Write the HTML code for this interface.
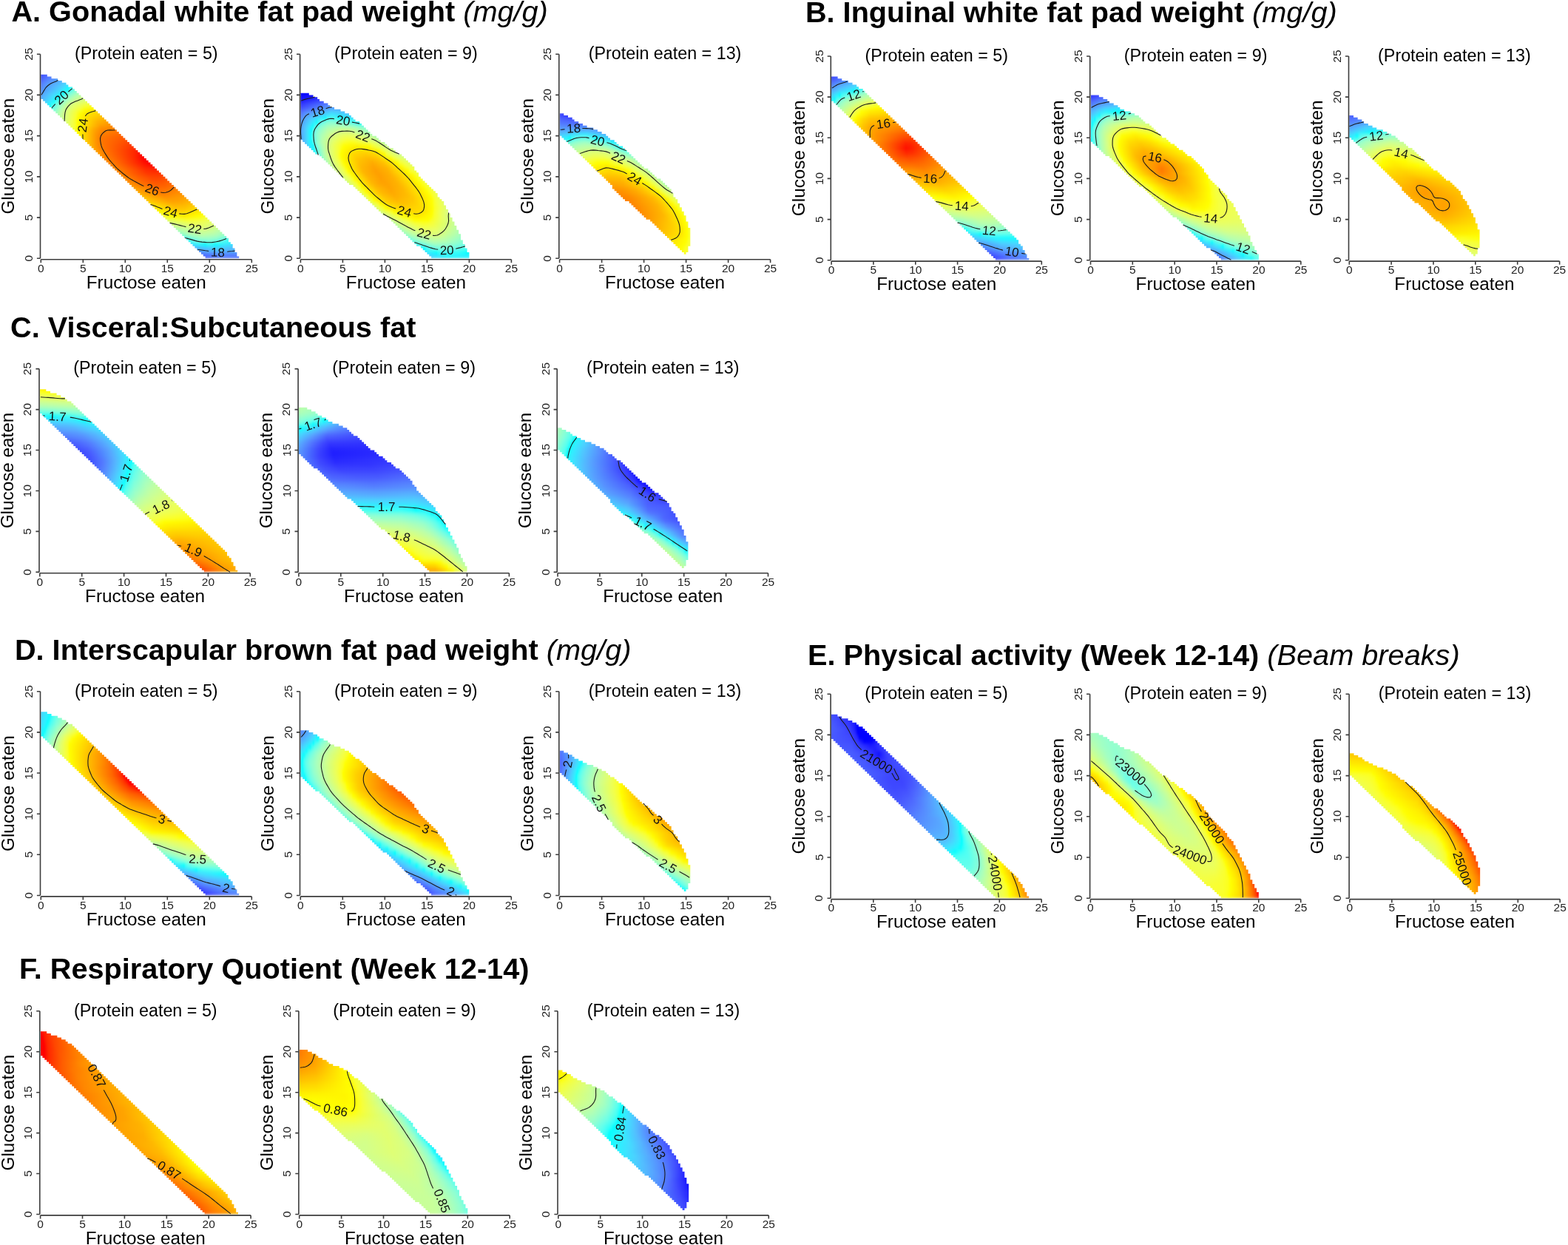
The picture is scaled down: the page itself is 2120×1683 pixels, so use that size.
<!DOCTYPE html><html><head><meta charset="utf-8"><title>Figure</title><style>body{margin:0;background:#fff;width:2120px;height:1683px;overflow:hidden;position:relative}
.hm{position:absolute;filter:url(#bl)}
.hm i{position:absolute;display:block;height:6.2px}
svg{position:absolute;left:0;top:0}
text{font-family:"Liberation Sans",Arial,Helvetica,sans-serif;fill:#000}
.ti{font-size:39.7px;font-weight:bold;white-space:pre}
.it{font-weight:normal;font-style:italic}
.sub{font-size:23.3px;text-anchor:middle}
.lab{font-size:24.3px;text-anchor:middle}
.tk{font-size:15.5px;text-anchor:middle;fill:#222}
.cl{font-size:17px;text-anchor:middle;fill:#111}
.ct{fill:none;stroke:#1a1a1a;stroke-width:1.1}
.ax{fill:none;stroke:#3c3c3c;stroke-width:1.6}</style></head><body><div class="hm" style="left:49px;top:92px;width:282px;height:264px;clip-path:url(#cA0)"><i style="left:216.1px;top:251.8px;width:62.7px;background:linear-gradient(90deg,#4453ff,#5378ff 49%,#5173ff)"></i><i style="left:211.5px;top:246.3px;width:66.3px;background:linear-gradient(90deg,#5580ff,#57a4ff 52%,#5793ff)"></i><i style="left:206.9px;top:240.7px;width:68.2px;background:linear-gradient(90deg,#57acff,#4bd1ff 53%,#55b5ff)"></i><i style="left:202.4px;top:235.2px;width:69.5px;background:linear-gradient(90deg,#4ad3ff,#2df2ff 23%,#17fbff 33%,#03ffff 38%,#21fffd 43%,#27fffc 49%,#1afffd 54%,#0ff 57%,#19faff 64%,#3ef 75%,#48d7ff)"></i><i style="left:193.3px;top:229.7px;width:75.4px;background:linear-gradient(90deg,#30f0ff,#1bfaff 8%,#06feff 11%,#29fffc 14%,#40fff7 17%,#6effe6 27%,#86ffd9 38%,#8effd4 53%,#7fffdd 67%,#67ffea 77%,#36fff9 89%,#23fffd 92%,#03ffff 95%,#1afaff)"></i><i style="left:188.7px;top:224.2px;width:76px;background:linear-gradient(90deg,#5bffef,#9effc7 29%,#b3ffb3 48%,#a7ffbf 71%,#74ffe3)"></i><i style="left:184.1px;top:218.6px;width:76.4px;background:linear-gradient(90deg,#91ffd1,#c0ffa5 33%,#cbff96 52%,#c2ffa2 72%,#a0ffc5)"></i><i style="left:179.6px;top:213.1px;width:73.5px;background:linear-gradient(90deg,#b3ffb3,#dcff7a 52%,#daff7e 69%,#c2ffa2)"></i><i style="left:170.5px;top:207.6px;width:75.3px;background:linear-gradient(90deg,#c8ff9a,#ebff5b 55%,#e9ff61 73%,#d8ff81)"></i><i style="left:165.9px;top:202.1px;width:76.1px;background:linear-gradient(90deg,#dcff7b,#faff2c 50%,#f7ff3a 70%,#e8ff63)"></i><i style="left:161.3px;top:196.6px;width:73.3px;background:linear-gradient(90deg,#ebff5d,#f8ff33 17%,#fdff1a 23%,#ffff01 27%,#fffd00 28%,#ffeb00 53%,#fffe00 81%,#fcff1f 89%,#f7ff38)"></i><i style="left:156.8px;top:191px;width:74.1px;background:linear-gradient(90deg,#f7ff39,#fbff25 6%,#fffd00 12%,#ffde00 34%,#ffd300 54%,#fff900)"></i><i style="left:147.7px;top:185.5px;width:75.9px;background:linear-gradient(90deg,#ffff07,#fffe00 2%,#ffbf00 53%,#ffc200 70%,#ffe000)"></i><i style="left:143.1px;top:180px;width:76.7px;background:linear-gradient(90deg,#ffea00,#ffac00 54%,#ffb100 72%,#ffcd00)"></i><i style="left:138.5px;top:174.5px;width:73.9px;background:linear-gradient(90deg,#ffd500,#ff9b00 53%,#ff9e00 73%,#ffb400)"></i><i style="left:134px;top:168.9px;width:74.8px;background:linear-gradient(90deg,#ffc300,#ff8600 52%,#ffa400)"></i><i style="left:124.9px;top:163.4px;width:76.5px;background:linear-gradient(90deg,#ffbc00,#ff7500 57%,#ff9200)"></i><i style="left:120.3px;top:157.9px;width:77.3px;background:linear-gradient(90deg,#ffaf00,#f60 57%,#ff6800 70%,#ff8400)"></i><i style="left:115.7px;top:152.4px;width:74.5px;background:linear-gradient(90deg,#ffa500,#ff6d00 38%,#ff5800 60%,#ff5a00 75%,#ff7400)"></i><i style="left:111.2px;top:146.9px;width:71.7px;background:linear-gradient(90deg,#ff9e00,#ff6400 39%,#ff4b00 63%,#ff4900 79%,#ff5d00)"></i><i style="left:102.1px;top:141.3px;width:77.1px;background:linear-gradient(90deg,#ffa300,#ff5f00 39%,#ff3e00 64%,#ff3a00 81%,#ff4c00)"></i><i style="left:97.5px;top:135.8px;width:74.2px;background:linear-gradient(90deg,#ff9f00,#ff3100 68%,#ff2900 83%,#ff3500)"></i><i style="left:92.9px;top:130.3px;width:75.1px;background:linear-gradient(90deg,#ff9e00,#ff2100 72%,#ff1700 86%,#ff2100)"></i><i style="left:88.4px;top:124.8px;width:72.3px;background:linear-gradient(90deg,#ff9f00,#ff0500 86%,#ff0200)"></i><i style="left:79.3px;top:119.2px;width:77.7px;background:linear-gradient(90deg,#ffb100,#ff8000 21%,#ff2c00 68%,#ff0100 85%,#f00)"></i><i style="left:74.7px;top:113.7px;width:74.8px;background:linear-gradient(90deg,#ffba00,#ff7400 29%,#ff2900 77%,#f00 95%,#f00)"></i><i style="left:70.1px;top:108.2px;width:75.7px;background:linear-gradient(90deg,#ffc600,#ff7500 30%,#ff0d00)"></i><i style="left:65.6px;top:102.7px;width:72.9px;background:linear-gradient(90deg,#ffd700,#ff9200 22%,#ff7100 37%,#ff2a00)"></i><i style="left:56.5px;top:97.2px;width:78.3px;background:linear-gradient(90deg,#fffc00,#ff9300 31%,#ff7300 43%,#ff3b00)"></i><i style="left:51.9px;top:91.6px;width:75.4px;background:linear-gradient(90deg,#f8ff36,#fffc00 6%,#ff7600 48%,#ff4f00)"></i><i style="left:47.3px;top:86.1px;width:76.3px;background:linear-gradient(90deg,#efff52,#f8ff34 6%,#fdff1c 9%,#ffff03 11%,#fffb00 12%,#ff9600 44%,#ff7d00 55%,#ff6100)"></i><i style="left:42.8px;top:80.6px;width:73.5px;background:linear-gradient(90deg,#e5ff6a,#f9ff31 12%,#fffe00 17%,#ffa600 48%,#f80 62%,#ff7400)"></i><i style="left:33.7px;top:75.1px;width:75.2px;background:linear-gradient(90deg,#cbff95,#f5ff41 22%,#fcff23 26%,#fffd00 29%,#ff9b00 71%,#ff8700)"></i><i style="left:29.1px;top:69.6px;width:76.1px;background:linear-gradient(90deg,#baffab,#f2ff49 26%,#fbff24 32%,#fffe00 35%,#ffb300 70%,#ff9600)"></i><i style="left:24.5px;top:64px;width:73.2px;background:linear-gradient(90deg,#a2ffc4,#ccff95 14%,#f2ff4b 33%,#faff2a 39%,#fffd00 44%,#ffd200 66%,#ffac00)"></i><i style="left:20px;top:58.5px;width:74.1px;background:linear-gradient(90deg,#7bffe0,#abffbb 11%,#d5ff86 25%,#f8ff36 45%,#fffd00 53%,#ffe300 67%,#ffc400)"></i><i style="left:10.9px;top:53px;width:75.8px;background:linear-gradient(90deg,#38e9ff,#28f4ff 3%,#07ffff 6%,#34fffa 8%,#48fff5 9%,#78ffe1 15%,#b6ffb0 29%,#deff77 42%,#f9ff2f 64%,#fffe00 71%,#ffe000)"></i><i style="left:6.3px;top:47.5px;width:76.7px;background:linear-gradient(90deg,#50c6ff,#31efff 12%,#1df9ff 15%,#07feff 16%,#2bfffb 18%,#41fff7 19%,#68ffe9 24%,#a1ffc4 34%,#c9ff98 45%,#e2ff6f 57%,#faff2b 85%,#ff0 94%,#fff800)"></i><i style="left:6.3px;top:41.9px;width:71.8px;background:linear-gradient(90deg,#55b7ff,#3de5ff 16%,#12fffe 26%,#32fffa 27%,#45fff6 29%,#6bffe8 34%,#98ffcc 42%,#bcffa9 52%,#d4ff88 65%,#f3ff47)"></i><i style="left:6.3px;top:36.4px;width:66px;background:linear-gradient(90deg,#57a9ff,#3fe2ff 25%,#2bf2ff 32%,#0bffff 37%,#31fffa 39%,#53fff2 42%,#7effde 49%,#9bffc9 56%,#bcffa8 70%,#deff76)"></i><i style="left:6.3px;top:30.9px;width:60.4px;background:linear-gradient(90deg,#589bff,#51c3ff 19%,#40e1ff 37%,#27f5ff 46%,#09feff 50%,#26fffc 52%,#4dfff3 56%,#7fffdd 65%,#a4ffc2 79%,#c3ffa0)"></i><i style="left:6.3px;top:25.4px;width:54.6px;background:linear-gradient(90deg,#578fff,#48d6ff 47%,#38e9ff 57%,#14fcff 66%,#15fffe 68%,#34fffa 70%,#46fff6 72%,#68ffe9 79%,#9effc7)"></i><i style="left:6.3px;top:19.9px;width:48.5px;background:linear-gradient(90deg,#5580ff,#589fff 19%,#56b4ff 40%,#4bd2ff 64%,#2ff0ff 81%,#1cf9ff 86%,#08feff 88%,#3afff9 93%,#5effee)"></i><i style="left:6.3px;top:14.3px;width:41.1px;background:linear-gradient(90deg,#506dff,#578dff 25%,#57aeff 64%,#3fe2ff)"></i><i style="left:6.3px;top:8.8px;width:31.3px;background:linear-gradient(90deg,#4759ff,#547dff 41%,#57aaff)"></i><i style="left:6.3px;top:3.3px;width:17.4px;background:linear-gradient(90deg,#3c44ff,#5274ff)"></i></div><div class="hm" style="left:400px;top:118px;width:243px;height:238px;clip-path:url(#cA1)"><i style="left:172.4px;top:225.8px;width:68.1px;background:linear-gradient(90deg,#52c0ff,#41e0ff 24%,#2bf2ff 46%,#27f4ff 61%,#37ebff)"></i><i style="left:165.2px;top:220.3px;width:74.4px;background:linear-gradient(90deg,#4eccff,#33edff 20%,#05ffff 34%,#18fffe 35%,#30fffa 40%,#47fff5 52%,#2cfffb 75%,#19fffe 83%,#02ffff 88%,#1ef8ff)"></i><i style="left:157.9px;top:214.7px;width:79.4px;background:linear-gradient(90deg,#44dcff,#2bf3ff 13%,#0cfdff 19%,#0ffffe 20%,#26fffc 22%,#3ffff7 25%,#65ffeb 33%,#75ffe3 42%,#7bffe0 55%,#5bffef 86%,#40fff7)"></i><i style="left:154.3px;top:209.2px;width:80.8px;background:linear-gradient(90deg,#24f6ff,#02ffff 4%,#1ffffd 6%,#2ffffb 7%,#60ffed 16%,#8cffd5 30%,#9fffc6 43%,#9affca 63%,#67ffea)"></i><i style="left:147px;top:203.7px;width:85.5px;background:linear-gradient(90deg,#39fff9,#60ffed 5%,#85ffda 15%,#a9ffbd 30%,#bdffa7 45%,#b7ffaf 64%,#81ffdc)"></i><i style="left:139.8px;top:198.2px;width:90px;background:linear-gradient(90deg,#5bffef,#84ffda 8%,#a9ffbd 19%,#c7ff9b 35%,#d3ff89 47%,#d4ff87 58%,#95ffce)"></i><i style="left:136.1px;top:192.6px;width:90.9px;background:linear-gradient(90deg,#82ffdc,#a7ffbf 10%,#c7ff9b 23%,#dfff76 39%,#e4ff6c 51%,#e1ff72 61%,#a5ffc1)"></i><i style="left:128.9px;top:187.1px;width:95.5px;background:linear-gradient(90deg,#8cffd5,#b3ffb3 11%,#d6ff84 25%,#eaff5e 40%,#efff51 51%,#eaff5e 64%,#b2ffb4)"></i><i style="left:121.6px;top:181.6px;width:100.1px;background:linear-gradient(90deg,#96ffcd,#beffa6 11%,#dfff76 25%,#f5ff40 41%,#f9ff2f 51%,#f6ff3d 62%,#bfa)"></i><i style="left:118px;top:176.1px;width:101.3px;background:linear-gradient(90deg,#adffb9,#d5ff87 14%,#f4ff43 31%,#fcff21 37%,#fffe00 42%,#ff0 60%,#fbff25 65%,#ecff59 76%,#c2ffa2)"></i><i style="left:110.7px;top:170.6px;width:106.1px;background:linear-gradient(90deg,#b3ffb3,#d7ff83 11%,#f5ff41 25%,#fdff1d 30%,#ff0 32%,#ffe800 51%,#fffe00 68%,#faff2d 72%,#edff58 80%,#d9ff80 89%,#c5ff9d)"></i><i style="left:103.5px;top:165px;width:110.6px;background:linear-gradient(90deg,#b7ffaf,#f5ff41 20%,#fcff1e 24%,#fffe00 26%,#ffe300 38%,#ffda00 52%,#ffe500 63%,#fffe00 73%,#faff2a 76%,#f1ff4d 81%,#ddff79 91%,#caff97)"></i><i style="left:99.8px;top:159.5px;width:111.1px;background:linear-gradient(90deg,#c7ff9b,#efff52 12%,#faff2c 16%,#ffff03 19%,#fffb00 20%,#ffd900 32%,#ffcd00 46%,#ffd900 62%,#fffc00 76%,#ffff06 77%,#fbff26 79%,#f2ff4b 85%,#d1ff8d)"></i><i style="left:92.6px;top:154px;width:115.3px;background:linear-gradient(90deg,#c6ff9c,#f3ff47 13%,#fbff27 16%,#fffd00 18%,#ffcf00 30%,#ffc000 45%,#ffd000 61%,#fffd00 79%,#fbff26 82%,#f4ff45 86%,#d6ff85)"></i><i style="left:85.3px;top:148.5px;width:119.4px;background:linear-gradient(90deg,#c1ffa3,#f2ff4a 12%,#faff2a 15%,#fffe00 17%,#ffc600 31%,#ffb500 43%,#ffc700 61%,#fffd00 82%,#ffff05 83%,#fbff24 85%,#f6ff3c 87%,#dcff7a)"></i><i style="left:81.7px;top:142.9px;width:119px;background:linear-gradient(90deg,#c7ff9a,#f5ff41 12%,#fbff29 13%,#fffd00 15%,#ffc000 30%,#ffac00 43%,#ffbe00 59%,#fffc00 83%,#ffff03 84%,#fcff22 86%,#f7ff39 88%,#e0ff73)"></i><i style="left:74.4px;top:137.4px;width:121.9px;background:linear-gradient(90deg,#bfffa5,#efff51 11%,#f9ff31 14%,#feff08 16%,#fffb00 17%,#ffba00 32%,#ffa700 45%,#ffb800 59%,#fffe00 85%,#fdff1b 87%,#f8ff34 90%,#e5ff6a)"></i><i style="left:67.2px;top:131.9px;width:125.1px;background:linear-gradient(90deg,#b6ffaf,#daff7f 7%,#f0ff50 13%,#faff2e 16%,#fcff1d 17%,#fffe00 17%,#ffb800 33%,#ffa300 47%,#ffb600 61%,#fffe00 85%,#fdff1c 87%,#f8ff34 90%,#e6ff68)"></i><i style="left:63.5px;top:126.4px;width:123.7px;background:linear-gradient(90deg,#bdffa7,#f0ff4e 12%,#faff2c 15%,#fffd00 17%,#ffb900 31%,#ffa700 39%,#ffa100 46%,#ffb300 60%,#fffe00 85%,#fdff1b 87%,#f8ff33 90%,#e7ff66)"></i><i style="left:56.3px;top:120.9px;width:125.5px;background:linear-gradient(90deg,#b3ffb3,#f0ff4f 14%,#f9ff2f 16%,#fcff20 17%,#ffff02 18%,#fffa00 19%,#ffb500 34%,#ff9f00 47%,#ffb100 61%,#fffe00 85%,#fcff1e 87%,#f8ff35 90%,#e7ff66)"></i><i style="left:49px;top:115.3px;width:126.9px;background:linear-gradient(90deg,#a4ffc2,#c9ff98 6%,#efff52 15%,#f8ff34 18%,#fffc00 21%,#ffb400 36%,#ff9e00 50%,#ffaf00 62%,#fffd00 86%,#f8ff33 90%,#e7ff66)"></i><i style="left:45.4px;top:109.8px;width:125.7px;background:linear-gradient(90deg,#a5ffc0,#c7ff9b 5%,#edff57 15%,#f9ff2f 18%,#fcff20 19%,#ffff05 20%,#fffa00 21%,#ffb600 36%,#ff9f00 50%,#ffb100 63%,#fffe00 85%,#fcff1e 86%,#f8ff37 89%,#e4ff6c)"></i><i style="left:38.1px;top:104.3px;width:129.1px;background:linear-gradient(90deg,#85ffda,#c2ffa2 7%,#f0ff4f 18%,#fbff25 21%,#fffd00 23%,#ffb800 39%,#ffa300 52%,#ffb700 65%,#fffd00 82%,#fbff27 85%,#f6ff3d 88%,#deff78)"></i><i style="left:30.9px;top:98.8px;width:132.2px;background:linear-gradient(90deg,#34fffa,#63ffec 2%,#7fffdd 3%,#b5ffb1 9%,#daff7e 15%,#f4ff42 22%,#faff2e 23%,#fffc00 26%,#ffbe00 42%,#ffab00 55%,#ffbf00 66%,#fffd00 81%,#faff2b 83%,#f3ff47 87%,#d7ff83)"></i><i style="left:27.2px;top:93.2px;width:130.2px;background:linear-gradient(90deg,#21f7ff,#0ff 1%,#3cfff8 2%,#67ffea 4%,#8effd3 6%,#b1ffb4 10%,#d9ff80 16%,#f4ff43 23%,#fbff24 25%,#fffd00 27%,#ffc900 42%,#ffb800 55%,#ffc500 65%,#fffd00 78%,#faff2d 81%,#f1ff4c 84%,#e3ff6d 90%,#ceff91)"></i><i style="left:20px;top:87.7px;width:131.4px;background:linear-gradient(90deg,#4ad4ff,#38e9ff 3%,#0ffffe 5%,#3efff8 6%,#68ffe9 8%,#abffbb 13%,#d6ff85 19%,#f6ff3b 28%,#fdff1a 30%,#ffff03 31%,#fffc00 32%,#ffd500 45%,#ffc900 57%,#ffd300 67%,#fffe00 77%,#fdff1a 77%,#f8ff35 79%,#ebff5b 83%,#daff7e 90%,#c4ff9f)"></i><i style="left:12.7px;top:82.2px;width:132.9px;background:linear-gradient(90deg,#56b3ff,#43ddff 5%,#35ecff 7%,#18fbff 9%,#25fffc 9%,#46fff6 10%,#5bffef 11%,#79ffe1 13%,#baffab 19%,#deff78 25%,#f8ff33 34%,#fffe00 37%,#ffe700 46%,#ffdc00 57%,#ffe700 68%,#ff0 75%,#fdff19 76%,#f8ff35 78%,#e4ff6c 84%,#cfff8f 90%,#b5ffb0)"></i><i style="left:9.1px;top:76.7px;width:128.7px;background:linear-gradient(90deg,#57a6ff,#41e0ff 7%,#22f7ff 10%,#03ffff 11%,#39fff9 12%,#63ffeb 13%,#89ffd7 16%,#b2ffb4 21%,#e4ff6c 30%,#f9ff2f 39%,#ffff03 43%,#fffd00 44%,#fff000 57%,#fffe00 70%,#fbff26 73%,#d6ff85 87%,#bfffa5 93%,#a8ffbe)"></i><i style="left:6.4px;top:71.2px;width:123.6px;background:linear-gradient(90deg,#589bff,#53c0ff 5%,#42dfff 8%,#24f6ff 11%,#06feff 12%,#38fff9 13%,#52fff2 14%,#71ffe5 16%,#99ffcb 19%,#baffac 24%,#e9ff61 37%,#fbff25 49%,#fdff15 55%,#fcff1d 59%,#e3ff6d 81%,#9bffc9)"></i><i style="left:6.4px;top:65.6px;width:115.8px;background:linear-gradient(90deg,#589fff,#44dcff 8%,#35ecff 10%,#14fcff 12%,#4afff5 14%,#78ffe1 17%,#b3ffb2 25%,#dbff7c 37%,#efff52 49%,#f3ff46 55%,#f1ff4e 62%,#cfff90 84%,#96ffcd)"></i><i style="left:6.4px;top:60.1px;width:108.1px;background:linear-gradient(90deg,#58a2ff,#43deff 9%,#25f6ff 12%,#0bfdff 13%,#34fffa 14%,#4dfff3 15%,#6dffe7 17%,#8affd7 20%,#a9ffbd 26%,#cdff93 37%,#e0ff74 49%,#e5ff6a 57%,#e4ff6c 64%,#d7ff84 72%,#b0ffb6 90%,#90ffd2)"></i><i style="left:6.4px;top:54.6px;width:101.3px;background:linear-gradient(90deg,#58a2ff,#51c5ff 6%,#3fe3ff 10%,#2df1ff 12%,#08ffff 15%,#39fff9 16%,#4efff3 17%,#73ffe4 20%,#91ffd1 25%,#b9ffac 36%,#ceff91 53%,#ceff91 65%,#c7ff9b 72%,#7affe0)"></i><i style="left:6.4px;top:49.1px;width:94.7px;background:linear-gradient(90deg,#589eff,#53bfff 6%,#42dfff 12%,#2cf2ff 16%,#0cfdff 18%,#40fff7 20%,#51fff2 22%,#86ffd9 29%,#a7ffbf 40%,#b0ffb6 54%,#a7ffbf 69%,#97ffcd 78%,#71ffe5 92%,#49fff5)"></i><i style="left:6.4px;top:43.6px;width:88.1px;background:linear-gradient(90deg,#5897ff,#46daff 16%,#33edff 21%,#11fffe 26%,#31fffa 27%,#42fff7 29%,#61ffed 32%,#81ffdc 40%,#8cffd5 47%,#81ffdc 60%,#59ffef 78%,#36fff9 87%,#23fffc 90%,#04feff 92%,#18fbff 95%,#2bf3ff)"></i><i style="left:6.4px;top:38px;width:82.2px;background:linear-gradient(90deg,#568aff,#56b3ff 11%,#48d7ff 25%,#30efff 35%,#0dfdff 40%,#14fffe 42%,#38fff9 44%,#4afff4 49%,#49fff5 53%,#37fff9 58%,#26fffc 61%,#01ffff 64%,#1cf9ff 68%,#2ff0ff 75%,#49d6ff)"></i><i style="left:6.4px;top:32.5px;width:75.6px;background:linear-gradient(90deg,#5378ff,#589bff 12%,#55b5ff 30%,#40e1ff 55%,#54bbff)"></i><i style="left:6.4px;top:27px;width:68.3px;background:linear-gradient(90deg,#4a5eff,#5583ff 24%,#55b8ff 61%,#55b8ff 75%,#57a4ff)"></i><i style="left:6.4px;top:21.5px;width:55.2px;background:linear-gradient(90deg,#3a40ff,#5790ff 73%,#5792ff)"></i><i style="left:6.4px;top:15.9px;width:43.3px;background:linear-gradient(90deg,#2323ff,#5170ff)"></i><i style="left:6.4px;top:10.4px;width:34px;background:linear-gradient(90deg,#1211ff,#1d1cff 48%,#3a41ff)"></i><i style="left:6.4px;top:4.9px;width:25.1px;background:linear-gradient(90deg,#0303ff,#0404ff)"></i></div><div class="hm" style="left:750px;top:145px;width:190px;height:211px;clip-path:url(#cA2)"><i style="left:167.7px;top:198.8px;width:16.8px;background:linear-gradient(90deg,#fffd00,#ffff01 7%,#fbff26 36%,#f2ff49)"></i><i style="left:163.1px;top:193.3px;width:22.7px;background:linear-gradient(90deg,#fff500,#ffff02 32%,#fbff26 53%,#f2ff4a)"></i><i style="left:158.2px;top:187.7px;width:28.7px;background:linear-gradient(90deg,#ffec00,#fffe00 48%,#fbff24 64%,#f1ff4d)"></i><i style="left:152px;top:182.2px;width:35.1px;background:linear-gradient(90deg,#ffe100,#fffe00 67%,#fbff27 80%,#f3ff47)"></i><i style="left:145.9px;top:176.7px;width:41.6px;background:linear-gradient(90deg,#ffd100,#ff0 78%,#fbff27 86%,#f3ff47)"></i><i style="left:139.7px;top:171.2px;width:47.8px;background:linear-gradient(90deg,#ffbf00,#ffe300 59%,#fffd00 83%,#fbff26 90%,#f4ff43)"></i><i style="left:133.6px;top:165.6px;width:53.9px;background:linear-gradient(90deg,#ffae00,#ffdf00 64%,#fffe00 85%,#faff2b 91%,#f2ff49)"></i><i style="left:127.5px;top:160.1px;width:59.6px;background:linear-gradient(90deg,#ff9f00,#ffda00 63%,#fffe00 87%,#faff2d 92%,#f1ff4b)"></i><i style="left:121.3px;top:154.6px;width:65.2px;background:linear-gradient(90deg,#ff9200,#ffd100 60%,#fffd00 86%,#faff2b 91%,#efff52)"></i><i style="left:115.2px;top:149.1px;width:69.7px;background:linear-gradient(90deg,#ff8700,#ffc100 52%,#fffb00 85%,#ffff01 87%,#fdff19 89%,#f9ff31 92%,#eeff56)"></i><i style="left:109px;top:143.6px;width:73.7px;background:linear-gradient(90deg,#ff7f00,#ffb800 52%,#fffc00 86%,#f8ff33 92%,#edff58)"></i><i style="left:102.4px;top:138px;width:78.2px;background:linear-gradient(90deg,#ff7800,#ffb500 53%,#fffd00 85%,#faff2e 90%,#e9ff61)"></i><i style="left:96.3px;top:132.5px;width:82px;background:linear-gradient(90deg,#ff7400,#ffb200 54%,#fffe00 85%,#fdff17 86%,#f9ff32 89%,#e5ff6a)"></i><i style="left:89.7px;top:127px;width:86.1px;background:linear-gradient(90deg,#ff7400,#ffb300 55%,#ffcb00 65%,#fffd00 81%,#fcff24 84%,#f7ff39 87%,#dcff7a)"></i><i style="left:83.6px;top:121.5px;width:88.6px;background:linear-gradient(90deg,#ff7900,#ff8a00 23%,#ffb400 55%,#ffcd00 66%,#fffc00 79%,#fcff23 82%,#f4ff43 86%,#d6ff86)"></i><i style="left:78.5px;top:115.9px;width:90.4px;background:linear-gradient(90deg,#ff8200,#ff8c00 22%,#ffad00 47%,#ffce00 63%,#fffc00 76%,#f8ff35 80%,#efff52 84%,#c8ff9a)"></i><i style="left:72.9px;top:110.4px;width:92.7px;background:linear-gradient(90deg,#ff8e00,#ff9100 20%,#fa0 41%,#ffce00 59%,#fffd00 73%,#faff2b 75%,#e9ff61 81%,#d5ff87 89%,#b7ffae)"></i><i style="left:67.8px;top:104.9px;width:94.5px;background:linear-gradient(90deg,#ff9d00,#ff9a00 17%,#ffa700 33%,#ffce00 55%,#fffc00 70%,#f8ff35 73%,#e3ff6e 80%,#c6ff9c 89%,#a3ffc2)"></i><i style="left:62.7px;top:99.4px;width:96.3px;background:linear-gradient(90deg,#ffaf00,#ffa700 17%,#ffae00 31%,#ffd400 51%,#fffc00 65%,#f6ff3b 70%,#dfff76 79%,#b6ffb0 89%,#87ffd8)"></i><i style="left:57.1px;top:93.9px;width:95.3px;background:linear-gradient(90deg,#ffc400,#ffb700 18%,#ffba00 33%,#fc0 45%,#fffd00 64%,#faff2c 67%,#eaff5e 75%,#beffa7 88%,#81ffdc)"></i><i style="left:51.4px;top:88.3px;width:93.7px;background:linear-gradient(90deg,#ffd800,#ffc700 22%,#ffc900 34%,#ffd700 46%,#fffd00 61%,#f7ff3a 67%,#d3ff8a 83%,#acffba 93%,#83ffdb)"></i><i style="left:45.8px;top:82.8px;width:92.7px;background:linear-gradient(90deg,#ffec00,#ffd700 31%,#ffe700 48%,#ff0 59%,#fcff23 62%,#f1ff4c 68%,#c6ff9c 86%,#88ffd8)"></i><i style="left:40.2px;top:77.3px;width:91.6px;background:linear-gradient(90deg,#feff09,#ff0 1%,#ffe800 32%,#ff0 52%,#fdff1a 55%,#f9ff2f 59%,#d2ff8a 80%,#b1ffb5 91%,#89ffd7)"></i><i style="left:34.9px;top:71.8px;width:90.3px;background:linear-gradient(90deg,#f2ff49,#fbff27 15%,#ff0 25%,#ff0 42%,#fcff1e 46%,#f4ff42 53%,#d5ff87 76%,#adffb9 90%,#80ffdd)"></i><i style="left:29.4px;top:66.2px;width:89.7px;background:linear-gradient(90deg,#e3ff6e,#f5ff40 28%,#f6ff3d 42%,#ebff5b 54%,#d9ff7f 64%,#bcffa9 81%,#9dffc8 91%,#70ffe5)"></i><i style="left:23.2px;top:60.7px;width:90.3px;background:linear-gradient(90deg,#cfff8f,#e8ff62 33%,#e8ff63 46%,#e1ff71 54%,#b7ffae 72%,#8dffd4 87%,#69ffe9 95%,#3efff8)"></i><i style="left:17.8px;top:55.2px;width:89.7px;background:linear-gradient(90deg,#b6ffb0,#d7ff83 36%,#ccff95 59%,#adffb9 71%,#63ffeb 87%,#41fff7 92%,#07feff 96%,#2af3ff)"></i><i style="left:12.3px;top:49.7px;width:89.1px;background:linear-gradient(90deg,#8effd4,#b6ffb0 22%,#bdffa8 44%,#a6ffbf 63%,#8effd3 72%,#56fff0 81%,#3afff8 83%,#07feff 86%,#1afaff 87%,#2bf2ff 90%,#47d8ff)"></i><i style="left:6.6px;top:44.2px;width:87.6px;background:linear-gradient(90deg,#3efff8,#8fffd3 22%,#a2ffc4 38%,#96ffcd 50%,#5cffee 71%,#3afff9 78%,#2bfffb 79%,#0ffffe 80%,#3ae7ff 88%,#51c5ff)"></i><i style="left:6.6px;top:38.6px;width:79.7px;background:linear-gradient(90deg,#3ce6ff,#29f4ff 12%,#12fcff 16%,#01ffff 17%,#23fffc 19%,#34fffa 20%,#59ffef 26%,#6affe9 33%,#6dffe7 45%,#61ffec 51%,#42fff7 57%,#25fffc 59%,#01ffff 61%,#1df9ff 64%,#35ecff 71%,#55b4ff)"></i><i style="left:6.6px;top:33.1px;width:72.5px;background:linear-gradient(90deg,#51c4ff,#3de5ff 32%,#39e9ff 49%,#51c5ff 75%,#589dff)"></i><i style="left:6.6px;top:27.6px;width:64.6px;background:linear-gradient(90deg,#57a4ff,#56b3ff 59%,#5685ff)"></i><i style="left:6.6px;top:22.1px;width:53.1px;background:linear-gradient(90deg,#568aff,#5584ff 74%,#5172ff)"></i><i style="left:6.6px;top:16.6px;width:40.3px;background:linear-gradient(90deg,#5273ff,#4757ff)"></i><i style="left:6.6px;top:11px;width:29.3px;background:linear-gradient(90deg,#4a5eff,#3438ff)"></i><i style="left:6.6px;top:5.5px;width:19.2px;background:linear-gradient(90deg,#3d46ff,#1e1eff)"></i></div><div class="hm" style="left:1118px;top:95px;width:281px;height:263px;clip-path:url(#cB0)"><i style="left:215.3px;top:251.2px;width:62.5px;background:linear-gradient(90deg,#201fff,#3b43ff 22%,#4d67ff 49%,#5689ff)"></i><i style="left:210.8px;top:245.7px;width:66.2px;background:linear-gradient(90deg,#3b42ff,#5685ff 50%,#58a0ff)"></i><i style="left:206.2px;top:240.2px;width:68.1px;background:linear-gradient(90deg,#4a5fff,#589eff 47%,#55b7ff)"></i><i style="left:201.7px;top:234.6px;width:69.4px;background:linear-gradient(90deg,#547dff,#53bdff 51%,#4dceff)"></i><i style="left:192.6px;top:229.1px;width:75.2px;background:linear-gradient(90deg,#5899ff,#57a8ff 18%,#47d8ff 55%,#3de5ff)"></i><i style="left:188px;top:223.6px;width:75.8px;background:linear-gradient(90deg,#54b9ff,#48d6ff 27%,#29f3ff 53%,#1df9ff 67%,#15fbff)"></i><i style="left:183.5px;top:218.1px;width:76.2px;background:linear-gradient(90deg,#48d7ff,#2cf2ff 21%,#1bfaff 27%,#0ff 31%,#1afffd 33%,#38fff9 37%,#59ffef 49%,#63ffec 64%,#5affef)"></i><i style="left:178.9px;top:212.6px;width:73.3px;background:linear-gradient(90deg,#2af3ff,#1afaff 6%,#07feff 9%,#3bfff8 16%,#5dffee 23%,#78ffe1 34%,#8bffd5 50%,#8fffd2 69%,#82ffdb)"></i><i style="left:169.8px;top:207.1px;width:75.1px;background:linear-gradient(90deg,#4dfff4,#91ffd2 33%,#a4ffc1 48%,#acffba 70%,#9fffc6)"></i><i style="left:165.3px;top:201.6px;width:75.9px;background:linear-gradient(90deg,#88ffd7,#96ffce 18%,#bcffa9 55%,#bfffa5 74%,#b5ffb0)"></i><i style="left:160.7px;top:196px;width:73.1px;background:linear-gradient(90deg,#abffbb,#cdff93 59%,#c8ff9a)"></i><i style="left:156.2px;top:190.5px;width:74px;background:linear-gradient(90deg,#c3ffa0,#daff7e 55%,#d4ff87)"></i><i style="left:147.1px;top:185px;width:75.7px;background:linear-gradient(90deg,#d1ff8c,#e0ff73 29%,#e7ff65 59%,#e0ff74)"></i><i style="left:142.5px;top:179.5px;width:76.5px;background:linear-gradient(90deg,#e1ff72,#efff52 31%,#f2ff48 52%,#f1ff4b 69%,#e8ff64)"></i><i style="left:138px;top:174px;width:73.7px;background:linear-gradient(90deg,#eeff53,#f2ff4a 16%,#fbff24 41%,#fcff1d 53%,#fbff25 69%,#f0ff4f)"></i><i style="left:133.4px;top:168.5px;width:74.6px;background:linear-gradient(90deg,#fbff27,#fdff15 14%,#ff0 22%,#fff300 52%,#ff0 83%,#fdff1d 89%,#f8ff34)"></i><i style="left:124.3px;top:163px;width:76.3px;background:linear-gradient(90deg,#fff500,#ffe200 57%,#fff900)"></i><i style="left:119.8px;top:157.4px;width:77.1px;background:linear-gradient(90deg,#ffe200,#ffd000 51%,#ffe900)"></i><i style="left:115.3px;top:151.9px;width:74.3px;background:linear-gradient(90deg,#ffd100,#ffbd00 51%,#ffd800)"></i><i style="left:110.7px;top:146.4px;width:71.5px;background:linear-gradient(90deg,#ffc100,#ffac00 55%,#ffc800)"></i><i style="left:101.6px;top:140.9px;width:76.9px;background:linear-gradient(90deg,#ffb500,#ffa100 30%,#ff9d00 52%,#ffbe00)"></i><i style="left:97.1px;top:135.4px;width:74px;background:linear-gradient(90deg,#ffa400,#ff8e00 51%,#ffb100)"></i><i style="left:92.5px;top:129.9px;width:74.9px;background:linear-gradient(90deg,#ff9400,#ff7f00 51%,#ffa800)"></i><i style="left:88px;top:124.4px;width:72.1px;background:linear-gradient(90deg,#ff8700,#ff7100 24%,#ff6c00 49%,#ff7800 70%,#ff9a00)"></i><i style="left:78.9px;top:118.8px;width:77.5px;background:linear-gradient(90deg,#ff8900,#ff6200 25%,#ff5600 44%,#ff6200 66%,#ff8d00)"></i><i style="left:74.3px;top:113.3px;width:74.6px;background:linear-gradient(90deg,#ff8900,#ff4f00 31%,#ff3f00 46%,#ff4900 65%,#ff7800)"></i><i style="left:69.8px;top:107.8px;width:75.5px;background:linear-gradient(90deg,#ff8d00,#ff2500 50%,#ff2d00 61%,#ff6b00)"></i><i style="left:65.2px;top:102.3px;width:72.7px;background:linear-gradient(90deg,#ff9400,#ff4f00 33%,#ff1000 57%,#ff1400 63%,#ff5700)"></i><i style="left:56.1px;top:96.8px;width:78.1px;background:linear-gradient(90deg,#ffab00,#ff1f00 65%,#ff2300 74%,#ff5100)"></i><i style="left:51.6px;top:91.3px;width:75.3px;background:linear-gradient(90deg,#ffb600,#ff3a00 70%,#ff3700 82%,#ff4a00)"></i><i style="left:47px;top:85.8px;width:76.1px;background:linear-gradient(90deg,#ffc200,#ff9000 27%,#ff5700 70%,#ff4d00 85%,#ff5200)"></i><i style="left:42.5px;top:80.3px;width:73.3px;background:linear-gradient(90deg,#ffd300,#ff9800 31%,#ff6a00 81%,#ff6200)"></i><i style="left:33.4px;top:74.7px;width:75px;background:linear-gradient(90deg,#fff800,#ffc000 22%,#ffa300 37%,#ff7b00)"></i><i style="left:28.8px;top:69.2px;width:75.9px;background:linear-gradient(90deg,#f5ff40,#fcff21 5%,#fffc00 8%,#ffc900 27%,#ffb000 41%,#ff9200)"></i><i style="left:24.3px;top:63.7px;width:73px;background:linear-gradient(90deg,#e4ff6b,#f8ff33 13%,#fdff1a 16%,#ff0 17%,#ffd500 34%,#ffc000 48%,#ffad00)"></i><i style="left:19.7px;top:58.2px;width:73.9px;background:linear-gradient(90deg,#cfff90,#f4ff45 20%,#fbff28 25%,#ffff02 28%,#ffd400 53%,#ffc400)"></i><i style="left:10.6px;top:52.7px;width:75.6px;background:linear-gradient(90deg,#9fffc6,#c7ff9b 14%,#ef5 33%,#faff2b 42%,#fdff15 45%,#ff0 47%,#ffea00 64%,#ffdc00)"></i><i style="left:6.1px;top:47.2px;width:76.5px;background:linear-gradient(90deg,#66ffea,#8effd3 7%,#afffb7 16%,#e5ff69 42%,#f8ff33 58%,#ff0 78%,#fff400)"></i><i style="left:6.1px;top:41.7px;width:71.6px;background:linear-gradient(90deg,#1ffffd,#4cfff4 3%,#6fffe6 8%,#95ffce 16%,#b1ffb5 26%,#e8ff64 63%,#f6ff3d)"></i><i style="left:6.1px;top:36.1px;width:65.8px;background:linear-gradient(90deg,#38e9ff,#1cf9ff 5%,#02ffff 7%,#30fffb 9%,#55fff1 12%,#75ffe3 18%,#8dffd4 25%,#cdff92 67%,#e3ff6e)"></i><i style="left:6.1px;top:30.6px;width:60.2px;background:linear-gradient(90deg,#4dceff,#2ef1ff 13%,#19faff 17%,#04feff 19%,#27fffc 21%,#39fff9 23%,#5affef 31%,#82ffdb 52%,#abffbb 73%,#c8ff99)"></i><i style="left:6.1px;top:25.1px;width:54.4px;background:linear-gradient(90deg,#56afff,#46d9ff 21%,#2df2ff 43%,#1bfaff 51%,#04feff 55%,#3afff8 62%,#5fffed 70%,#82ffdc 83%,#a0ffc5)"></i><i style="left:6.1px;top:19.6px;width:48.4px;background:linear-gradient(90deg,#5791ff,#55b6ff 24%,#46daff 62%,#30efff 79%,#0ffdff 88%,#13fffe 90%,#2dfffb 93%,#52fff2)"></i><i style="left:6.1px;top:14.1px;width:41px;background:linear-gradient(90deg,#5274ff,#5790ff 22%,#57acff 58%,#47d9ff)"></i><i style="left:6.1px;top:8.6px;width:31.2px;background:linear-gradient(90deg,#4757ff,#589fff)"></i><i style="left:6.1px;top:3.1px;width:17.3px;background:linear-gradient(90deg,#3439ff,#4c64ff)"></i></div><div class="hm" style="left:1468px;top:121px;width:243px;height:237px;clip-path:url(#cB1)"><i style="left:172.1px;top:225.2px;width:68px;background:linear-gradient(90deg,#4656ff,#578fff 24%,#51c5ff 47%,#36ebff 66%,#21f7ff 73%,#0cfdff 76%,#4afff4 85%,#76ffe3)"></i><i style="left:164.8px;top:219.7px;width:74.2px;background:linear-gradient(90deg,#4e69ff,#589fff 23%,#4ccfff 42%,#2ff0ff 57%,#1df9ff 62%,#01ffff 65%,#21fffd 66%,#31fffa 68%,#55fff1 74%,#77ffe2 85%,#92ffd0)"></i><i style="left:157.6px;top:214.2px;width:79.1px;background:linear-gradient(90deg,#5582ff,#57a9ff 20%,#4ccfff 33%,#2cf2ff 46%,#14fcff 51%,#03ffff 52%,#20fffd 54%,#3cfff8 57%,#5fffed 64%,#87ffd8 80%,#a4ffc2)"></i><i style="left:154px;top:208.6px;width:80.6px;background:linear-gradient(90deg,#58a2ff,#42dfff 27%,#2cf2ff 34%,#09feff 39%,#34fffa 41%,#4dfff4 44%,#77ffe2 54%,#94ffcf 70%,#b3ffb3)"></i><i style="left:146.7px;top:203.1px;width:85.2px;background:linear-gradient(90deg,#55b6ff,#36ebff 20%,#1ff8ff 26%,#01ffff 28%,#25fffc 30%,#4dfff3 34%,#71ffe5 41%,#8cffd5 49%,#a7ffbf 65%,#c0ffa4)"></i><i style="left:139.5px;top:197.6px;width:89.8px;background:linear-gradient(90deg,#50c6ff,#35ecff 13%,#21f7ff 17%,#05ffff 19%,#2afffb 21%,#3cfff8 22%,#5cffee 26%,#7bffdf 32%,#97ffcd 41%,#b9ffac 63%,#cbff96)"></i><i style="left:135.9px;top:192.1px;width:90.7px;background:linear-gradient(90deg,#40e1ff,#2ff0ff 5%,#0efffe 10%,#2dfffb 11%,#3ffff7 13%,#67ffea 18%,#8cffd5 25%,#a6ffc0 34%,#c9ff99 61%,#d4ff88)"></i><i style="left:128.6px;top:186.6px;width:95.2px;background:linear-gradient(90deg,#2bf2ff,#0affff 5%,#2afffb 6%,#3bfff8 7%,#74ffe4 14%,#9dffc8 24%,#beffa6 37%,#d6ff85 61%,#dcff7c)"></i><i style="left:121.4px;top:181.1px;width:99.9px;background:linear-gradient(90deg,#43fff6,#65ffeb 6%,#9dffc8 18%,#ccff94 37%,#e0ff73 60%,#e1ff71)"></i><i style="left:117.8px;top:175.6px;width:101.1px;background:linear-gradient(90deg,#85ffda,#ccff94 26%,#e6ff66 49%,#eaff5f 65%,#e6ff68)"></i><i style="left:110.5px;top:170px;width:105.9px;background:linear-gradient(90deg,#9dffc8,#dcff7a 27%,#efff51 46%,#f1ff4c 59%,#e9ff61)"></i><i style="left:103.3px;top:164.5px;width:110.4px;background:linear-gradient(90deg,#abffbb,#e0ff74 22%,#f5ff42 37%,#f8ff33 45%,#f8ff34 57%,#eeff54 80%,#ebff5d)"></i><i style="left:99.7px;top:159px;width:110.8px;background:linear-gradient(90deg,#beffa7,#ecff5a 21%,#fbff29 33%,#fffe00 40%,#ff0 55%,#fbff25 63%,#f3ff47 76%,#ecff5b)"></i><i style="left:92.4px;top:153.5px;width:115px;background:linear-gradient(90deg,#c3ffa1,#f2ff4a 21%,#fbff27 27%,#fffe00 31%,#ffef00 47%,#ff0 64%,#fcff21 68%,#f5ff41 77%,#efff53 87%,#ecff5a)"></i><i style="left:85.2px;top:148px;width:119.1px;background:linear-gradient(90deg,#c5ff9d,#f5ff40 20%,#fbff25 24%,#fffe00 27%,#ffe900 37%,#ffe200 47%,#fffe00 69%,#fcff23 73%,#f5ff3f 80%,#efff52 88%,#ebff5b)"></i><i style="left:81.6px;top:142.5px;width:118.7px;background:linear-gradient(90deg,#d0ff8f,#f6ff3e 16%,#fcff1d 20%,#fffe00 22%,#ffdf00 35%,#ffd600 45%,#ffdf00 57%,#fffe00 72%,#fbff26 76%,#f5ff41 82%,#ebff5d)"></i><i style="left:74.3px;top:137px;width:121.6px;background:linear-gradient(90deg,#d0ff8f,#f4ff42 15%,#fcff22 19%,#ff0 21%,#ffd500 35%,#ffc900 46%,#ffd600 59%,#fffe00 76%,#fcff23 79%,#f4ff43 85%,#eaff5e)"></i><i style="left:67.1px;top:131.4px;width:124.7px;background:linear-gradient(90deg,#ceff91,#f5ff41 15%,#fcff20 18%,#fffe00 20%,#ffcb00 36%,#ffbd00 47%,#ffcb00 61%,#fffe00 80%,#fbff25 83%,#f5ff42 87%,#eeff54 93%,#eaff5f)"></i><i style="left:63.5px;top:125.9px;width:123.3px;background:linear-gradient(90deg,#d5ff86,#f5ff40 12%,#fbff27 15%,#fffd00 18%,#ffbf00 36%,#ffb000 47%,#ffc300 62%,#fffe00 83%,#fcff1d 85%,#f7ff39 89%,#ebff5c)"></i><i style="left:56.2px;top:120.4px;width:125.1px;background:linear-gradient(90deg,#d3ff8a,#f4ff44 12%,#faff2b 15%,#fffd00 17%,#ffb600 37%,#ffa300 48%,#ffb800 63%,#ff0 87%,#fcff1d 89%,#faff2d 91%,#eeff54)"></i><i style="left:49px;top:114.9px;width:126.6px;background:linear-gradient(90deg,#ceff91,#f4ff42 13%,#fbff26 15%,#fffe00 17%,#ffa400 41%,#ff9700 49%,#ffad00 63%,#fffd00 91%,#fbff28 95%,#f3ff45)"></i><i style="left:45.4px;top:109.4px;width:125.4px;background:linear-gradient(90deg,#d1ff8c,#f4ff42 11%,#fcff24 14%,#fffd00 15%,#ff8500 44%,#ff8000 46%,#fffd00 94%,#fcff20 96%,#f7ff38)"></i><i style="left:38.2px;top:103.9px;width:128.8px;background:linear-gradient(90deg,#c8ff99,#f1ff4d 12%,#fbff24 15%,#fffd00 17%,#ffbe00 30%,#ff7900 50%,#ff0 96%,#fdff1c 97%,#f9ff30)"></i><i style="left:30.9px;top:98.4px;width:131.9px;background:linear-gradient(90deg,#baffab,#f2ff4a 14%,#faff2e 17%,#ffff07 18%,#fffb00 19%,#ffac00 36%,#f80 53%,#ff8e00 57%,#fffe00 97%,#fbff26)"></i><i style="left:27.3px;top:92.8px;width:129.9px;background:linear-gradient(90deg,#b6ffaf,#f3ff48 14%,#faff2b 17%,#fdff1d 18%,#ffff02 18%,#fffb00 19%,#fa0 37%,#ff9a00 52%,#ffa500 62%,#fffe00 96%,#fbff24)"></i><i style="left:20.1px;top:87.3px;width:131.1px;background:linear-gradient(90deg,#98ffcc,#c9ff99 7%,#f1ff4e 17%,#fbff26 20%,#fffe00 22%,#ffb700 37%,#ffa400 47%,#ffb800 66%,#fffe00 97%,#fcff23)"></i><i style="left:12.8px;top:81.8px;width:132.6px;background:linear-gradient(90deg,#62ffec,#97ffcd 4%,#bfffa5 9%,#f5ff3f 22%,#fdff1c 24%,#ff0 25%,#ffc100 40%,#ffae00 50%,#ffbf00 64%,#fffe00 95%,#faff2b)"></i><i style="left:9.2px;top:76.3px;width:128.4px;background:linear-gradient(90deg,#30fffa,#5bffef 2%,#75ffe3 4%,#b2ffb4 10%,#dcff7a 17%,#f6ff3b 24%,#fbff25 26%,#fffe00 28%,#fc0 41%,#fb0 53%,#ffc400 62%,#fffe00 92%,#fcff1e 96%,#f8ff33)"></i><i style="left:6.5px;top:70.8px;width:123.3px;background:linear-gradient(90deg,#1bf9ff,#0ffffe 1%,#39fff9 2%,#5fffed 4%,#82ffdb 6%,#adffb9 11%,#d5ff87 18%,#f5ff41 26%,#fcff22 29%,#fffd00 31%,#ffd700 43%,#ffca00 55%,#ffd300 64%,#fffe00 85%,#fbff26 91%,#f4ff43)"></i><i style="left:6.5px;top:65.3px;width:115.5px;background:linear-gradient(90deg,#07feff,#31fffa 1%,#5affef 3%,#7fffdd 6%,#a9ffbd 11%,#d6ff85 19%,#f6ff3c 29%,#fcff1e 32%,#fffd00 34%,#ffe400 44%,#ffda00 54%,#ffe200 65%,#fffd00 79%,#fdff1d 82%,#f8ff33 86%,#eeff54)"></i><i style="left:6.5px;top:59.8px;width:107.8px;background:linear-gradient(90deg,#1ffffd,#40fff7 1%,#6fffe6 4%,#b1ffb5 13%,#e0ff74 23%,#f8ff35 34%,#fdff1c 37%,#fffe00 39%,#ffec00 56%,#ff0 76%,#fcff21 79%,#f6ff3d 84%,#e7ff65)"></i><i style="left:6.5px;top:54.3px;width:101px;background:linear-gradient(90deg,#22fffd,#41fff7 1%,#55fff1 2%,#7bffdf 6%,#a2ffc3 11%,#c2ffa1 18%,#ef5 35%,#faff2c 45%,#feff12 56%,#fdff15 61%,#e0ff74)"></i><i style="left:6.5px;top:48.7px;width:94.4px;background:linear-gradient(90deg,#11fcff,#56fff1 4%,#82ffdb 8%,#b4ffb2 18%,#d3ff8a 29%,#eaff5e 45%,#f0ff4e 60%,#e8ff62 82%,#d8ff81)"></i><i style="left:6.5px;top:43.2px;width:87.9px;background:linear-gradient(90deg,#2df1ff,#0afeff 3%,#45fff6 5%,#63ffeb 8%,#81ffdc 12%,#a9ffbd 21%,#c1ffa3 31%,#d5ff86 49%,#ddff79 65%,#cfff8f)"></i><i style="left:6.5px;top:37.7px;width:82px;background:linear-gradient(90deg,#40e1ff,#2bf3ff 4%,#06feff 7%,#2dfffb 8%,#44fff6 10%,#6affe8 14%,#8cffd5 21%,#a0ffc6 28%,#c4ff9f 72%,#c0ffa4)"></i><i style="left:6.5px;top:32.2px;width:75.4px;background:linear-gradient(90deg,#4eccff,#2ff0ff 11%,#1cf9ff 14%,#09feff 15%,#39fff9 18%,#48fff5 20%,#63ffeb 24%,#77ffe2 30%,#80ffdd 52%,#a3ffc2 80%,#a8ffbe)"></i><i style="left:6.5px;top:26.7px;width:68.1px;background:linear-gradient(90deg,#56b3ff,#49d5ff 14%,#2cf2ff 29%,#01ffff 56%,#2bfffb 63%,#55fff1 75%,#6fffe6 86%,#7effde)"></i><i style="left:6.5px;top:21.2px;width:55px;background:linear-gradient(90deg,#5796ff,#50c7ff 33%,#42e0ff 77%,#2bf3ff)"></i><i style="left:6.5px;top:15.7px;width:43.2px;background:linear-gradient(90deg,#5377ff,#5897ff 30%,#53beff)"></i><i style="left:6.5px;top:10.1px;width:33.9px;background:linear-gradient(90deg,#4757ff,#5172ff 34%,#5792ff)"></i><i style="left:6.5px;top:4.6px;width:25.1px;background:linear-gradient(90deg,#3033ff,#4d67ff)"></i></div><div class="hm" style="left:1818px;top:148px;width:190px;height:210px;clip-path:url(#cB2)"><i style="left:167px;top:198.2px;width:16.7px;background:linear-gradient(90deg,#d8ff81,#ddff79)"></i><i style="left:162.4px;top:192.7px;width:22.7px;background:linear-gradient(90deg,#dfff75,#e5ff69)"></i><i style="left:157.5px;top:187.2px;width:28.6px;background:linear-gradient(90deg,#e6ff68,#edff56)"></i><i style="left:151.3px;top:181.6px;width:35.1px;background:linear-gradient(90deg,#edff56,#f4ff43)"></i><i style="left:145.2px;top:176.1px;width:41.5px;background:linear-gradient(90deg,#f7ff3a,#f4ff43 33%,#faff2e)"></i><i style="left:139.1px;top:170.6px;width:47.6px;background:linear-gradient(90deg,#fffd00,#fcff22 39%,#feff0a 85%,#feff0c)"></i><i style="left:133px;top:165.1px;width:53.8px;background:linear-gradient(90deg,#ffeb00,#fff800)"></i><i style="left:126.8px;top:159.6px;width:59.5px;background:linear-gradient(90deg,#ffdb00,#fff000)"></i><i style="left:120.7px;top:154.1px;width:65.1px;background:linear-gradient(90deg,#ffce00,#ffe900)"></i><i style="left:114.6px;top:148.6px;width:69.5px;background:linear-gradient(90deg,#ffc400,#ffc300 34%,#ffe200)"></i><i style="left:108.5px;top:143px;width:73.5px;background:linear-gradient(90deg,#ffbe00,#ffb600 39%,#ffda00)"></i><i style="left:101.9px;top:137.5px;width:78px;background:linear-gradient(90deg,#fb0,#ffab00 44%,#ffd400)"></i><i style="left:95.8px;top:132px;width:81.8px;background:linear-gradient(90deg,#ffb900,#ffa200 48%,#ffcf00)"></i><i style="left:89.2px;top:126.5px;width:85.9px;background:linear-gradient(90deg,#ffb700,#ffa000 53%,#ffcb00)"></i><i style="left:83.1px;top:121px;width:88.4px;background:linear-gradient(90deg,#ffb600,#ffa200 57%,#ffc800)"></i><i style="left:78px;top:115.5px;width:90.2px;background:linear-gradient(90deg,#ffb600,#ffa100 38%,#ffab00 70%,#ffc800)"></i><i style="left:72.4px;top:110px;width:92.5px;background:linear-gradient(90deg,#ffb900,#ff9800 40%,#ffc900)"></i><i style="left:67.3px;top:104.4px;width:94.3px;background:linear-gradient(90deg,#ffbe00,#ff9e00 43%,#ffcd00)"></i><i style="left:62.2px;top:98.9px;width:96.1px;background:linear-gradient(90deg,#ffc600,#ffa600 42%,#ffd500)"></i><i style="left:56.6px;top:93.4px;width:95.1px;background:linear-gradient(90deg,#ffd100,#ffb200 45%,#ffdb00)"></i><i style="left:51px;top:87.9px;width:93.4px;background:linear-gradient(90deg,#ffde00,#ffc900 21%,#ffc100 45%,#ffe500)"></i><i style="left:45.4px;top:82.4px;width:92.4px;background:linear-gradient(90deg,#fe0,#ffd700 20%,#ffd000 41%,#fff100)"></i><i style="left:39.8px;top:76.9px;width:91.4px;background:linear-gradient(90deg,#feff0c,#fffe00 1%,#ffe400 20%,#fd0 38%,#ffff04)"></i><i style="left:34.5px;top:71.4px;width:90px;background:linear-gradient(90deg,#f3ff46,#fcff21 9%,#fffe00 13%,#ffea00 37%,#ff0 72%,#fdff1a 76%,#faff2b 81%,#f6ff3d)"></i><i style="left:29px;top:65.8px;width:89.4px;background:linear-gradient(90deg,#e5ff68,#f8ff36 17%,#fcff1d 22%,#fffe00 26%,#fff600 40%,#ffff01 60%,#fdff1c 67%,#f3ff47 82%,#ecff5a)"></i><i style="left:22.9px;top:60.3px;width:90.1px;background:linear-gradient(90deg,#d3ff89,#f6ff3c 28%,#fdff19 42%,#e2ff70)"></i><i style="left:17.4px;top:54.8px;width:89.5px;background:linear-gradient(90deg,#bcffa9,#e9ff62 29%,#f5ff40 46%,#daff7e)"></i><i style="left:12px;top:49.3px;width:88.9px;background:linear-gradient(90deg,#9affca,#c8ff9a 21%,#e8ff63 51%,#d1ff8c)"></i><i style="left:6.3px;top:43.8px;width:87.3px;background:linear-gradient(90deg,#5fffed,#83ffdb 8%,#a4ffc2 18%,#c4ff9f 39%,#d5ff86 63%,#c7ff9b)"></i><i style="left:6.3px;top:38.3px;width:79.5px;background:linear-gradient(90deg,#1afaff,#0bfdff 1%,#3ffff7 6%,#5cffee 10%,#83ffdb 19%,#9affca 28%,#bfa 68%,#b7ffae)"></i><i style="left:6.3px;top:32.8px;width:72.3px;background:linear-gradient(90deg,#42dfff,#2bf2ff 10%,#0efdff 14%,#17fffe 16%,#3efff8 19%,#53fff2 22%,#72ffe4 32%,#99ffcb 78%,#9effc7)"></i><i style="left:6.3px;top:27.3px;width:64.4px;background:linear-gradient(90deg,#52c2ff,#39e8ff 23%,#02ffff 48%,#23fffc 55%,#48fff5 70%,#72ffe4)"></i><i style="left:6.3px;top:21.7px;width:52.9px;background:linear-gradient(90deg,#57a5ff,#4bd1ff 43%,#2cf2ff)"></i><i style="left:6.3px;top:16.2px;width:40.2px;background:linear-gradient(90deg,#578bff,#51c4ff)"></i><i style="left:6.3px;top:10.7px;width:29.2px;background:linear-gradient(90deg,#5273ff,#5898ff)"></i><i style="left:6.3px;top:5.2px;width:19.1px;background:linear-gradient(90deg,#495cff,#506fff)"></i></div><div class="hm" style="left:47px;top:518px;width:282px;height:262px;clip-path:url(#cC0)"><i style="left:216.2px;top:249.9px;width:62.6px;background:linear-gradient(90deg,#ff3600,#ff4b00 22%,#ff9300 62%,#ffae00)"></i><i style="left:211.6px;top:244.4px;width:66.2px;background:linear-gradient(90deg,#ff5000,#ff6500 24%,#ffa000 64%,#ffb700)"></i><i style="left:207.1px;top:238.9px;width:68.1px;background:linear-gradient(90deg,#ff6300,#ff7600 24%,#fa0 66%,#ffbe00)"></i><i style="left:202.5px;top:233.4px;width:69.4px;background:linear-gradient(90deg,#ff7200,#ffb100 67%,#ffc400)"></i><i style="left:193.4px;top:227.9px;width:75.3px;background:linear-gradient(90deg,#ff7e00,#ffc900)"></i><i style="left:188.9px;top:222.4px;width:75.9px;background:linear-gradient(90deg,#ff8c00,#fc0)"></i><i style="left:184.3px;top:216.9px;width:76.2px;background:linear-gradient(90deg,#ff9d00,#ff9c00 16%,#ffce00)"></i><i style="left:179.8px;top:211.4px;width:73.4px;background:linear-gradient(90deg,#ffaf00,#ffab00 23%,#ffcd00)"></i><i style="left:170.7px;top:205.9px;width:75.1px;background:linear-gradient(90deg,#ffc700,#fb0 32%,#ffcd00)"></i><i style="left:166.1px;top:200.4px;width:76px;background:linear-gradient(90deg,#ffda00,#fc0 32%,#ffd300)"></i><i style="left:161.6px;top:195px;width:73.2px;background:linear-gradient(90deg,#ffed00,#fd0 33%,#ffda00)"></i><i style="left:157px;top:189.5px;width:74px;background:linear-gradient(90deg,#ffff08,#ff0 2%,#fe0 32%,#ffe500)"></i><i style="left:147.9px;top:184px;width:75.7px;background:linear-gradient(90deg,#f1ff4c,#fdff1d 26%,#ff0 36%,#fff200)"></i><i style="left:143.4px;top:178.5px;width:76.6px;background:linear-gradient(90deg,#e5ff69,#f9ff33 43%,#fcff1f 82%,#fffd00)"></i><i style="left:138.8px;top:173px;width:73.8px;background:linear-gradient(90deg,#d7ff83,#e6ff68 17%,#efff52 41%,#f9ff31)"></i><i style="left:134.3px;top:167.5px;width:74.6px;background:linear-gradient(90deg,#c6ff9c,#e3ff6d 34%,#f4ff43)"></i><i style="left:125.2px;top:162px;width:76.3px;background:linear-gradient(90deg,#a6ffc0,#c2ffa1 16%,#d6ff84 36%,#e9ff62 73%,#efff53)"></i><i style="left:120.6px;top:156.5px;width:77.2px;background:linear-gradient(90deg,#87ffd8,#aeffb8 16%,#c9ff98 36%,#e1ff71 73%,#eaff5f)"></i><i style="left:116px;top:151px;width:74.4px;background:linear-gradient(90deg,#58fff0,#8dffd4 14%,#b7ffae 35%,#d1ff8d 62%,#e4ff6c)"></i><i style="left:111.5px;top:145.5px;width:71.5px;background:linear-gradient(90deg,#25f5ff,#0efdff 3%,#18fffe 5%,#40fff7 8%,#66ffea 15%,#87ffd8 24%,#a1ffc4 35%,#c3ffa1 61%,#dcff7b)"></i><i style="left:102.4px;top:140px;width:76.9px;background:linear-gradient(90deg,#4ecdff,#31eeff 13%,#1afaff 18%,#09feff 19%,#36fff9 22%,#59fff0 27%,#90ffd2 42%,#b9ffad 66%,#d5ff86)"></i><i style="left:97.8px;top:134.5px;width:74.1px;background:linear-gradient(90deg,#56b3ff,#3ce6ff 20%,#25f6ff 26%,#0afdff 29%,#34fffa 32%,#4efff3 35%,#6dffe7 42%,#85ffd9 49%,#aeffb8 71%,#cbff95)"></i><i style="left:93.3px;top:129px;width:75px;background:linear-gradient(90deg,#589bff,#53bdff 14%,#43deff 26%,#2bf2ff 34%,#19faff 37%,#06feff 38%,#23fffc 40%,#44fff6 43%,#5fffed 48%,#7bffdf 55%,#a3ffc2 74%,#c2ffa2)"></i><i style="left:88.7px;top:123.5px;width:72.1px;background:linear-gradient(90deg,#5584ff,#56b1ff 19%,#48d7ff 33%,#29f4ff 44%,#15fbff 48%,#0ff 49%,#27fffc 51%,#39fff9 52%,#6cffe8 62%,#94ffcf 78%,#b4ffb1)"></i><i style="left:79.6px;top:118px;width:77.5px;background:linear-gradient(90deg,#4c62ff,#5796ff 22%,#51c3ff 38%,#38e9ff 51%,#26f5ff 56%,#10fcff 59%,#13fffe 60%,#2dfffb 62%,#48fff5 65%,#6dffe7 72%,#8effd3 84%,#abffbc)"></i><i style="left:75.1px;top:112.5px;width:74.7px;background:linear-gradient(90deg,#4451ff,#578cff 28%,#52c2ff 48%,#35ecff 63%,#21f7ff 68%,#03ffff 71%,#23fffc 72%,#35fff9 74%,#55fff1 78%,#78ffe1 88%,#95ffce)"></i><i style="left:70.5px;top:107px;width:75.6px;background:linear-gradient(90deg,#3c44ff,#547dff 29%,#55b5ff 50%,#3be7ff 68%,#24f6ff 74%,#0cfdff 77%,#3dfff8 82%,#52fff2 85%,#87ffd8)"></i><i style="left:66px;top:101.5px;width:72.7px;background:linear-gradient(90deg,#373cff,#5379ff 35%,#56b4ff 59%,#3ae8ff 79%,#24f6ff 86%,#0dfdff 89%,#3dfff8 94%,#61ffec)"></i><i style="left:56.9px;top:96px;width:78.2px;background:linear-gradient(90deg,#3033ff,#4a5fff 29%,#57adff 63%,#3ee3ff 84%,#2cf2ff 90%,#0efffe 96%,#2bfffb 97%,#46fff6)"></i><i style="left:52.3px;top:90.5px;width:75.3px;background:linear-gradient(90deg,#353aff,#485aff 29%,#57a7ff 67%,#48d8ff 86%,#21f7ff)"></i><i style="left:47.8px;top:85.1px;width:76.2px;background:linear-gradient(90deg,#3d45ff,#4b60ff 30%,#58a3ff 67%,#4ccfff 86%,#31efff)"></i><i style="left:43.2px;top:79.6px;width:73.3px;background:linear-gradient(90deg,#4553ff,#4b62ff 23%,#5379ff 44%,#56b2ff 77%,#3fe3ff)"></i><i style="left:34.1px;top:74.1px;width:75.1px;background:linear-gradient(90deg,#4c63ff,#4f6dff 25%,#5582ff 48%,#56b0ff 78%,#47d8ff)"></i><i style="left:29.6px;top:68.6px;width:75.9px;background:linear-gradient(90deg,#5277ff,#5791ff 47%,#54bbff 79%,#42dfff)"></i><i style="left:25px;top:63.1px;width:73.1px;background:linear-gradient(90deg,#578cff,#589eff 44%,#52c1ff 77%,#3fe2ff)"></i><i style="left:20.5px;top:57.6px;width:73.9px;background:linear-gradient(90deg,#57a4ff,#56b2ff 44%,#4ad4ff 78%,#31efff)"></i><i style="left:11.4px;top:52.1px;width:75.7px;background:linear-gradient(90deg,#53beff,#51c5ff 41%,#49d6ff 64%,#31efff 88%,#14fbff)"></i><i style="left:6.8px;top:46.6px;width:76.5px;background:linear-gradient(90deg,#45dbff,#39e8ff 57%,#26f5ff 70%,#06ffff 81%,#19fffe 82%,#33fffa 87%,#59ffef)"></i><i style="left:6.8px;top:41.1px;width:71.7px;background:linear-gradient(90deg,#19faff,#18fbff 11%,#0ff 24%,#13fffe 27%,#25fffc 34%,#3cfff8 56%,#66ffea 79%,#80ffdd)"></i><i style="left:6.8px;top:35.6px;width:65.9px;background:linear-gradient(90deg,#72ffe5,#9dffc8)"></i><i style="left:6.8px;top:30.1px;width:60.3px;background:linear-gradient(90deg,#a1ffc4,#b6ffaf)"></i><i style="left:6.8px;top:24.6px;width:54.5px;background:linear-gradient(90deg,#c2ffa2,#cdff93)"></i><i style="left:6.8px;top:19.1px;width:48.4px;background:linear-gradient(90deg,#daff7e,#e2ff6f 62%,#e1ff71)"></i><i style="left:6.8px;top:13.6px;width:41px;background:linear-gradient(90deg,#edff56,#f3ff45 69%,#f3ff48)"></i><i style="left:6.8px;top:8.1px;width:31.3px;background:linear-gradient(90deg,#fdff1a,#ff0 37%,#fffa00)"></i><i style="left:6.8px;top:2.6px;width:17.3px;background:linear-gradient(90deg,#ffe900,#ffe400)"></i></div><div class="hm" style="left:397px;top:543px;width:243px;height:237px;clip-path:url(#cC1)"><i style="left:172.6px;top:224.9px;width:68px;background:linear-gradient(90deg,#ffa600,#ffa700 27%,#ffbf00 39%,#fffb00 61%,#feff09 63%,#faff2e 66%,#f0ff50 73%,#deff77 85%,#c7ff9b)"></i><i style="left:165.4px;top:219.4px;width:74.3px;background:linear-gradient(90deg,#ffc500,#ffd000 35%,#ff0 57%,#fdff1b 58%,#faff2a 60%,#ecff5a 69%,#d4ff88 83%,#b5ffb0)"></i><i style="left:158.1px;top:213.9px;width:79.2px;background:linear-gradient(90deg,#ffd400,#fff200 22%,#fff000 39%,#fffd00 51%,#f7ff37 58%,#e7ff64 68%,#cdff93 83%,#a8ffbe)"></i><i style="left:154.5px;top:208.4px;width:80.6px;background:linear-gradient(90deg,#ffe300,#ff0 19%,#fdff18 21%,#faff2b 27%,#f8ff34 47%,#dcff7b 70%,#9affca)"></i><i style="left:147.3px;top:202.9px;width:85.3px;background:linear-gradient(90deg,#ffe900,#fffe00 16%,#fcff1e 20%,#f7ff3a 28%,#e9ff60 58%,#c5ff9d 78%,#8bffd5)"></i><i style="left:140px;top:197.4px;width:89.9px;background:linear-gradient(90deg,#fff000,#fffe00 13%,#fcff1f 18%,#f6ff3e 28%,#e2ff6f 60%,#b9ffac 81%,#7cffdf)"></i><i style="left:136.4px;top:191.9px;width:90.8px;background:linear-gradient(90deg,#fffd00,#f7ff38 18%,#d8ff81 62%,#a8ffbe 84%,#69ffe9)"></i><i style="left:129.2px;top:186.4px;width:95.3px;background:linear-gradient(90deg,#faff2b,#e6ff68 42%,#ceff91 64%,#97ffcc 86%,#76ffe3 94%,#53fff2)"></i><i style="left:121.9px;top:180.9px;width:100px;background:linear-gradient(90deg,#f2ff48,#dfff76 44%,#c3ffa0 66%,#a7ffbf 77%,#7effde 89%,#5bffef 95%,#32fffa)"></i><i style="left:118.3px;top:175.4px;width:101.1px;background:linear-gradient(90deg,#e7ff64,#d5ff86 43%,#baffac 65%,#9effc7 75%,#74ffe4 86%,#44fff6 94%,#0cfdff 99%,#19faff)"></i><i style="left:111px;top:170px;width:106px;background:linear-gradient(90deg,#daff7e,#d0ff8e 33%,#b8ffae 60%,#99ffcb 73%,#63ffec 85%,#33fffa 91%,#24fffc 92%,#06ffff 94%,#22f7ff 97%,#31efff)"></i><i style="left:103.8px;top:164.5px;width:110.4px;background:linear-gradient(90deg,#caff97,#beffa6 41%,#a2ffc3 66%,#88ffd7 75%,#67ffea 82%,#41fff7 88%,#28fffc 90%,#10fffe 91%,#0dfdff 92%,#27f5ff 95%,#3ae7ff)"></i><i style="left:100.2px;top:159px;width:110.9px;background:linear-gradient(90deg,#b6ffb0,#adffb9 40%,#93ffd0 66%,#7cffdf 75%,#5fffed 82%,#38fff9 88%,#0afdff 91%,#27f5ff 94%,#3ee4ff)"></i><i style="left:92.9px;top:153.5px;width:115.1px;background:linear-gradient(90deg,#9effc7,#96ffcd 43%,#80ffdc 65%,#69ffe9 75%,#49fff5 83%,#2afffc 87%,#05feff 89%,#29f4ff 93%,#42dfff)"></i><i style="left:85.7px;top:148px;width:119.2px;background:linear-gradient(90deg,#7effde,#74ffe3 48%,#65ffeb 64%,#43fff6 77%,#25fffc 82%,#04feff 85%,#21f8ff 89%,#4df)"></i><i style="left:82.1px;top:142.5px;width:118.8px;background:linear-gradient(90deg,#4bfff4,#37fff9 36%,#39fff9 54%,#1ffffd 65%,#01ffff 70%,#29f4ff 82%,#48d7ff)"></i><i style="left:74.8px;top:137px;width:121.7px;background:linear-gradient(90deg,#2cf2ff,#36ebff 74%,#4ccfff)"></i><i style="left:67.6px;top:131.5px;width:124.9px;background:linear-gradient(90deg,#46daff,#48d6ff 76%,#51c3ff)"></i><i style="left:63.9px;top:126px;width:123.4px;background:linear-gradient(90deg,#51c3ff,#54bbff 41%,#52c3ff 80%,#55b7ff)"></i><i style="left:56.7px;top:120.5px;width:125.3px;background:linear-gradient(90deg,#56afff,#57a4ff 42%,#56afff 80%,#57a9ff)"></i><i style="left:49.4px;top:115px;width:126.7px;background:linear-gradient(90deg,#589eff,#578eff 47%,#589bff)"></i><i style="left:45.8px;top:109.5px;width:125.5px;background:linear-gradient(90deg,#578dff,#537aff 51%,#578cff)"></i><i style="left:38.6px;top:104px;width:128.9px;background:linear-gradient(90deg,#5582ff,#5170ff 19%,#4e69ff 52%,#547dff)"></i><i style="left:31.3px;top:98.5px;width:132px;background:linear-gradient(90deg,#547cff,#4c63ff 17%,#485bff 41%,#485aff 63%,#506eff)"></i><i style="left:27.7px;top:93px;width:130px;background:linear-gradient(90deg,#5274ff,#4758ff 15%,#414dff 32%,#414dff 64%,#4b60ff)"></i><i style="left:20.5px;top:87.5px;width:131.2px;background:linear-gradient(90deg,#5379ff,#4351ff 16%,#3940ff 31%,#3a41ff 66%,#4452ff)"></i><i style="left:13.2px;top:82px;width:132.7px;background:linear-gradient(90deg,#5685ff,#414dff 17%,#3134ff 33%,#3336ff 68%,#3d45ff)"></i><i style="left:9.6px;top:76.5px;width:128.5px;background:linear-gradient(90deg,#578cff,#3e47ff 20%,#2829ff 36%,#353aff)"></i><i style="left:6.9px;top:71px;width:123.4px;background:linear-gradient(90deg,#5794ff,#3b42ff 22%,#22f 38%,#2f31ff)"></i><i style="left:6.9px;top:65.5px;width:115.6px;background:linear-gradient(90deg,#5898ff,#3a42ff 24%,#201fff 40%,#2b2cff)"></i><i style="left:6.9px;top:60.1px;width:107.9px;background:linear-gradient(90deg,#589fff,#3f4aff 24%,#2526ff 40%,#2b2cff)"></i><i style="left:6.9px;top:54.6px;width:101.1px;background:linear-gradient(90deg,#57abff,#5275ff 16%,#3d45ff 32%,#3133ff 41%,#2f31ff)"></i><i style="left:6.9px;top:49.1px;width:94.5px;background:linear-gradient(90deg,#54bcff,#5584ff 18%,#3e47ff 41%,#363bff)"></i><i style="left:6.9px;top:43.6px;width:88px;background:linear-gradient(90deg,#4bd1ff,#589bff 21%,#4b61ff 43%,#3f48ff)"></i><i style="left:6.9px;top:38.1px;width:82px;background:linear-gradient(90deg,#39e9ff,#54b9ff 24%,#5580ff 49%,#485aff)"></i><i style="left:6.9px;top:32.6px;width:75.5px;background:linear-gradient(90deg,#20fffd,#0efffe 2%,#07feff 3%,#1ff8ff 8%,#35ecff 17%,#55b7ff 44%,#5792ff 67%,#5171ff)"></i><i style="left:6.9px;top:27.1px;width:68.2px;background:linear-gradient(90deg,#6bffe8,#40fff7 20%,#27fffc 25%,#05feff 29%,#1bfaff 32%,#2cf2ff 37%,#49d6ff 54%,#55b4ff 73%,#5790ff)"></i><i style="left:6.9px;top:21.6px;width:55.1px;background:linear-gradient(90deg,#8cffd5,#77ffe2 27%,#5dffee 44%,#3ffff7 54%,#0afeff 62%,#20f8ff 67%,#38eaff 75%,#52c2ff)"></i><i style="left:6.9px;top:16.1px;width:43.2px;background:linear-gradient(90deg,#a1ffc4,#8dffd4 46%,#73ffe4 73%,#47fff5 92%,#2dfffb 97%,#12fffe)"></i><i style="left:6.9px;top:10.6px;width:33.9px;background:linear-gradient(90deg,#b1ffb5,#a0ffc5 62%,#87ffd8)"></i><i style="left:6.9px;top:5.1px;width:25.1px;background:linear-gradient(90deg,#bdffa8,#a8ffbe)"></i></div><div class="hm" style="left:748px;top:570px;width:189px;height:210px;clip-path:url(#cC2)"><i style="left:166.8px;top:197.9px;width:16.7px;background:linear-gradient(90deg,#deff77,#b7ffae)"></i><i style="left:162.2px;top:192.4px;width:22.7px;background:linear-gradient(90deg,#deff77,#a3ffc3)"></i><i style="left:157.3px;top:186.9px;width:28.6px;background:linear-gradient(90deg,#deff78,#b5ffb1 56%,#83ffdb)"></i><i style="left:151.2px;top:181.4px;width:35.1px;background:linear-gradient(90deg,#dfff76,#a8ffbd 60%,#86ffd9 83%,#62ffec)"></i><i style="left:145px;top:175.9px;width:41.5px;background:linear-gradient(90deg,#deff77,#bcffa9 36%,#92ffd0 64%,#57fff0 86%,#3cfff8 92%,#07feff 97%,#1bfaff)"></i><i style="left:138.9px;top:170.4px;width:47.7px;background:linear-gradient(90deg,#dbff7c,#b3ffb3 37%,#83ffdb 61%,#4efff3 76%,#2afffb 80%,#04feff 83%,#26f5ff 88%,#42dfff)"></i><i style="left:132.8px;top:164.9px;width:53.8px;background:linear-gradient(90deg,#d7ff84,#b1ffb5 30%,#81ffdc 51%,#6affe9 57%,#45fff6 64%,#31fffa 66%,#05ffff 68%,#26f5ff 72%,#3ce6ff 79%,#53bdff)"></i><i style="left:126.6px;top:159.4px;width:59.5px;background:linear-gradient(90deg,#d0ff8e,#b1ffb5 23%,#89ffd7 40%,#58fff0 52%,#38fff9 56%,#1afffd 58%,#15fbff 60%,#37eaff 65%,#4bd2ff 73%,#55b5ff 85%,#589dff)"></i><i style="left:120.5px;top:153.9px;width:65.1px;background:linear-gradient(90deg,#c7ff9a,#a8ffbe 21%,#82ffdb 35%,#57fff0 44%,#11fcff 51%,#2cf2ff 54%,#3ae7ff 58%,#51c4ff 68%,#5897ff 82%,#5581ff)"></i><i style="left:114.4px;top:148.4px;width:69.5px;background:linear-gradient(90deg,#bcffa9,#9effc7 18%,#78ffe1 31%,#47fff5 39%,#35fffa 41%,#13fffe 43%,#3be6ff 51%,#51c3ff 62%,#5685ff 84%,#506dff)"></i><i style="left:108.3px;top:143px;width:73.5px;background:linear-gradient(90deg,#adffb9,#8fffd3 16%,#6bffe8 27%,#47fff5 33%,#0bfdff 38%,#29f4ff 41%,#38e9ff 44%,#53c0ff 56%,#5688ff 78%,#4c63ff)"></i><i style="left:101.6px;top:137.5px;width:78px;background:linear-gradient(90deg,#9dffc7,#87ffd8 10%,#68ffe9 19%,#43fff6 25%,#0cfdff 29%,#26f5ff 32%,#39e9ff 37%,#54b9ff 51%,#5688ff 68%,#4859ff)"></i><i style="left:95.5px;top:132px;width:81.8px;background:linear-gradient(90deg,#87ffd8,#5dffee 14%,#40fff7 18%,#18fffe 21%,#0ffdff 23%,#28f4ff 25%,#3fe3ff 31%,#54b9ff 45%,#5070ff 69%,#4451ff)"></i><i style="left:88.9px;top:126.5px;width:86px;background:linear-gradient(90deg,#69ffe9,#42fff7 11%,#2efffb 13%,#05feff 16%,#20f8ff 19%,#38e9ff 24%,#55b6ff 39%,#4d65ff 71%,#404bff)"></i><i style="left:82.8px;top:121px;width:88.4px;background:linear-gradient(90deg,#31fffa,#1cfffd 3%,#07ffff 4%,#36ebff 17%,#56afff 38%,#537aff 55%,#404bff)"></i><i style="left:77.7px;top:115.5px;width:90.3px;background:linear-gradient(90deg,#2ff0ff,#50c6ff 27%,#589cff 41%,#4f6cff 56%,#485bff 87%,#3f4aff)"></i><i style="left:72.1px;top:110px;width:92.6px;background:linear-gradient(90deg,#42dfff,#56b3ff 30%,#4c63ff 60%,#4757ff 89%,#3e47ff)"></i><i style="left:67.1px;top:104.5px;width:94.4px;background:linear-gradient(90deg,#4bd1ff,#589cff 37%,#4a5eff 65%,#3a42ff)"></i><i style="left:62px;top:99px;width:96.2px;background:linear-gradient(90deg,#50c8ff,#5686ff 44%,#4452ff 70%,#3134ff)"></i><i style="left:56.4px;top:93.5px;width:95.1px;background:linear-gradient(90deg,#51c4ff,#589fff 19%,#5378ff 51%,#3336ff 81%,#2525ff)"></i><i style="left:50.7px;top:88px;width:93.5px;background:linear-gradient(90deg,#51c4ff,#5796ff 23%,#4d65ff 60%,#3a40ff 76%,#1a19ff 89%,#0505ff)"></i><i style="left:45.1px;top:82.5px;width:92.5px;background:linear-gradient(90deg,#50c8ff,#5791ff 26%,#4a5fff 62%,#2627ff 83%,#00f 91%,#00f)"></i><i style="left:39.5px;top:77px;width:91.5px;background:linear-gradient(90deg,#4dcfff,#5898ff 24%,#495cff 62%,#3337ff 77%,#00f 90%,#00f)"></i><i style="left:34.2px;top:71.5px;width:90.1px;background:linear-gradient(90deg,#48d7ff,#589eff 24%,#495cff 62%,#2f32ff 81%,#1f1eff 86%,#00f 91%,#00f)"></i><i style="left:28.8px;top:66px;width:89.5px;background:linear-gradient(90deg,#3fe3ff,#57acff 22%,#4e6aff 56%,#363bff 81%,#2322ff 88%,#00f 95%,#00f)"></i><i style="left:22.6px;top:60.5px;width:90.2px;background:linear-gradient(90deg,#2cf2ff,#4df 8%,#52c0ff 19%,#547cff 51%,#373cff 82%,#22f 91%,#0504ff 96%,#00f)"></i><i style="left:17.2px;top:55px;width:89.6px;background:linear-gradient(90deg,#21fffd,#07feff 1%,#19faff 3%,#2bf3ff 5%,#45dbff 14%,#55b9ff 28%,#5792ff 46%,#3f49ff 82%,#292aff 94%,#0f0eff)"></i><i style="left:11.7px;top:49.5px;width:89px;background:linear-gradient(90deg,#60ffed,#40fff7 4%,#15fffe 6%,#10fdff 8%,#2df2ff 12%,#43deff 19%,#57a8ff 42%,#4b60ff 77%,#3b43ff 90%,#2424ff)"></i><i style="left:6px;top:44px;width:87.4px;background:linear-gradient(90deg,#84ffda,#62ffec 7%,#45fff6 11%,#22fffd 13%,#06feff 14%,#22f7ff 17%,#38e9ff 22%,#54bcff 42%,#547cff 72%,#383dff)"></i><i style="left:6px;top:38.5px;width:79.6px;background:linear-gradient(90deg,#88ffd8,#4ffff3 12%,#36fff9 14%,#06feff 17%,#22f7ff 20%,#33edff 25%,#50c6ff 43%,#578fff 71%,#4554ff)"></i><i style="left:6px;top:33.1px;width:72.3px;background:linear-gradient(90deg,#8dffd4,#52fff2 14%,#2bfffb 19%,#0dfffe 21%,#38e9ff 32%,#4fc9ff 49%,#589cff 73%,#4e68ff)"></i><i style="left:6px;top:27.6px;width:64.5px;background:linear-gradient(90deg,#94ffcf,#5affef 18%,#3bfff8 23%,#10fffe 27%,#0ffdff 29%,#23f6ff 32%,#32eeff 37%,#4cd1ff 55%,#57aaff 77%,#5581ff)"></i><i style="left:6px;top:22.1px;width:53px;background:linear-gradient(90deg,#9bffc9,#7cffdf 15%,#55fff1 28%,#37fff9 35%,#0efffe 39%,#0efdff 41%,#2cf2ff 50%,#42dfff 63%,#57a5ff)"></i><i style="left:6px;top:16.6px;width:40.2px;background:linear-gradient(90deg,#a2ffc3,#83ffdb 23%,#5cffee 43%,#39fff9 54%,#09feff 63%,#2ef1ff 74%,#4bd1ff)"></i><i style="left:6px;top:11.1px;width:29.2px;background:linear-gradient(90deg,#a9ffbd,#6bffe8 60%,#46fff6 80%,#2cfffb 88%,#13fffe 92%,#0efdff 96%,#1bf9ff)"></i><i style="left:6px;top:5.6px;width:19.2px;background:linear-gradient(90deg,#adffb9,#6effe7)"></i></div><div class="hm" style="left:49px;top:954px;width:282px;height:263px;clip-path:url(#cD0)"><i style="left:216.1px;top:251px;width:62.7px;background:linear-gradient(90deg,#00f,#2627ff 13%,#414dff 35%,#5172ff 64%,#5689ff)"></i><i style="left:211.5px;top:245.5px;width:66.3px;background:linear-gradient(90deg,#2d2fff,#495dff 26%,#578eff 64%,#58a2ff)"></i><i style="left:206.9px;top:240px;width:68.2px;background:linear-gradient(90deg,#414cff,#547cff 29%,#57a9ff 68%,#54baff)"></i><i style="left:202.4px;top:234.4px;width:69.5px;background:linear-gradient(90deg,#4d67ff,#57a7ff 41%,#4ad4ff)"></i><i style="left:193.3px;top:228.9px;width:75.4px;background:linear-gradient(90deg,#547cff,#51c5ff 47%,#33edff)"></i><i style="left:188.7px;top:223.4px;width:76px;background:linear-gradient(90deg,#589aff,#54bbff 23%,#4df 42%,#2ef1ff 67%,#19faff 82%,#01ffff 89%,#1ffffd 94%,#33fffa)"></i><i style="left:184.1px;top:217.9px;width:76.4px;background:linear-gradient(90deg,#55b8ff,#3ee4ff 27%,#28f4ff 36%,#0affff 43%,#29fffc 46%,#42fff7 54%,#71ffe5)"></i><i style="left:179.6px;top:212.4px;width:73.5px;background:linear-gradient(90deg,#49d4ff,#33edff 16%,#0efffe 27%,#36fff9 30%,#52fff2 34%,#7fffdd 48%,#88ffd7 58%,#8fffd2)"></i><i style="left:170.5px;top:206.9px;width:75.3px;background:linear-gradient(90deg,#3ce6ff,#26f5ff 9%,#06ffff 15%,#23fffc 17%,#31fffa 18%,#54fff1 24%,#7dffdf 36%,#a0ffc5 52%,#b0ffb6 64%,#a8ffbe)"></i><i style="left:165.9px;top:201.3px;width:76.1px;background:linear-gradient(90deg,#0dfffe,#33fffa 3%,#5cffee 11%,#7effde 21%,#9dffc8 36%,#c6ff9c 67%,#bdffa7)"></i><i style="left:161.3px;top:195.8px;width:73.3px;background:linear-gradient(90deg,#6bffe8,#a0ffc5 23%,#c6ff9c 53%,#d7ff84 75%,#d0ff8e)"></i><i style="left:156.8px;top:190.3px;width:74.1px;background:linear-gradient(90deg,#93ffd0,#c3ffa0 32%,#e1ff72 69%,#e5ff6a 83%,#e2ff70)"></i><i style="left:147.7px;top:184.8px;width:75.9px;background:linear-gradient(90deg,#b0ffb6,#bbffa9 17%,#d9ff80 44%,#edff58 76%,#f1ff4d)"></i><i style="left:143.1px;top:179.3px;width:76.7px;background:linear-gradient(90deg,#c9ff98,#efff52 57%,#fcff21)"></i><i style="left:138.5px;top:173.8px;width:73.9px;background:linear-gradient(90deg,#dbff7d,#efff51 25%,#faff2c 59%,#fdff18 69%,#ff0 75%,#fff300)"></i><i style="left:134px;top:168.3px;width:74.8px;background:linear-gradient(90deg,#e7ff65,#f9ff32 20%,#fffe00 29%,#ffe100)"></i><i style="left:124.9px;top:162.7px;width:76.5px;background:linear-gradient(90deg,#ebff5d,#f9ff31 16%,#fffd00 25%,#ffe600 45%,#ffd000)"></i><i style="left:120.3px;top:157.2px;width:77.3px;background:linear-gradient(90deg,#f3ff47,#fbff25 10%,#fffe00 16%,#ffd600 49%,#ffc000)"></i><i style="left:115.7px;top:151.7px;width:74.5px;background:linear-gradient(90deg,#faff2d,#fffe00 8%,#fc0 51%,#ffb100)"></i><i style="left:111.2px;top:146.2px;width:71.7px;background:linear-gradient(90deg,#fffd00,#ffc900 44%,#ffa400)"></i><i style="left:102.1px;top:140.7px;width:77.1px;background:linear-gradient(90deg,#fffd00,#ffc400 37%,#ff9300)"></i><i style="left:97.5px;top:135.2px;width:74.2px;background:linear-gradient(90deg,#fff400,#ffb000 43%,#ff8400)"></i><i style="left:92.9px;top:129.7px;width:75.1px;background:linear-gradient(90deg,#ffec00,#ff9a00 49%,#ff7200)"></i><i style="left:88.4px;top:124.1px;width:72.3px;background:linear-gradient(90deg,#ffe600,#ff8500 56%,#ff5f00)"></i><i style="left:79.3px;top:118.6px;width:77.7px;background:linear-gradient(90deg,#ffec00,#ff6f00 62%,#ff4600)"></i><i style="left:74.7px;top:113.1px;width:74.8px;background:linear-gradient(90deg,#ffe900,#ff5400 71%,#ff2900)"></i><i style="left:70.1px;top:107.6px;width:75.7px;background:linear-gradient(90deg,#ffe800,#ff7400 53%,#f20 82%,#ff0100 89%,#f00)"></i><i style="left:65.6px;top:102.1px;width:72.9px;background:linear-gradient(90deg,#ffe900,#ff6200 62%,#ff2e00 78%,#ff0200 84%,#f00)"></i><i style="left:56.5px;top:96.6px;width:78.3px;background:linear-gradient(90deg,#fffa00,#f60 63%,#ff3200 78%,#f00 85%,#f00)"></i><i style="left:51.9px;top:91px;width:75.4px;background:linear-gradient(90deg,#ffff03,#ff6500 68%,#ff3000 83%,#ff1f00 86%,#f00 89%,#f00)"></i><i style="left:47.3px;top:85.5px;width:76.3px;background:linear-gradient(90deg,#fbff27,#ffff02 3%,#fffb00 5%,#ff6b00 70%,#ff3500 86%,#ff1b00 91%,#f00 94%,#f00)"></i><i style="left:42.8px;top:80px;width:73.5px;background:linear-gradient(90deg,#f5ff3e,#fcff20 5%,#fffd00 8%,#ff6c00 77%,#ff3e00 92%,#ff1500)"></i><i style="left:33.7px;top:74.5px;width:75.2px;background:linear-gradient(90deg,#e3ff6d,#f8ff34 12%,#fffc00 18%,#ff8600 77%,#ff4900)"></i><i style="left:29.1px;top:69px;width:76.1px;background:linear-gradient(90deg,#d7ff83,#f5ff3f 15%,#faff2c 18%,#fffc00 23%,#ff9200 77%,#ff5b00)"></i><i style="left:24.5px;top:63.5px;width:73.2px;background:linear-gradient(90deg,#c7ff9b,#f4ff43 20%,#fbff25 25%,#fffe00 28%,#ff7800)"></i><i style="left:20px;top:58px;width:74.1px;background:linear-gradient(90deg,#b1ffb5,#f2ff4a 25%,#faff2e 30%,#fffd00 34%,#ff8c00)"></i><i style="left:10.9px;top:52.4px;width:75.8px;background:linear-gradient(90deg,#70ffe5,#abffbb 12%,#e4ff6c 30%,#f9ff2e 41%,#fffd00 45%,#ffa600)"></i><i style="left:6.3px;top:46.9px;width:76.7px;background:linear-gradient(90deg,#0cfffe,#33fffa 1%,#47fff5 3%,#7fffdd 10%,#bfffa6 25%,#ecff59 40%,#fbff28 48%,#ffff01 51%,#ffb500)"></i><i style="left:6.3px;top:41.4px;width:71.8px;background:linear-gradient(90deg,#1ef9ff,#0afeff 2%,#3ffff7 5%,#4ffff3 6%,#8affd7 16%,#c1ffa3 31%,#ebff5c 45%,#fbff26 55%,#fffd00 60%,#ffc800)"></i><i style="left:6.3px;top:35.9px;width:66px;background:linear-gradient(90deg,#2df1ff,#08ffff 5%,#30fffa 7%,#44fff6 9%,#7affe0 18%,#baffab 35%,#e4ff6c 51%,#faff2a 68%,#fffd00 75%,#ffdc00)"></i><i style="left:6.3px;top:30.4px;width:60.4px;background:linear-gradient(90deg,#37eaff,#13fcff 8%,#15fffe 10%,#33fffa 12%,#45fff6 13%,#68ffea 19%,#b5ffb0 42%,#deff78 62%,#f7ff3a 83%,#fcff24 88%,#fffd00 94%,#fff500)"></i><i style="left:6.3px;top:24.9px;width:54.6px;background:linear-gradient(90deg,#3ee3ff,#29f4ff 9%,#11fcff 13%,#17fffe 15%,#33fffa 17%,#5bffef 23%,#95ffcf 40%,#d0ff8e 70%,#f5ff41)"></i><i style="left:6.3px;top:19.4px;width:48.5px;background:linear-gradient(90deg,#43deff,#2ef1ff 12%,#10fcff 19%,#16fffe 21%,#31fffa 24%,#4dfff4 29%,#7dffde 43%,#b9ffac 74%,#dfff74)"></i><i style="left:6.3px;top:13.8px;width:41.1px;background:linear-gradient(90deg,#47d9ff,#2cf2ff 19%,#0dfdff 28%,#40fff7 36%,#6dffe7 50%,#c2ffa1)"></i><i style="left:6.3px;top:8.3px;width:31.3px;background:linear-gradient(90deg,#49d5ff,#2ef1ff 30%,#17fbff 41%,#04feff 44%,#35fffa 52%,#4dfff3 59%,#6dffe7 74%,#94ffcf)"></i><i style="left:6.3px;top:2.8px;width:17.4px;background:linear-gradient(90deg,#4bd2ff,#2ff0ff 60%,#0afdff 87%,#31fffa)"></i></div><div class="hm" style="left:400px;top:979px;width:243px;height:238px;clip-path:url(#cD1)"><i style="left:172.3px;top:226px;width:68.1px;background:linear-gradient(90deg,#2b2dff,#4d66ff 24%,#589eff 61%,#4dceff 83%,#2bf3ff)"></i><i style="left:165.1px;top:220.5px;width:74.4px;background:linear-gradient(90deg,#3235ff,#5379ff 28%,#54b9ff 63%,#39e9ff 83%,#21f8ff 89%,#02ffff 92%,#25fffc 94%,#37fff9 95%,#57fff0)"></i><i style="left:157.8px;top:215px;width:79.4px;background:linear-gradient(90deg,#3b42ff,#5582ff 28%,#53bdff 52%,#3be7ff 72%,#26f5ff 78%,#0cfffe 83%,#2afffb 84%,#51fff2 88%,#83ffdb)"></i><i style="left:154.2px;top:209.4px;width:80.8px;background:linear-gradient(90deg,#485bff,#5790ff 24%,#52c1ff 43%,#36ebff 60%,#21f7ff 66%,#09feff 69%,#3dfff8 73%,#60ffed 79%,#81ffdc 87%,#a2ffc4)"></i><i style="left:146.9px;top:203.9px;width:85.5px;background:linear-gradient(90deg,#4e69ff,#5899ff 22%,#50c6ff 38%,#36ebff 50%,#22f7ff 54%,#06feff 57%,#20fffd 58%,#41fff7 61%,#6fffe6 69%,#99ffcb 82%,#baffab)"></i><i style="left:139.7px;top:198.4px;width:90px;background:linear-gradient(90deg,#5273ff,#57a5ff 19%,#4dceff 35%,#2df1ff 45%,#19faff 47%,#02ffff 49%,#2bfffb 50%,#4cfff4 53%,#7cffdf 60%,#aaffbc 77%,#ceff91)"></i><i style="left:136px;top:192.9px;width:90.9px;background:linear-gradient(90deg,#5687ff,#56b2ff 15%,#4ad4ff 28%,#30efff 37%,#10fdff 41%,#48fff5 44%,#60ffed 47%,#81ffdc 52%,#9dffc8 58%,#bcffa9 72%,#dfff75)"></i><i style="left:128.8px;top:187.4px;width:95.5px;background:linear-gradient(90deg,#578fff,#55b7ff 13%,#45dbff 25%,#2df1ff 33%,#0dfdff 36%,#46fff6 40%,#67ffea 43%,#8bffd5 49%,#afffb7 58%,#ceff91 71%,#edff58)"></i><i style="left:121.5px;top:181.9px;width:100.1px;background:linear-gradient(90deg,#5897ff,#54bcff 11%,#44dcff 22%,#2bf2ff 29%,#1afaff 31%,#08feff 32%,#37fff9 34%,#64ffeb 39%,#8dffd4 46%,#b3ffb3 55%,#dcff7b 71%,#f8ff34)"></i><i style="left:117.9px;top:176.3px;width:101.3px;background:linear-gradient(90deg,#57abff,#3fe2ff 17%,#2df1ff 22%,#10fdff 25%,#15fffe 26%,#2ffffb 27%,#4bfff4 30%,#6dffe7 34%,#96ffce 42%,#bcffa9 52%,#eaff5f 73%,#fbff28 90%,#fffe00 97%,#fff900)"></i><i style="left:110.6px;top:170.8px;width:106.1px;background:linear-gradient(90deg,#56b2ff,#3ae8ff 15%,#22f7ff 19%,#0ff 22%,#29fffc 23%,#3bfff8 24%,#65ffeb 28%,#8effd4 35%,#c2ffa2 49%,#e3ff6d 62%,#f9ff30 77%,#fdff17 82%,#ff0 84%,#ffe700)"></i><i style="left:103.4px;top:165.3px;width:110.6px;background:linear-gradient(90deg,#54baff,#3de4ff 11%,#28f4ff 15%,#12fcff 18%,#13fffe 19%,#30fffb 20%,#4dfff3 22%,#7dffde 28%,#a4ffc2 36%,#d4ff87 52%,#f9ff30 70%,#fffe00 76%,#ffd800)"></i><i style="left:99.7px;top:159.8px;width:111.1px;background:linear-gradient(90deg,#4dceff,#33edff 8%,#1bfaff 11%,#0afeff 12%,#46fff6 15%,#73ffe4 21%,#9fffc6 29%,#c6ff9d 40%,#efff53 57%,#fbff28 63%,#ffff02 66%,#ffcb00)"></i><i style="left:92.5px;top:154.3px;width:115.3px;background:linear-gradient(90deg,#49d5ff,#2ef1ff 7%,#0afeff 10%,#38fff9 12%,#5dffee 15%,#97ffcd 24%,#c8ff9a 37%,#eeff56 52%,#faff2e 58%,#fdff15 60%,#fffe00 61%,#ffe800 69%,#ffbf00)"></i><i style="left:85.2px;top:148.8px;width:119.4px;background:linear-gradient(90deg,#45dbff,#31efff 5%,#0dfffe 9%,#2ffffb 10%,#59ffef 12%,#81ffdc 17%,#a1ffc4 23%,#d3ff8a 37%,#f4ff44 52%,#fcff21 57%,#ff0 59%,#ffd900 72%,#ffb600)"></i><i style="left:81.6px;top:143.3px;width:119px;background:linear-gradient(90deg,#34ecff,#1df9ff 3%,#0cfdff 4%,#37fff9 6%,#5dffee 9%,#83ffdb 13%,#a3ffc2 19%,#dbff7c 34%,#f7ff37 47%,#fdff1c 51%,#ff0 53%,#ffce00 73%,#ffad00)"></i><i style="left:74.3px;top:137.7px;width:121.9px;background:linear-gradient(90deg,#2ff0ff,#0ffdff 3%,#46fff6 6%,#76ffe3 10%,#a2ffc3 18%,#d1ff8c 29%,#f4ff43 41%,#fcff1f 44%,#ff0 46%,#ffc500 75%,#ffa600)"></i><i style="left:67.1px;top:132.2px;width:125.1px;background:linear-gradient(90deg,#2ef1ff,#1afaff 2%,#05feff 3%,#28fffc 4%,#4bfff4 6%,#6affe8 8%,#8dffd4 13%,#baffab 22%,#eaff5f 36%,#f9ff30 41%,#fffe00 44%,#ffdf00 54%,#ffb500 78%,#ff9b00)"></i><i style="left:63.4px;top:126.7px;width:123.7px;background:linear-gradient(90deg,#02ffff,#2afffb 1%,#4dfff4 3%,#88ffd8 9%,#bcffa9 19%,#dfff76 30%,#f3ff46 37%,#faff2b 40%,#fffc00 43%,#ffcf00 56%,#ff8f00)"></i><i style="left:56.2px;top:121.2px;width:125.5px;background:linear-gradient(90deg,#0dfdff,#38fff9 2%,#54fff1 4%,#78ffe1 7%,#97ffcd 12%,#c6ff9c 22%,#ef5 35%,#fbff26 40%,#ff0 42%,#ffc100 61%,#ff8400)"></i><i style="left:48.9px;top:115.7px;width:126.9px;background:linear-gradient(90deg,#19faff,#03ffff 1%,#2afffc 2%,#58fff0 5%,#7bffe0 8%,#9effc7 14%,#ceff91 24%,#efff51 35%,#faff2a 40%,#fffd00 42%,#ffd400 53%,#ffb400 65%,#ff7900)"></i><i style="left:45.3px;top:110.2px;width:125.7px;background:linear-gradient(90deg,#2efffb,#4ffff3 2%,#6dffe7 5%,#a4ffc1 13%,#cfff8f 23%,#f1ff4d 34%,#fbff24 38%,#fffe00 40%,#ffb200 63%,#ff6d00)"></i><i style="left:38px;top:104.7px;width:129.1px;background:linear-gradient(90deg,#07feff,#3cfff8 2%,#57fff0 4%,#93ffd0 11%,#c4ff9e 20%,#efff53 33%,#faff2c 37%,#fffe00 40%,#ffae00 62%,#ff6000)"></i><i style="left:30.8px;top:99.1px;width:132.2px;background:linear-gradient(90deg,#25f6ff,#01ffff 2%,#2dfffb 3%,#5bffef 5%,#83ffdb 10%,#a4ffc2 15%,#ef5 33%,#faff2d 37%,#fffd00 40%,#ffa200 66%,#ff5600)"></i><i style="left:27.1px;top:93.6px;width:130.2px;background:linear-gradient(90deg,#19faff,#01ffff 1%,#2dfffb 2%,#4ffff3 4%,#76ffe3 7%,#9bffc9 12%,#cdff93 23%,#ecff5a 32%,#fbff27 37%,#ff0 39%,#ffdb00 47%,#ffa000 67%,#ff4d00)"></i><i style="left:19.9px;top:88.1px;width:131.4px;background:linear-gradient(90deg,#3ef,#13fcff 3%,#17fffe 3%,#35fffa 4%,#53fff1 6%,#80ffdd 10%,#b0ffb6 18%,#dbff7c 29%,#f7ff39 37%,#fffd00 41%,#ffd000 51%,#ff4a00)"></i><i style="left:12.6px;top:82.6px;width:132.9px;background:linear-gradient(90deg,#42dfff,#12fffe 6%,#33fffa 7%,#53fff2 9%,#92ffd1 16%,#c3ffa0 25%,#ecff5a 36%,#fbff28 41%,#ff0 43%,#ffcd00 54%,#ff4d00)"></i><i style="left:9px;top:77.1px;width:128.7px;background:linear-gradient(90deg,#4df,#27f5ff 4%,#04feff 6%,#2bfffb 7%,#4efff3 9%,#6effe7 12%,#90ffd2 16%,#bdffa7 25%,#edff58 38%,#f9ff31 43%,#fdff17 45%,#fffe00 46%,#ffcd00 58%,#ff5b00)"></i><i style="left:6.3px;top:71.6px;width:123.6px;background:linear-gradient(90deg,#44dcff,#27f5ff 5%,#03ffff 6%,#2bfffb 7%,#4ffff3 9%,#6effe7 12%,#90ffd2 17%,#bdffa7 26%,#ebff5b 40%,#faff2e 45%,#fffd00 48%,#ffcf00 61%,#ff6b00)"></i><i style="left:6.3px;top:66px;width:115.8px;background:linear-gradient(90deg,#3ce6ff,#27f4ff 3%,#05feff 5%,#2afffb 6%,#4efff3 8%,#6dffe7 11%,#8fffd3 16%,#c2ffa1 28%,#ecff5a 42%,#faff2d 48%,#fffe00 50%,#ffd000 65%,#ff8000)"></i><i style="left:6.3px;top:60.5px;width:108.1px;background:linear-gradient(90deg,#34edff,#14fcff 3%,#18fffe 4%,#36fff9 5%,#5fffed 9%,#96ffcd 17%,#c6ff9d 30%,#edff56 45%,#faff2b 51%,#fffe00 54%,#ffd500 69%,#ff9500)"></i><i style="left:6.3px;top:55px;width:101.3px;background:linear-gradient(90deg,#2df1ff,#15fbff 2%,#15fffe 3%,#34fffa 5%,#46fff6 6%,#68ffe9 9%,#8bffd5 15%,#acffba 23%,#efff52 49%,#fbff27 56%,#fffd00 59%,#ffa900)"></i><i style="left:6.3px;top:49.5px;width:94.7px;background:linear-gradient(90deg,#2af3ff,#0dfdff 2%,#3bfff8 5%,#61ffec 8%,#86ffd9 14%,#a8ffbe 23%,#d0ff8e 37%,#f1ff4c 54%,#fcff22 61%,#ffff02 64%,#ffba00)"></i><i style="left:6.3px;top:44px;width:88.1px;background:linear-gradient(90deg,#2df1ff,#10fffe 4%,#32fffa 5%,#44fff6 6%,#7bffdf 14%,#a8ffbe 26%,#d0ff8e 42%,#f5ff40 64%,#fcff23 69%,#fffd00 73%,#ffcb00)"></i><i style="left:6.3px;top:38.5px;width:82.2px;background:linear-gradient(90deg,#36ebff,#1cf9ff 4%,#0afeff 6%,#48fff5 10%,#75ffe3 17%,#a6ffc0 29%,#c8ff99 43%,#f4ff43 71%,#fcff20 78%,#ffff01 81%,#ffdc00)"></i><i style="left:6.3px;top:33px;width:75.6px;background:linear-gradient(90deg,#43deff,#28f4ff 8%,#0ffdff 11%,#1afffd 12%,#45fff6 15%,#65ffeb 20%,#88ffd7 27%,#abffbb 38%,#d1ff8d 56%,#f3ff47 80%,#fbff27 88%,#ff0 92%,#fff100)"></i><i style="left:6.3px;top:27.4px;width:68.3px;background:linear-gradient(90deg,#4fcaff,#38e9ff 12%,#0dfffe 20%,#30fffa 22%,#5cffee 27%,#9bffca 42%,#ceff92 66%,#f8ff35)"></i><i style="left:6.3px;top:21.9px;width:55.2px;background:linear-gradient(90deg,#56b4ff,#3ce6ff 23%,#27f4ff 29%,#04feff 33%,#2cfffb 35%,#50fff3 40%,#86ffd9 52%,#b6ffaf 73%,#ddff79)"></i><i style="left:6.3px;top:16.4px;width:43.3px;background:linear-gradient(90deg,#589fff,#45dbff 35%,#30f0ff 46%,#0affff 54%,#33fffa 57%,#46fff6 59%,#6bffe8 68%,#90ffd2 81%,#b2ffb4)"></i><i style="left:6.3px;top:10.9px;width:34px;background:linear-gradient(90deg,#578fff,#55b4ff 31%,#47d9ff 55%,#29f4ff 72%,#1cf9ff 76%,#03ffff 79%,#2ffffb 83%,#44fff6 86%,#73ffe4)"></i><i style="left:6.3px;top:5.4px;width:25.1px;background:linear-gradient(90deg,#5583ff,#54bbff 59%,#36ebff)"></i></div><div class="hm" style="left:750px;top:1007px;width:190px;height:210px;clip-path:url(#cD2)"><i style="left:167.7px;top:198px;width:16.8px;background:linear-gradient(90deg,#4bd2ff,#33edff 50%,#0efdff 79%,#42fff7)"></i><i style="left:163.1px;top:192.5px;width:22.7px;background:linear-gradient(90deg,#46daff,#34edff 26%,#10fffe 53%,#2efffb 58%,#4bfff4 68%,#7bffe0)"></i><i style="left:158.2px;top:187px;width:28.7px;background:linear-gradient(90deg,#3fe2ff,#28f4ff 20%,#15fbff 28%,#01ffff 32%,#27fffc 36%,#51fff2 48%,#78ffe1 68%,#a0ffc5)"></i><i style="left:152px;top:181.4px;width:35.1px;background:linear-gradient(90deg,#37eaff,#21f8ff 13%,#04feff 20%,#34fffa 27%,#5effee 40%,#88ffd8 63%,#b5ffb1)"></i><i style="left:145.9px;top:175.9px;width:41.6px;background:linear-gradient(90deg,#29f4ff,#06feff 8%,#34fffa 14%,#41fff7 17%,#70ffe5 33%,#9effc7 61%,#cbff95)"></i><i style="left:139.7px;top:170.4px;width:47.8px;background:linear-gradient(90deg,#0bfdff,#33fffa 5%,#4dfff4 10%,#7fffdd 27%,#aaffbc 54%,#deff78)"></i><i style="left:133.6px;top:164.9px;width:53.9px;background:linear-gradient(90deg,#3bfff8,#72ffe4 13%,#a4ffc2 34%,#d2ff8b 68%,#f0ff4f)"></i><i style="left:127.5px;top:159.4px;width:59.6px;background:linear-gradient(90deg,#56fff0,#8bffd6 15%,#bfffa5 40%,#f5ff3e 87%,#fcff20 96%,#feff08)"></i><i style="left:121.3px;top:153.9px;width:65.2px;background:linear-gradient(90deg,#6affe8,#b6ffb0 28%,#ecff5a 63%,#f9ff2e 75%,#fffd00 82%,#ffe700)"></i><i style="left:115.2px;top:148.3px;width:69.7px;background:linear-gradient(90deg,#7affe0,#b6ffb0 23%,#ecff5b 54%,#faff2c 67%,#fdff18 70%,#ffff04 72%,#fffc00 74%,#ffd400)"></i><i style="left:109px;top:142.8px;width:73.7px;background:linear-gradient(90deg,#85ffd9,#b3ffb3 17%,#e2ff6f 42%,#f8ff33 58%,#fffd00 66%,#ffc600)"></i><i style="left:102.4px;top:137.3px;width:78.2px;background:linear-gradient(90deg,#8effd3,#c6ff9c 24%,#e7ff66 41%,#f9ff2f 53%,#fffe00 57%,#fb0)"></i><i style="left:96.3px;top:131.8px;width:82px;background:linear-gradient(90deg,#9affca,#c7ff9b 21%,#e7ff64 39%,#f7ff38 49%,#fcff23 52%,#fffd00 55%,#ffd900 69%,#ffb200)"></i><i style="left:89.7px;top:126.3px;width:86.1px;background:linear-gradient(90deg,#a1ffc4,#c0ffa3 13%,#ebff5c 40%,#f9ff31 49%,#fdff1b 52%,#ffff06 53%,#fffc00 55%,#ffcf00 72%,#fa0)"></i><i style="left:83.6px;top:120.8px;width:88.6px;background:linear-gradient(90deg,#a5ffc1,#cfff90 17%,#f2ff4a 43%,#faff2d 49%,#fffd00 55%,#ffd300 73%,#ffa800)"></i><i style="left:78.5px;top:115.3px;width:90.4px;background:linear-gradient(90deg,#a7ffbf,#daff7f 19%,#f8ff35 44%,#fdff1b 49%,#ff0 52%,#ffa400)"></i><i style="left:72.9px;top:109.7px;width:92.7px;background:linear-gradient(90deg,#a2ffc3,#e3ff6e 22%,#fcff22 43%,#ff0 48%,#ff9e00)"></i><i style="left:67.8px;top:104.2px;width:94.5px;background:linear-gradient(90deg,#9cffc9,#ccff94 13%,#eeff54 28%,#fcff1f 38%,#ff0 41%,#fd0 67%,#ff9600)"></i><i style="left:62.7px;top:98.7px;width:96.3px;background:linear-gradient(90deg,#95ffcf,#c6ff9d 13%,#edff57 29%,#faff2e 36%,#fffe00 40%,#ffd300 70%,#ff8b00)"></i><i style="left:57.1px;top:93.2px;width:95.3px;background:linear-gradient(90deg,#8affd6,#c1ffa3 14%,#ef5 33%,#faff2a 40%,#ff0 43%,#ffcf00 73%,#ff8a00)"></i><i style="left:51.4px;top:87.7px;width:93.7px;background:linear-gradient(90deg,#7effde,#b5ffb0 13%,#ecff5b 35%,#faff2b 44%,#ff0 48%,#ffc600 79%,#ff8c00)"></i><i style="left:45.8px;top:82.2px;width:92.7px;background:linear-gradient(90deg,#6dffe7,#91ffd1 6%,#aeffb8 14%,#ebff5b 40%,#faff2e 48%,#fdff18 51%,#ffff03 52%,#fffc00 53%,#ffbe00 85%,#ff8f00)"></i><i style="left:40.2px;top:76.7px;width:91.6px;background:linear-gradient(90deg,#50fff3,#88ffd8 8%,#b5ffb1 19%,#f1ff4c 48%,#fbff29 54%,#fffe00 58%,#ff9d00)"></i><i style="left:34.9px;top:71.1px;width:90.3px;background:linear-gradient(90deg,#02ffff,#32fffa 1%,#56fff1 4%,#6cffe7 6%,#9cffc9 15%,#c0ffa4 27%,#f2ff48 53%,#faff2d 58%,#fdff18 61%,#ffff03 62%,#fffc00 63%,#ffa600)"></i><i style="left:29.4px;top:65.6px;width:89.7px;background:linear-gradient(90deg,#34edff,#1ef9ff 3%,#04feff 4%,#2ffffb 5%,#55fff1 8%,#7dffdf 13%,#9cffc9 19%,#c9ff99 35%,#f1ff4c 58%,#fcff23 65%,#ffff02 68%,#ffb000)"></i><i style="left:23.2px;top:60.1px;width:90.3px;background:linear-gradient(90deg,#4ad3ff,#2cf2ff 6%,#07feff 9%,#2efffb 10%,#45fff6 11%,#6cffe7 15%,#97ffcd 23%,#b9ffac 33%,#f2ff4b 63%,#faff2b 70%,#feff14 72%,#ff0 73%,#ffba00)"></i><i style="left:17.8px;top:54.6px;width:89.7px;background:linear-gradient(90deg,#55b9ff,#3be7ff 9%,#2af3ff 12%,#07ffff 14%,#35fffa 15%,#59fff0 18%,#6fffe6 21%,#93ffd0 27%,#b3ffb3 36%,#f1ff4d 69%,#f9ff2e 76%,#fffd00 81%,#ffcb00)"></i><i style="left:12.3px;top:49.1px;width:89.1px;background:linear-gradient(90deg,#5899ff,#54bcff 6%,#42dfff 13%,#2bf2ff 17%,#1ef9ff 18%,#02ffff 19%,#33fffa 21%,#64ffeb 24%,#8cffd5 31%,#aaffbc 38%,#ccff94 53%,#efff51 74%,#faff2c 82%,#fdff16 85%,#ff0 86%,#ffd900)"></i><i style="left:6.6px;top:43.6px;width:87.6px;background:linear-gradient(90deg,#5274ff,#589eff 8%,#51c3ff 14%,#41e0ff 20%,#32eeff 22%,#17fbff 25%,#1afffd 26%,#3bfff8 28%,#67ffea 32%,#86ffd9 37%,#a5ffc1 45%,#c5ff9d 58%,#e9ff61 79%,#faff2c 91%,#fdff15 93%,#ff0 95%,#fff100)"></i><i style="left:6.6px;top:38px;width:79.7px;background:linear-gradient(90deg,#5170ff,#58a0ff 10%,#50c7ff 17%,#34edff 25%,#0cfffe 29%,#35fffa 30%,#57fff0 33%,#74ffe4 38%,#93ffd0 45%,#b9ffac 59%,#e1ff71 83%,#faff2e)"></i><i style="left:6.6px;top:32.5px;width:72.5px;background:linear-gradient(90deg,#4f6bff,#5898ff 11%,#50c7ff 21%,#35ecff 29%,#1ff8ff 32%,#08feff 33%,#2bfffb 35%,#51fff2 38%,#70ffe6 43%,#8affd6 49%,#b3ffb3 65%,#edff58)"></i><i style="left:6.6px;top:27px;width:64.6px;background:linear-gradient(90deg,#4e67ff,#5897ff 14%,#52c2ff 25%,#36ebff 36%,#0ffdff 41%,#4efff3 46%,#84ffda 57%,#a9ffbd 71%,#daff7e)"></i><i style="left:6.6px;top:21.5px;width:53.1px;background:linear-gradient(90deg,#4d66ff,#5897ff 20%,#51c5ff 35%,#36ebff 48%,#11fcff 54%,#4efff3 61%,#76ffe2 70%,#9affca 83%,#baffac)"></i><i style="left:6.6px;top:16px;width:40.3px;background:linear-gradient(90deg,#4e68ff,#589aff 29%,#4fcaff 51%,#32eeff 69%,#1cf9ff 74%,#02ffff 77%,#30fffb 80%,#45fff6 83%,#60ffed 89%,#82ffdc)"></i><i style="left:6.6px;top:10.5px;width:29.3px;background:linear-gradient(90deg,#506eff,#55b5ff 60%,#47d8ff 84%,#32eeff)"></i><i style="left:6.6px;top:5px;width:19.2px;background:linear-gradient(90deg,#5274ff,#54bcff)"></i></div><div class="hm" style="left:1117px;top:957px;width:281px;height:264px;clip-path:url(#cE0)"><i style="left:216.1px;top:251.7px;width:62.5px;background:linear-gradient(90deg,#caff97,#f2ff49 38%,#fbff26 47%,#ff0 51%,#ffc800 73%,#ff6500)"></i><i style="left:211.6px;top:246.2px;width:66.2px;background:linear-gradient(90deg,#c0ffa5,#f1ff4c 41%,#faff2a 50%,#feff0a 53%,#fffc00 55%,#ffc600 74%,#ff6400)"></i><i style="left:207px;top:240.6px;width:68.1px;background:linear-gradient(90deg,#b3ffb3,#f1ff4d 46%,#faff2c 54%,#feff0d 58%,#fffc00 59%,#ffbe00 80%,#ff7200)"></i><i style="left:202.5px;top:235.1px;width:69.4px;background:linear-gradient(90deg,#a4ffc2,#c6ff9c 20%,#f1ff4c 49%,#fbff28 57%,#fdff1a 59%,#ff0 61%,#ff7900)"></i><i style="left:193.4px;top:229.6px;width:75.2px;background:linear-gradient(90deg,#89ffd7,#acffba 20%,#d7ff83 39%,#f7ff38 59%,#fbff25 62%,#fffe00 65%,#ff8300)"></i><i style="left:188.8px;top:224.1px;width:75.8px;background:linear-gradient(90deg,#79ffe1,#97ffcd 20%,#b8ffad 33%,#efff51 58%,#f9ff30 64%,#feff12 67%,#fffd00 68%,#ff9200)"></i><i style="left:184.3px;top:218.6px;width:76.2px;background:linear-gradient(90deg,#6bffe8,#82ffdb 21%,#abffbb 36%,#f0ff50 61%,#fbff29 67%,#fffe00 70%,#ff9a00)"></i><i style="left:179.7px;top:213px;width:73.3px;background:linear-gradient(90deg,#62ffec,#6dffe7 22%,#90ffd2 38%,#beffa7 50%,#edff57 67%,#f9ff31 73%,#fffb00 78%,#ffb600)"></i><i style="left:170.6px;top:207.5px;width:75.1px;background:linear-gradient(90deg,#58fff0,#61ffec 30%,#89ffd7 47%,#baffab 59%,#edff57 76%,#f9ff2e 82%,#fcff1f 83%,#ff0 85%,#ffcd00)"></i><i style="left:166.1px;top:202px;width:75.9px;background:linear-gradient(90deg,#41fff7,#57fff0 11%,#5cffee 36%,#84ffda 52%,#b7ffae 64%,#e9ff60 79%,#faff2d 86%,#fffe00 89%,#ffdb00)"></i><i style="left:161.5px;top:196.5px;width:73.1px;background:linear-gradient(90deg,#1ff8ff,#05feff 5%,#2ffffb 9%,#42fff7 14%,#56fff1 41%,#89ffd7 59%,#b0ffb6 69%,#dcff7a 81%,#f7ff3b 92%,#fcff1e 95%,#ff0 97%,#fff400)"></i><i style="left:157px;top:191px;width:74px;background:linear-gradient(90deg,#3de5ff,#27f5ff 14%,#04feff 23%,#2efffb 31%,#5dffee 49%,#86ffd9 62%,#b0ffb6 72%,#dfff74 86%,#f5ff3e 95%,#fbff24 98%,#feff0c)"></i><i style="left:147.9px;top:185.4px;width:75.7px;background:linear-gradient(90deg,#4ccfff,#3be7ff 27%,#25f5ff 38%,#08ffff 45%,#1ffffd 47%,#3efff8 52%,#95ffce 74%,#c1ffa2 86%,#e9ff60)"></i><i style="left:143.3px;top:179.9px;width:76.5px;background:linear-gradient(90deg,#52c2ff,#4fcaff 22%,#4df 36%,#2cf2ff 46%,#16fbff 51%,#07feff 52%,#3cfff8 57%,#5fffed 63%,#a4ffc2 81%,#e0ff73)"></i><i style="left:138.8px;top:174.4px;width:73.7px;background:linear-gradient(90deg,#55b5ff,#53bdff 31%,#4ad3ff 44%,#3ef 55%,#1bfaff 59%,#09feff 61%,#37fff9 64%,#64ffeb 70%,#8fffd3 81%,#c8ff99)"></i><i style="left:134.2px;top:168.9px;width:74.6px;background:linear-gradient(90deg,#57a9ff,#55b5ff 35%,#4fc9ff 48%,#3ae8ff 58%,#14fcff 65%,#17fffe 66%,#36fff9 68%,#55fff1 71%,#72ffe4 75%,#97ffcd 85%,#c3ffa0)"></i><i style="left:125.1px;top:163.4px;width:76.3px;background:linear-gradient(90deg,#5899ff,#56afff 43%,#4fc8ff 58%,#31efff 70%,#1cf9ff 73%,#0ff 75%,#32fffa 76%,#56fff0 79%,#6effe7 82%,#93ffd0 90%,#b3ffb3)"></i><i style="left:120.6px;top:157.8px;width:77.1px;background:linear-gradient(90deg,#578eff,#57aaff 46%,#52c2ff 61%,#3be6ff 73%,#2df1ff 76%,#10fcff 79%,#40fff7 82%,#6bffe8 87%,#8cffd5 93%,#a8ffbe)"></i><i style="left:116.1px;top:152.3px;width:74.3px;background:linear-gradient(90deg,#5684ff,#57a7ff 51%,#51c4ff 69%,#38eaff 82%,#28f4ff 85%,#08ffff 88%,#34fffa 89%,#49fff5 91%,#6fffe6 95%,#88ffd7)"></i><i style="left:111.5px;top:146.8px;width:71.5px;background:linear-gradient(90deg,#547bff,#58a3ff 53%,#52c2ff 76%,#39e9ff 90%,#1ff8ff 95%,#0afdff 97%,#41fff7)"></i><i style="left:102.4px;top:141.3px;width:76.9px;background:linear-gradient(90deg,#506eff,#578eff 40%,#53bfff 78%,#3de5ff 93%,#2af3ff 97%,#0ffdff)"></i><i style="left:97.9px;top:135.8px;width:74px;background:linear-gradient(90deg,#4d66ff,#5276ff 26%,#5795ff 54%,#52c2ff 85%,#3be7ff)"></i><i style="left:93.3px;top:130.2px;width:74.9px;background:linear-gradient(90deg,#4a5fff,#4e68ff 22%,#557fff 45%,#55b4ff 78%,#43deff)"></i><i style="left:88.8px;top:124.7px;width:72.1px;background:linear-gradient(90deg,#4859ff,#4a5eff 22%,#5170ff 43%,#58a1ff 75%,#4cd0ff)"></i><i style="left:79.7px;top:119.2px;width:77.5px;background:linear-gradient(90deg,#4657ff,#4655ff 25%,#4d65ff 46%,#589cff 78%,#4ecbff)"></i><i style="left:75.1px;top:113.7px;width:74.6px;background:linear-gradient(90deg,#4656ff,#434fff 28%,#4859ff 48%,#5377ff 69%,#55b6ff)"></i><i style="left:70.6px;top:108.2px;width:75.5px;background:linear-gradient(90deg,#4757ff,#404bff 29%,#4451ff 50%,#506fff 71%,#57abff)"></i><i style="left:66px;top:102.6px;width:72.7px;background:linear-gradient(90deg,#485aff,#3e48ff 33%,#3f49ff 54%,#4a5fff 73%,#5793ff)"></i><i style="left:56.9px;top:97.1px;width:78.1px;background:linear-gradient(90deg,#4b61ff,#3e47ff 38%,#3d45ff 59%,#4655ff 75%,#5688ff)"></i><i style="left:52.4px;top:91.6px;width:75.3px;background:linear-gradient(90deg,#4c64ff,#3e48ff 41%,#3c44ff 61%,#4350ff 79%,#5275ff)"></i><i style="left:47.8px;top:86.1px;width:76.1px;background:linear-gradient(90deg,#4d66ff,#3c43ff 61%,#424eff 80%,#4f6cff)"></i><i style="left:43.3px;top:80.6px;width:73.3px;background:linear-gradient(90deg,#4e67ff,#3b43ff 59%,#404aff 80%,#4b60ff)"></i><i style="left:34.2px;top:75px;width:75px;background:linear-gradient(90deg,#4e68ff,#3a41ff 62%,#4758ff)"></i><i style="left:29.6px;top:69.5px;width:75.9px;background:linear-gradient(90deg,#4d66ff,#485aff 29%,#3337ff 59%,#4859ff)"></i><i style="left:25.1px;top:64px;width:73px;background:linear-gradient(90deg,#4c63ff,#4351ff 38%,#2020ff 64%,#3a40ff 80%,#4757ff)"></i><i style="left:20.5px;top:58.5px;width:73.9px;background:linear-gradient(90deg,#4a60ff,#495dff 19%,#424eff 38%,#3539ff 52%,#1312ff 69%,#3a41ff 83%,#4758ff)"></i><i style="left:11.4px;top:53px;width:75.6px;background:linear-gradient(90deg,#495bff,#4657ff 32%,#2120ff 73%,#4655ff)"></i><i style="left:6.9px;top:47.4px;width:76.5px;background:linear-gradient(90deg,#485aff,#4553ff 36%,#1b1aff 69%,#201fff 76%,#4453ff)"></i><i style="left:6.9px;top:41.9px;width:71.6px;background:linear-gradient(90deg,#4859ff,#404bff 40%,#2c2eff 52%,#00f 63%,#0303ff 77%,#2424ff 87%,#3c43ff)"></i><i style="left:6.9px;top:36.4px;width:65.8px;background:linear-gradient(90deg,#485aff,#3f49ff 40%,#2526ff 53%,#00f 58%,#00f 89%,#2829ff)"></i><i style="left:6.9px;top:30.9px;width:60.2px;background:linear-gradient(90deg,#495cff,#3c44ff 42%,#2626ff 54%,#0202ff 60%,#00f 62%,#00f)"></i><i style="left:6.9px;top:25.4px;width:54.4px;background:linear-gradient(90deg,#4a5eff,#414dff 32%,#373cff 47%,#2424ff 57%,#00f 66%,#00f)"></i><i style="left:6.9px;top:19.8px;width:48.4px;background:linear-gradient(90deg,#4a5dff,#3438ff 50%,#1f1eff 64%,#00f 74%,#00f)"></i><i style="left:6.9px;top:14.3px;width:41px;background:linear-gradient(90deg,#4859ff,#3134ff 56%,#1b1aff 75%,#00f 86%,#00f)"></i><i style="left:6.9px;top:8.8px;width:31.2px;background:linear-gradient(90deg,#4553ff,#3235ff 63%,#1a19ff)"></i><i style="left:6.9px;top:3.3px;width:17.3px;background:linear-gradient(90deg,#424dff,#3235ff)"></i></div><div class="hm" style="left:1468px;top:983px;width:243px;height:238px;clip-path:url(#cE1)"><i style="left:172px;top:225.7px;width:68px;background:linear-gradient(90deg,#f8ff34,#fbff24 22%,#fdff19 27%,#ff0 32%,#ffd900 54%,#ffb100 66%,#ff6d00 80%,#ff3e00 86%,#f00 92%,#f00)"></i><i style="left:164.7px;top:220.2px;width:74.2px;background:linear-gradient(90deg,#f7ff37,#faff2c 28%,#fcff1e 35%,#ffff07 40%,#ffe500 55%,#ffb900 68%,#f70 80%,#ff3d00 88%,#f00 92%,#f00)"></i><i style="left:157.5px;top:214.6px;width:79.1px;background:linear-gradient(90deg,#f7ff3a,#faff2e 35%,#fcff1e 43%,#fffe00 49%,#ffea00 59%,#ffce00 68%,#ffa300 77%,#ff4900 90%,#ff2800 93%,#ff0600 94%,#f00)"></i><i style="left:153.9px;top:209.1px;width:80.6px;background:linear-gradient(90deg,#f6ff3d,#f9ff2f 39%,#fcff1f 47%,#fffe00 53%,#ffed00 61%,#ffcd00 71%,#ff9800 81%,#ff4200 93%,#ff1d00 96%,#f00 97%,#f00)"></i><i style="left:146.6px;top:203.6px;width:85.2px;background:linear-gradient(90deg,#f6ff3e,#f4ff42 20%,#f8ff33 43%,#fcff20 53%,#ffff03 57%,#ffef00 65%,#ffcb00 76%,#ff8d00 86%,#ff4000 96%,#f00)"></i><i style="left:139.4px;top:198.1px;width:89.8px;background:linear-gradient(90deg,#f6ff3e,#f2ff49 23%,#f5ff41 42%,#faff2e 54%,#fcff1f 58%,#fffe00 62%,#fff900 64%,#ffdc00 74%,#ffb300 83%,#ff6f00 94%,#ff3100)"></i><i style="left:135.8px;top:192.6px;width:90.7px;background:linear-gradient(90deg,#f5ff40,#efff51 28%,#f1ff4d 43%,#f9ff2f 57%,#fdff1a 61%,#fffe00 63%,#ffe400 73%,#ffc100 82%,#ff8600 92%,#ff4b00)"></i><i style="left:128.5px;top:187px;width:95.2px;background:linear-gradient(90deg,#f5ff3f,#edff58 33%,#ecff58 46%,#f7ff39 59%,#fbff26 63%,#fffe00 66%,#ffbe00 84%,#ff9000 93%,#ff5c00)"></i><i style="left:121.3px;top:181.5px;width:99.9px;background:linear-gradient(90deg,#f5ff3f,#e9ff61 49%,#efff53 56%,#f6ff3c 62%,#fbff25 66%,#ffff05 68%,#ffb900 86%,#f60)"></i><i style="left:117.7px;top:176px;width:101.1px;background:linear-gradient(90deg,#f4ff44,#eaff5e 31%,#e7ff65 51%,#ecff5a 57%,#f5ff41 62%,#fbff28 66%,#ffff05 68%,#ffbd00 85%,#ff6900)"></i><i style="left:110.4px;top:170.5px;width:105.9px;background:linear-gradient(90deg,#f4ff44,#e7ff64 30%,#e5ff6a 53%,#eaff5f 58%,#f4ff44 63%,#fbff29 67%,#ff0 69%,#ffa800 88%,#ff6100)"></i><i style="left:103.2px;top:165px;width:110.4px;background:linear-gradient(90deg,#f6ff3e,#eaff5e 16%,#e1ff71 37%,#e1ff72 51%,#e5ff6a 57%,#edff57 62%,#f6ff3c 66%,#feff12 69%,#fffc00 70%,#ff9700 91%,#ff5d00)"></i><i style="left:99.6px;top:159.4px;width:110.8px;background:linear-gradient(90deg,#f6ff3c,#e7ff65 16%,#ddff79 37%,#ddff79 49%,#e3ff6e 57%,#ef5 63%,#faff2a 68%,#fffe00 70%,#ff5d00)"></i><i style="left:92.3px;top:153.9px;width:115px;background:linear-gradient(90deg,#f9ff30,#e2ff6f 22%,#d9ff80 37%,#d8ff81 49%,#dfff75 56%,#ecff5a 63%,#f9ff30 68%,#fcff22 69%,#ffff07 70%,#fffa00 71%,#ff5300)"></i><i style="left:85.1px;top:148.4px;width:119.1px;background:linear-gradient(90deg,#fbff25,#dfff75 26%,#d4ff88 47%,#daff7f 56%,#e5ff68 62%,#f5ff40 68%,#feff14 71%,#fffc00 72%,#ff5100)"></i><i style="left:81.5px;top:142.9px;width:118.7px;background:linear-gradient(90deg,#fbff27,#dcff7b 28%,#d1ff8d 46%,#d7ff84 55%,#e4ff6b 62%,#f4ff42 68%,#fdff18 71%,#fffd00 72%,#ff4d00)"></i><i style="left:74.2px;top:137.4px;width:121.6px;background:linear-gradient(90deg,#fdff19,#f6ff3b 8%,#e1ff72 25%,#d3ff8a 38%,#cfff90 48%,#d6ff84 58%,#e6ff68 65%,#f6ff3b 71%,#fcff1e 73%,#fffe00 74%,#ff5200)"></i><i style="left:67px;top:131.8px;width:124.7px;background:linear-gradient(90deg,#fffd00,#f9ff2f 6%,#e2ff6f 26%,#d3ff89 37%,#cdff93 48%,#d2ff8b 57%,#e2ff6f 65%,#f6ff3e 72%,#fcff23 73%,#ffff06 74%,#ff5100)"></i><i style="left:63.4px;top:126.3px;width:123.3px;background:linear-gradient(90deg,#fffb00,#ffff05 2%,#fcff1e 4%,#f8ff34 7%,#e0ff73 27%,#d1ff8c 37%,#cbff95 47%,#d2ff8c 57%,#e2ff6f 66%,#f5ff3f 72%,#fbff24 74%,#feff09 75%,#fffa00 76%,#ff5700)"></i><i style="left:56.1px;top:120.8px;width:125.1px;background:linear-gradient(90deg,#ffed00,#ff0 6%,#fcff1f 8%,#f7ff39 12%,#daff7f 32%,#cdff93 40%,#c9ff98 48%,#d0ff8f 58%,#dfff74 66%,#f2ff4a 73%,#fbff28 75%,#feff11 76%,#fffb00 77%,#ff6000)"></i><i style="left:48.9px;top:115.3px;width:126.6px;background:linear-gradient(90deg,#ffe100,#fffe00 12%,#fbff25 14%,#f7ff39 17%,#dcff7a 32%,#cbff95 40%,#c4ff9e 49%,#cdff92 59%,#e1ff71 69%,#f4ff42 76%,#faff2b 77%,#fffd00 79%,#ff7000)"></i><i style="left:45.3px;top:109.8px;width:125.4px;background:linear-gradient(90deg,#ffe000,#ff0 15%,#fcff20 16%,#f7ff39 19%,#ddff79 30%,#c5ff9e 39%,#bdffa8 47%,#caff97 59%,#e2ff70 70%,#f7ff39 77%,#fdff1b 79%,#fffe00 80%,#ff7900)"></i><i style="left:38.1px;top:104.2px;width:128.8px;background:linear-gradient(90deg,#ffe100,#ffeb00 11%,#fffd00 18%,#f7ff3a 22%,#d3ff8a 33%,#b9ffac 41%,#b0ffb6 48%,#bfffa5 58%,#dfff76 70%,#f3ff46 77%,#fbff24 80%,#feff0d 81%,#fffb00 81%,#ff7e00)"></i><i style="left:30.8px;top:98.7px;width:131.9px;background:linear-gradient(90deg,#ffe200,#fffc00 20%,#ffff04 21%,#fbff26 23%,#f4ff44 25%,#c9ff99 35%,#aeffb8 41%,#a2ffc4 49%,#b5ffb1 58%,#e3ff6d 73%,#f8ff37 80%,#fdff1b 82%,#fffe00 83%,#ff8b00)"></i><i style="left:27.2px;top:93.2px;width:129.9px;background:linear-gradient(90deg,#ffe100,#fff500 6%,#ff0 19%,#faff2a 22%,#e5ff69 28%,#bfffa5 34%,#a0ffc5 39%,#91ffd1 46%,#a8ffbe 57%,#d5ff87 69%,#f5ff41 80%,#fcff20 82%,#ffff07 83%,#fffb00 84%,#ff9800)"></i><i style="left:20px;top:87.7px;width:131.1px;background:linear-gradient(90deg,#ffc900,#fff800 10%,#ffff04 17%,#f9ff2f 23%,#eaff5f 28%,#a8ffbe 37%,#8affd6 42%,#81ffdc 46%,#9effc7 57%,#c6ff9c 68%,#efff51 80%,#f9ff31 83%,#feff13 85%,#fffd00 86%,#ffac00)"></i><i style="left:12.7px;top:82.2px;width:132.6px;background:linear-gradient(90deg,#ffb200,#fffe00 18%,#fcff21 21%,#e6ff67 29%,#a2ffc4 38%,#81ffdc 42%,#75ffe3 47%,#a1ffc4 60%,#cfff8f 72%,#f6ff3d 84%,#fdff1b 87%,#ff0 88%,#ffbd00)"></i><i style="left:9.1px;top:76.6px;width:128.4px;background:linear-gradient(90deg,#ffad00,#fffc00 19%,#f9ff30 22%,#e2ff70 29%,#a0ffc5 38%,#79ffe1 42%,#6bffe8 46%,#89ffd7 55%,#c0ffa4 71%,#f1ff4d 86%,#faff2c 89%,#fffc00 92%,#ffd500)"></i><i style="left:6.4px;top:71.1px;width:123.3px;background:linear-gradient(90deg,#ffae00,#ff0 19%,#fdff1a 19%,#f8ff33 21%,#d9ff80 30%,#a5ffc1 36%,#74ffe3 42%,#66ffea 46%,#a5ffc0 63%,#cdff92 76%,#f4ff43 90%,#fbff28 93%,#ff0 94%,#ffe600)"></i><i style="left:6.4px;top:65.6px;width:115.5px;background:linear-gradient(90deg,#ffc000,#ffff02 15%,#fdff1c 16%,#f8ff35 18%,#d5ff87 28%,#9affca 36%,#75ffe3 41%,#69ffe9 46%,#9fffc6 60%,#d7ff83 81%,#f4ff44 93%,#faff2b 96%,#fffd00 99%,#fff900)"></i><i style="left:6.4px;top:60.1px;width:107.8px;background:linear-gradient(90deg,#ffd900,#fffe00 10%,#fbff26 12%,#f6ff3c 14%,#daff7e 23%,#b5ffb1 31%,#8bffd5 37%,#75ffe3 44%,#86ffd9 52%,#ccff94 79%,#e8ff62 91%,#f9ff30)"></i><i style="left:6.4px;top:54.6px;width:101px;background:linear-gradient(90deg,#fff500,#ffff03 3%,#fdff1b 5%,#f6ff3b 8%,#daff7e 19%,#99ffcb 34%,#81ffdc 41%,#8cffd5 51%,#c0ffa4 74%,#ddff79 89%,#f2ff4a)"></i><i style="left:6.4px;top:49px;width:94.4px;background:linear-gradient(90deg,#f7ff38,#d7ff83 16%,#acffbb 29%,#87ffd8 41%,#93ffd0 52%,#b9ffac 71%,#d5ff86 87%,#ecff59)"></i><i style="left:6.4px;top:43.5px;width:87.9px;background:linear-gradient(90deg,#ebff5d,#a8ffbe 29%,#8cffd5 43%,#b0ffb6 69%,#e4ff6b)"></i><i style="left:6.4px;top:38px;width:82px;background:linear-gradient(90deg,#dfff76,#a6ffc0 28%,#8effd3 44%,#abffbb 68%,#deff78)"></i><i style="left:6.4px;top:32.5px;width:75.4px;background:linear-gradient(90deg,#d3ff89,#a2ffc3 29%,#90ffd2 47%,#a7ffbf 70%,#d4ff88)"></i><i style="left:6.4px;top:27px;width:68.1px;background:linear-gradient(90deg,#c8ff99,#a1ffc4 29%,#91ffd1 49%,#a1ffc4 71%,#c7ff9b)"></i><i style="left:6.4px;top:21.4px;width:55px;background:linear-gradient(90deg,#bfffa6,#a1ffc4 29%,#93ffd0 54%,#97ffcc 73%,#b0ffb6)"></i><i style="left:6.4px;top:15.9px;width:43.2px;background:linear-gradient(90deg,#b5ffb0,#95ffcf 57%,#9dffc8)"></i><i style="left:6.4px;top:10.4px;width:33.9px;background:linear-gradient(90deg,#adffb9,#97ffcd 55%,#96ffce)"></i><i style="left:6.4px;top:4.9px;width:25.1px;background:linear-gradient(90deg,#a7ffbf,#94ffcf)"></i></div><div class="hm" style="left:1818px;top:1010px;width:190px;height:211px;clip-path:url(#cE2)"><i style="left:167.6px;top:198.7px;width:16.7px;background:linear-gradient(90deg,#ffce00,#ff8c00)"></i><i style="left:163px;top:193.2px;width:22.7px;background:linear-gradient(90deg,#ffdc00,#ff8100)"></i><i style="left:158.1px;top:187.6px;width:28.6px;background:linear-gradient(90deg,#ffe900,#ff7100)"></i><i style="left:151.9px;top:182.1px;width:35.1px;background:linear-gradient(90deg,#fff900,#ffb600 53%,#ff6d00)"></i><i style="left:145.8px;top:176.6px;width:41.5px;background:linear-gradient(90deg,#faff2a,#fffd00 8%,#ffa300 67%,#ff6000)"></i><i style="left:139.7px;top:171.1px;width:47.6px;background:linear-gradient(90deg,#f2ff49,#faff2a 10%,#fffc00 17%,#ff9d00 71%,#ff5700)"></i><i style="left:133.6px;top:165.6px;width:53.8px;background:linear-gradient(90deg,#eaff5e,#f8ff33 15%,#fffc00 23%,#ff9000 74%,#ff4200)"></i><i style="left:127.4px;top:160px;width:59.5px;background:linear-gradient(90deg,#e3ff6e,#f6ff3b 19%,#faff2a 23%,#fffc00 29%,#ff8700 77%,#f50 92%,#ff2e00)"></i><i style="left:121.3px;top:154.5px;width:65.1px;background:linear-gradient(90deg,#dcff7a,#f4ff42 23%,#faff2a 28%,#fffc00 33%,#ffe300 44%,#ff9f00 68%,#ff6400 86%,#ff2f00 96%,#ff1f00 98%,#ff0100)"></i><i style="left:115.2px;top:149px;width:69.5px;background:linear-gradient(90deg,#d8ff82,#f1ff4e 25%,#f8ff34 31%,#fffd00 38%,#fff800 39%,#ffb100 64%,#ff6b00 84%,#ff3a00 93%,#ff1e00 97%,#f00 98%,#f00)"></i><i style="left:109.1px;top:143.5px;width:73.5px;background:linear-gradient(90deg,#d6ff85,#e4ff6c 17%,#f1ff4d 30%,#faff2a 38%,#fffd00 42%,#ffbf00 62%,#ff7200 83%,#ff4300 92%,#ff2b00 95%,#f00 98%,#f00)"></i><i style="left:102.5px;top:138px;width:78px;background:linear-gradient(90deg,#d6ff85,#e3ff6e 19%,#efff51 32%,#faff2d 41%,#fffe00 46%,#ffcb00 62%,#ff7c00 81%,#ff3a00 93%,#ff1b00 96%,#f00 97%,#f00)"></i><i style="left:96.4px;top:132.4px;width:81.8px;background:linear-gradient(90deg,#d9ff7f,#e4ff6b 21%,#eeff54 34%,#f9ff31 44%,#fffc00 49%,#ffc800 65%,#ff8300 80%,#ff4000 92%,#ff2500 94%,#ff0a00 96%,#f00 97%,#f00)"></i><i style="left:89.8px;top:126.9px;width:85.9px;background:linear-gradient(90deg,#ddff79,#e8ff62 25%,#f0ff4f 37%,#faff2c 47%,#fdff17 49%,#ff0 51%,#ffd600 63%,#f90 76%,#ff4900 89%,#ff2000 93%,#f00 95%,#f00)"></i><i style="left:83.7px;top:121.4px;width:88.4px;background:linear-gradient(90deg,#e1ff71,#f3ff47 40%,#fbff28 49%,#fffe00 53%,#ffdc00 64%,#ffa400 75%,#ff4a00 90%,#ff2000 94%,#f00 95%,#f00)"></i><i style="left:78.6px;top:115.9px;width:90.2px;background:linear-gradient(90deg,#e5ff6a,#f6ff3c 42%,#fcff23 49%,#fffe00 53%,#fff800 56%,#ffd000 67%,#ff8100 81%,#ff3d00 90%,#ff1b00 92%,#f00 94%,#f00)"></i><i style="left:73px;top:110.4px;width:92.5px;background:linear-gradient(90deg,#e7ff65,#f6ff3b 26%,#faff2b 43%,#fdff1d 48%,#ff0 52%,#fff200 58%,#ffc900 69%,#ff8e00 79%,#ff3d00 89%,#f00 93%,#f00)"></i><i style="left:67.9px;top:104.8px;width:94.3px;background:linear-gradient(90deg,#e9ff62,#feff11 43%,#ff0 48%,#ffeb00 60%,#ffc200 71%,#ff8600 80%,#ff3600 89%,#ff2300 90%,#f00 91%,#f00)"></i><i style="left:62.8px;top:99.3px;width:96.1px;background:linear-gradient(90deg,#e9ff60,#f9ff31 21%,#ff0 36%,#fff700 50%,#ffe800 60%,#ffc000 70%,#ff7e00 81%,#ff3a00 88%,#ff2700 89%,#ff0200 90%,#f00)"></i><i style="left:57.2px;top:93.8px;width:95.1px;background:linear-gradient(90deg,#e9ff60,#f9ff31 22%,#fffe00 34%,#fff300 53%,#ffe300 63%,#ffc000 72%,#ff7900 84%,#ff3800 92%,#ff2500 93%,#f00 94%,#f00)"></i><i style="left:51.6px;top:88.3px;width:93.4px;background:linear-gradient(90deg,#e9ff60,#faff2d 24%,#fffe00 35%,#ffef00 56%,#ffdf00 66%,#ffc000 74%,#ff7900 87%,#ff3f00 94%,#ff3000 95%,#f00 98%,#f00)"></i><i style="left:46px;top:82.8px;width:92.4px;background:linear-gradient(90deg,#e9ff60,#faff2d 26%,#fdff1a 32%,#ff0 37%,#ffec00 59%,#ffdb00 69%,#ffb500 79%,#ff5e00 93%,#ff3400 98%,#ff2300 99%,#ff0100)"></i><i style="left:40.4px;top:77.2px;width:91.4px;background:linear-gradient(90deg,#e9ff60,#faff2a 28%,#fdff17 34%,#ffff02 38%,#fd0 70%,#ffc900 77%,#ffad00 84%,#ff7e00 91%,#ff3a00)"></i><i style="left:35.1px;top:71.7px;width:90px;background:linear-gradient(90deg,#e9ff60,#fbff27 28%,#fffe00 38%,#ffe000 70%,#ffb700 85%,#ff9100 92%,#ff5f00)"></i><i style="left:29.6px;top:66.2px;width:89.4px;background:linear-gradient(90deg,#e9ff62,#f9ff2e 24%,#fffe00 37%,#ffd300 78%,#ffb100 90%,#ff7f00)"></i><i style="left:23.5px;top:60.7px;width:90.1px;background:linear-gradient(90deg,#e7ff64,#f8ff36 23%,#fdff1c 30%,#ff0 35%,#ffd400 77%,#ffba00 89%,#ff8c00)"></i><i style="left:18px;top:55.2px;width:89.5px;background:linear-gradient(90deg,#e8ff64,#f7ff39 24%,#fcff1d 32%,#ffff01 36%,#ffd500 77%,#ffbc00 90%,#ff9c00)"></i><i style="left:12.6px;top:49.6px;width:88.9px;background:linear-gradient(90deg,#e9ff60,#f7ff3a 27%,#fcff21 35%,#fffe00 40%,#ffd000 79%,#ffa100)"></i><i style="left:6.9px;top:44.1px;width:87.3px;background:linear-gradient(90deg,#ecff59,#f7ff37 32%,#fcff22 39%,#ff0 45%,#ffcf00 82%,#ffab00)"></i><i style="left:6.9px;top:38.6px;width:79.5px;background:linear-gradient(90deg,#f2ff4a,#f9ff2f 33%,#fcff1f 41%,#fffe00 46%,#ffb300)"></i><i style="left:6.9px;top:33.1px;width:72.3px;background:linear-gradient(90deg,#f8ff34,#fcff1f 35%,#feff12 41%,#ffff01 44%,#ffb600)"></i><i style="left:6.9px;top:27.6px;width:64.4px;background:linear-gradient(90deg,#feff08,#ff0 5%,#fff600 50%,#ffbc00)"></i><i style="left:6.9px;top:22px;width:52.9px;background:linear-gradient(90deg,#fff300,#ffeb00 57%,#ffc800)"></i><i style="left:6.9px;top:16.5px;width:40.2px;background:linear-gradient(90deg,#ffe500,#ffdf00 63%,#ffd000)"></i><i style="left:6.9px;top:11px;width:29.2px;background:linear-gradient(90deg,#ffd600,#ffcd00)"></i><i style="left:6.9px;top:5.5px;width:19.1px;background:linear-gradient(90deg,#ffc900,#ffc300)"></i></div><div class="hm" style="left:48px;top:1386px;width:281px;height:262px;clip-path:url(#cF0)"><i style="left:216px;top:250px;width:62.6px;background:linear-gradient(90deg,#ff3f00,#ff7a00 38%,#ffb800)"></i><i style="left:211.4px;top:244.5px;width:66.2px;background:linear-gradient(90deg,#ff4200,#ff8200 41%,#ffc100)"></i><i style="left:206.9px;top:239px;width:68.1px;background:linear-gradient(90deg,#ff4600,#ff8a00 46%,#ffc700)"></i><i style="left:202.3px;top:233.5px;width:69.4px;background:linear-gradient(90deg,#ff4c00,#f90 52%,#ffd000)"></i><i style="left:193.2px;top:228px;width:75.3px;background:linear-gradient(90deg,#ff4a00,#ffa800 62%,#ffd700)"></i><i style="left:188.7px;top:222.5px;width:75.9px;background:linear-gradient(90deg,#ff5400,#fd0)"></i><i style="left:184.1px;top:217px;width:76.2px;background:linear-gradient(90deg,#ff5e00,#ffbc00 64%,#ffe600)"></i><i style="left:179.6px;top:211.5px;width:73.4px;background:linear-gradient(90deg,#ff6900,#ff8700 27%,#ffc700 67%,#ffea00)"></i><i style="left:170.5px;top:206px;width:75.1px;background:linear-gradient(90deg,#ff6e00,#ff8e00 30%,#ffcf00 68%,#fff100)"></i><i style="left:165.9px;top:200.5px;width:76px;background:linear-gradient(90deg,#ff7800,#ff9800 32%,#ffdf00 71%,#fffc00)"></i><i style="left:161.4px;top:195.1px;width:73.2px;background:linear-gradient(90deg,#ff8100,#ffa400 36%,#ffec00 77%,#ff0 94%,#fcff1d)"></i><i style="left:156.8px;top:189.6px;width:74px;background:linear-gradient(90deg,#ff8900,#ffb000 40%,#fffd00 85%,#fcff20 91%,#f7ff37)"></i><i style="left:147.7px;top:184.1px;width:75.7px;background:linear-gradient(90deg,#ff8e00,#ffb000 42%,#fffe00 89%,#fcff21 94%,#f8ff36)"></i><i style="left:143.2px;top:178.6px;width:76.6px;background:linear-gradient(90deg,#ff9500,#ffb300 42%,#ff0 90%,#fcff1d 93%,#f6ff3b)"></i><i style="left:138.6px;top:173.1px;width:73.8px;background:linear-gradient(90deg,#ff9b00,#ffb600 44%,#fffd00 94%,#ffff01 95%,#fbff26)"></i><i style="left:134.1px;top:167.6px;width:74.6px;background:linear-gradient(90deg,#ff9f00,#ffba00 46%,#ff0 95%,#fcff24)"></i><i style="left:125px;top:162.1px;width:76.3px;background:linear-gradient(90deg,#ff9e00,#ffba00 51%,#fffd00)"></i><i style="left:120.4px;top:156.6px;width:77.2px;background:linear-gradient(90deg,#ffa000,#ffb700 49%,#fff900)"></i><i style="left:115.8px;top:151.1px;width:74.4px;background:linear-gradient(90deg,#ffa100,#ffb000 45%,#fff000)"></i><i style="left:111.3px;top:145.6px;width:71.5px;background:linear-gradient(90deg,#ffa000,#ffae00 48%,#ffe500)"></i><i style="left:102.2px;top:140.1px;width:76.9px;background:linear-gradient(90deg,#ff9b00,#ffb200 57%,#ffe300)"></i><i style="left:97.6px;top:134.6px;width:74.1px;background:linear-gradient(90deg,#f90,#ffb300 62%,#ffdb00)"></i><i style="left:93.1px;top:129.1px;width:75px;background:linear-gradient(90deg,#ff9700,#ffb100 62%,#ffd700)"></i><i style="left:88.5px;top:123.6px;width:72.1px;background:linear-gradient(90deg,#ff9400,#ffa400 46%,#ffd000)"></i><i style="left:79.4px;top:118.1px;width:77.5px;background:linear-gradient(90deg,#ff8c00,#ffa400 53%,#ffce00)"></i><i style="left:74.9px;top:112.6px;width:74.7px;background:linear-gradient(90deg,#f80,#ffa400 58%,#ffc600)"></i><i style="left:70.3px;top:107.1px;width:75.6px;background:linear-gradient(90deg,#ff8400,#ffa500 62%,#ffc500)"></i><i style="left:65.8px;top:101.6px;width:72.7px;background:linear-gradient(90deg,#ff8000,#ffbe00)"></i><i style="left:56.7px;top:96.1px;width:78.2px;background:linear-gradient(90deg,#ff7600,#ffbe00)"></i><i style="left:52.1px;top:90.7px;width:75.3px;background:linear-gradient(90deg,#ff7200,#ffb900)"></i><i style="left:47.6px;top:85.2px;width:76.2px;background:linear-gradient(90deg,#ff6c00,#f80 27%,#ffb800)"></i><i style="left:43px;top:79.7px;width:73.3px;background:linear-gradient(90deg,#f60,#ff8700 31%,#ffb400)"></i><i style="left:33.9px;top:74.2px;width:75.1px;background:linear-gradient(90deg,#f50,#ff8400 37%,#ffb000)"></i><i style="left:29.4px;top:68.7px;width:75.9px;background:linear-gradient(90deg,#ff4b00,#ff8300 39%,#ffb000)"></i><i style="left:24.8px;top:63.2px;width:73.1px;background:linear-gradient(90deg,#ff4000,#ff7f00 42%,#ffad00)"></i><i style="left:20.3px;top:57.7px;width:73.9px;background:linear-gradient(90deg,#ff3100,#f50 17%,#ff7900 42%,#ffab00)"></i><i style="left:11.2px;top:52.2px;width:75.7px;background:linear-gradient(90deg,#f00,#f00 2%,#ff1d00 6%,#ff3200 12%,#ff5b00 32%,#ff8900 65%,#ffa800)"></i><i style="left:6.6px;top:46.7px;width:76.5px;background:linear-gradient(90deg,#f00,#f00 7%,#ff1700 10%,#ff2e00 16%,#ff5e00 39%,#ff8a00 70%,#ffa700)"></i><i style="left:6.6px;top:41.2px;width:71.7px;background:linear-gradient(90deg,#f00,#ff0100 8%,#ff1800 11%,#ff2a00 16%,#ff5900 39%,#ffa300)"></i><i style="left:6.6px;top:35.7px;width:65.9px;background:linear-gradient(90deg,#f00,#f00 7%,#ff2b00 18%,#ff5400 39%,#ff9d00)"></i><i style="left:6.6px;top:30.2px;width:60.3px;background:linear-gradient(90deg,#f00,#f00 8%,#ff2700 17%,#ff4c00 37%,#ff9600)"></i><i style="left:6.6px;top:24.7px;width:54.5px;background:linear-gradient(90deg,#f00,#ff0200 9%,#ff2500 17%,#ff4700 36%,#ff8e00)"></i><i style="left:6.6px;top:19.2px;width:48.4px;background:linear-gradient(90deg,#f00,#f00 7%,#ff2300 17%,#ff4300 36%,#ff8500)"></i><i style="left:6.6px;top:13.7px;width:41px;background:linear-gradient(90deg,#f00,#f00 6%,#f20 17%,#ff3b00 33%,#ff7a00)"></i><i style="left:6.6px;top:8.2px;width:31.3px;background:linear-gradient(90deg,#f00,#ff3400 33%,#ff6800)"></i><i style="left:6.6px;top:2.7px;width:17.3px;background:linear-gradient(90deg,#f00,#ff1600 13%,#ff2800 33%,#ff4c00)"></i></div><div class="hm" style="left:398px;top:1411px;width:243px;height:237px;clip-path:url(#cF1)"><i style="left:172.4px;top:225px;width:68px;background:linear-gradient(90deg,#caff97,#c6ff9d 31%,#b5ffb1 56%,#91ffd1 81%,#62ffec)"></i><i style="left:165.2px;top:219.5px;width:74.3px;background:linear-gradient(90deg,#c9ff98,#c7ff9b 34%,#b6ffb0 58%,#8dffd4 83%,#57fff0)"></i><i style="left:157.9px;top:214px;width:79.2px;background:linear-gradient(90deg,#c9ff99,#c8ff99 36%,#bcffa9 58%,#92ffd0 83%,#58fff0)"></i><i style="left:154.3px;top:208.5px;width:80.6px;background:linear-gradient(90deg,#c9ff98,#c8ff9a 39%,#bfa 60%,#8fffd3 84%,#57fff0)"></i><i style="left:147.1px;top:203px;width:85.3px;background:linear-gradient(90deg,#c9ff99,#c8ff99 39%,#bfa 62%,#92ffd0 84%,#74ffe3 93%,#54fff1)"></i><i style="left:139.8px;top:197.5px;width:89.9px;background:linear-gradient(90deg,#c8ff99,#caff97 37%,#b9ffac 64%,#8dffd4 86%,#71ffe5 94%,#4efff3)"></i><i style="left:136.2px;top:192px;width:90.8px;background:linear-gradient(90deg,#c8ff99,#cbff95 38%,#b7ffae 65%,#88ffd8 86%,#63ffeb 95%,#41fff7)"></i><i style="left:129px;top:186.5px;width:95.3px;background:linear-gradient(90deg,#c9ff99,#cdff93 40%,#b8ffad 65%,#a0ffc5 77%,#7effde 88%,#59ffef 95%,#2dfffb)"></i><i style="left:121.7px;top:181px;width:100px;background:linear-gradient(90deg,#caff97,#cfff90 44%,#b8ffae 67%,#99ffcb 79%,#70ffe6 90%,#40fff7 97%,#08feff)"></i><i style="left:118.1px;top:175.5px;width:101.1px;background:linear-gradient(90deg,#ccff95,#d1ff8c 42%,#c1ffa3 62%,#a3ffc2 75%,#77ffe2 86%,#4afff5 93%,#0dfdff 98%,#24f6ff)"></i><i style="left:110.8px;top:170.1px;width:106px;background:linear-gradient(90deg,#cdff93,#d4ff89 43%,#c8ff9a 60%,#acffba 72%,#80ffdd 83%,#55fff1 89%,#2efffb 92%,#14fffe 94%,#10fdff 95%,#26f5ff 97%,#36ebff)"></i><i style="left:103.6px;top:164.6px;width:110.4px;background:linear-gradient(90deg,#cdff93,#d6ff84 42%,#cbff95 61%,#b0ffb6 72%,#7fffdd 82%,#4cfff4 89%,#2efffb 91%,#0ffffe 92%,#2ef1ff 96%,#3fe2ff)"></i><i style="left:100px;top:159.1px;width:110.9px;background:linear-gradient(90deg,#ceff92,#d9ff80 40%,#ceff91 61%,#b3ffb3 72%,#85ffda 81%,#4ffff3 88%,#2dfffb 90%,#05ffff 91%,#2bf3ff 94%,#45dcff)"></i><i style="left:92.7px;top:153.6px;width:115.1px;background:linear-gradient(90deg,#cdff93,#dcff7b 40%,#d1ff8c 60%,#b9ffac 71%,#8effd3 80%,#59fff0 86%,#39fff9 88%,#1dfffd 89%,#12fcff 90%,#32eeff 93%,#4bd2ff)"></i><i style="left:85.5px;top:148.1px;width:119.2px;background:linear-gradient(90deg,#ccff93,#deff78 41%,#d5ff87 61%,#bbffa9 72%,#92ffd1 81%,#5dffee 87%,#12fcff 90%,#35ecff 93%,#4dceff)"></i><i style="left:81.9px;top:142.6px;width:118.8px;background:linear-gradient(90deg,#ceff92,#dfff75 42%,#d7ff84 61%,#bdffa8 72%,#8dffd4 82%,#53fff2 87%,#2afffb 89%,#0afdff 90%,#20f8ff 91%,#33edff 93%,#4ecbff)"></i><i style="left:74.6px;top:137.1px;width:121.7px;background:linear-gradient(90deg,#d0ff8f,#d2ff8c 18%,#e0ff73 46%,#d8ff81 62%,#bfffa5 74%,#8effd3 83%,#57fff0 89%,#33fffa 91%,#07ffff 92%,#31efff 94%,#4cd0ff)"></i><i style="left:67.4px;top:131.6px;width:124.9px;background:linear-gradient(90deg,#d4ff88,#d3ff8a 23%,#e1ff72 50%,#d8ff82 64%,#c0ffa4 74%,#8effd3 83%,#57fff0 89%,#34fffa 91%,#0dfffe 92%,#37eaff 95%,#4bd1ff)"></i><i style="left:63.7px;top:126.1px;width:123.4px;background:linear-gradient(90deg,#d8ff81,#d5ff86 27%,#e1ff71 52%,#d8ff81 65%,#c0ffa4 75%,#92ffd0 83%,#50fff3 90%,#0cfdff 93%,#1ff8ff 94%,#3ef 95%,#49d5ff)"></i><i style="left:56.5px;top:120.6px;width:125.3px;background:linear-gradient(90deg,#deff77,#d8ff81 33%,#e2ff70 55%,#d9ff7f 66%,#c0ffa3 76%,#9affca 84%,#58fff0 90%,#36fff9 92%,#15fffe 93%,#16fbff 94%,#35ecff 96%,#47d8ff)"></i><i style="left:49.2px;top:115.1px;width:126.7px;background:linear-gradient(90deg,#e5ff6a,#deff77 38%,#e2ff6f 58%,#d9ff80 69%,#beffa7 79%,#95ffce 86%,#5effee 92%,#3dfff8 94%,#1ffffd 95%,#13fcff 95%,#2ef1ff 97%,#40e1ff)"></i><i style="left:45.6px;top:109.6px;width:125.5px;background:linear-gradient(90deg,#eaff5d,#e3ff6e 59%,#d8ff82 71%,#bdffa7 80%,#8effd3 88%,#53fff2 94%,#42fff7 95%,#0dfdff 96%,#21f7ff 97%,#3be7ff)"></i><i style="left:38.4px;top:104.1px;width:128.9px;background:linear-gradient(90deg,#f0ff4f,#eeff54 34%,#e3ff6e 63%,#d9ff80 72%,#bdffa7 81%,#86ffd9 89%,#53fff1 94%,#2cfffb 96%,#07feff 96%,#1ef9ff 97%,#39e9ff)"></i><i style="left:31.1px;top:98.6px;width:132px;background:linear-gradient(90deg,#f4ff43,#f6ff3e 37%,#d7ff83 74%,#c1ffa3 81%,#87ffd8 90%,#4dfff4 95%,#0ffdff 97%,#33edff)"></i><i style="left:27.5px;top:93.1px;width:130px;background:linear-gradient(90deg,#f7ff38,#fcff21 38%,#d6ff85 75%,#bbffa9 82%,#7dffdf 90%,#4cfff4 95%,#3cfff8 96%,#09feff 97%,#1df9ff 98%,#30f0ff)"></i><i style="left:20.3px;top:87.6px;width:131.2px;background:linear-gradient(90deg,#f9ff33,#ff0 30%,#ff0 44%,#f6ff3d 55%,#d9ff7f 74%,#c0ffa4 83%,#a7ffbe 88%,#78ffe1 93%,#4afff5 97%,#10fcff 99%,#20f8ff)"></i><i style="left:13px;top:82.1px;width:132.7px;background:linear-gradient(90deg,#faff2e,#ff0 19%,#ff0 52%,#fcff20 55%,#f6ff3d 60%,#dbff7c 75%,#bfa 86%,#83ffdb 95%,#5affef 98%,#3afff9)"></i><i style="left:9.4px;top:76.6px;width:128.5px;background:linear-gradient(90deg,#fcff21,#fdff18 6%,#ff0 12%,#fff800 46%,#fffe00 56%,#f7ff3a 64%,#ceff91 83%,#abffbb 93%,#7bffdf)"></i><i style="left:6.7px;top:71.1px;width:123.4px;background:linear-gradient(90deg,#fffe00,#fff700 50%,#fffe00 60%,#f9ff31 67%,#dcff7b 81%,#b8ffad 93%,#97ffcd)"></i><i style="left:6.7px;top:65.7px;width:115.6px;background:linear-gradient(90deg,#fff300,#fff600 53%,#fffe00 64%,#fcff24 68%,#f5ff40 73%,#d9ff81 87%,#aeffb8)"></i><i style="left:6.7px;top:60.2px;width:107.9px;background:linear-gradient(90deg,#ffe600,#ffe800 22%,#ff0 68%,#fcff1e 71%,#f6ff3c 77%,#c3ffa0)"></i><i style="left:6.7px;top:54.7px;width:101.1px;background:linear-gradient(90deg,#ffd800,#ffdc00 22%,#fffe00 70%,#f8ff34 78%,#d2ff8b)"></i><i style="left:6.7px;top:49.2px;width:94.5px;background:linear-gradient(90deg,#ffca00,#ffd100 23%,#fffe00 72%,#f9ff32 81%,#dcff7a)"></i><i style="left:6.7px;top:43.7px;width:88px;background:linear-gradient(90deg,#ffbc00,#ffc700 26%,#ff0 77%,#fdff17 79%,#faff2b 83%,#e6ff66)"></i><i style="left:6.7px;top:38.2px;width:82px;background:linear-gradient(90deg,#ffaf00,#ffbd00 28%,#fffe00 79%,#faff2a 86%,#edff57)"></i><i style="left:6.7px;top:32.7px;width:75.5px;background:linear-gradient(90deg,#ffa300,#ffb200 29%,#fffd00 85%,#fbff25 91%,#f4ff44)"></i><i style="left:6.7px;top:27.2px;width:68.2px;background:linear-gradient(90deg,#ff9700,#ffa800 31%,#fffd00 95%,#fcff20)"></i><i style="left:6.7px;top:21.7px;width:55.1px;background:linear-gradient(90deg,#ff8d00,#ff9e00 33%,#ffe900)"></i><i style="left:6.7px;top:16.2px;width:43.2px;background:linear-gradient(90deg,#ff8500,#f90 41%,#ffcb00)"></i><i style="left:6.7px;top:10.7px;width:33.9px;background:linear-gradient(90deg,#ff7e00,#ffb500)"></i><i style="left:6.7px;top:5.2px;width:25.1px;background:linear-gradient(90deg,#ff7800,#ffa200)"></i></div><div class="hm" style="left:748px;top:1438px;width:190px;height:210px;clip-path:url(#cF2)"><i style="left:167.6px;top:198px;width:16.7px;background:linear-gradient(90deg,#4b61ff,#383dff)"></i><i style="left:163px;top:192.5px;width:22.7px;background:linear-gradient(90deg,#4d67ff,#3336ff)"></i><i style="left:158.1px;top:187px;width:28.6px;background:linear-gradient(90deg,#506dff,#404aff 60%,#292aff)"></i><i style="left:152px;top:181.5px;width:35.1px;background:linear-gradient(90deg,#5276ff,#404bff 60%,#2525ff)"></i><i style="left:145.8px;top:176px;width:41.5px;background:linear-gradient(90deg,#5582ff,#3e47ff 64%,#1a19ff)"></i><i style="left:139.7px;top:170.5px;width:47.7px;background:linear-gradient(90deg,#5790ff,#3f49ff 63%,#2829ff 88%,#1110ff)"></i><i style="left:133.6px;top:165px;width:53.8px;background:linear-gradient(90deg,#58a0ff,#5276ff 34%,#3f49ff 64%,#2424ff 87%,#00f)"></i><i style="left:127.4px;top:159.5px;width:59.5px;background:linear-gradient(90deg,#56b0ff,#5584ff 35%,#4a5eff 56%,#2b2cff 83%,#1b1bff 90%,#0404ff 96%,#00f)"></i><i style="left:121.3px;top:154px;width:65.1px;background:linear-gradient(90deg,#53bdff,#578eff 37%,#4e69ff 56%,#2d2fff 82%,#1918ff 91%,#00f 96%,#00f)"></i><i style="left:115.2px;top:148.5px;width:69.5px;background:linear-gradient(90deg,#4fc9ff,#5896ff 39%,#4f6cff 61%,#2e30ff 85%,#00f)"></i><i style="left:109.1px;top:143.1px;width:73.5px;background:linear-gradient(90deg,#4ad4ff,#57a8ff 34%,#5275ff 62%,#3236ff 87%,#1e1eff 95%,#0505ff)"></i><i style="left:102.4px;top:137.6px;width:78px;background:linear-gradient(90deg,#43deff,#56b4ff 32%,#547dff 63%,#3d45ff 85%,#1413ff)"></i><i style="left:96.3px;top:132.1px;width:81.8px;background:linear-gradient(90deg,#3be7ff,#53beff 31%,#568aff 61%,#4554ff 83%,#2020ff)"></i><i style="left:89.7px;top:126.6px;width:86px;background:linear-gradient(90deg,#31efff,#4fc9ff 29%,#5795ff 57%,#4a5eff 81%,#2526ff)"></i><i style="left:83.6px;top:121.1px;width:88.4px;background:linear-gradient(90deg,#25f6ff,#4ad4ff 29%,#58a2ff 55%,#4d67ff 81%,#2e31ff)"></i><i style="left:78.5px;top:115.6px;width:90.3px;background:linear-gradient(90deg,#16fbff,#3de5ff 22%,#57acff 52%,#506eff 78%,#3235ff)"></i><i style="left:72.9px;top:110.1px;width:92.6px;background:linear-gradient(90deg,#1cfffd,#04feff 2%,#1bfaff 7%,#2ff0ff 17%,#49d5ff 37%,#57aaff 56%,#5170ff 79%,#353aff)"></i><i style="left:67.9px;top:104.6px;width:94.4px;background:linear-gradient(90deg,#3cfff8,#20fffd 5%,#01ffff 7%,#18faff 12%,#26f5ff 18%,#43deff 37%,#55b6ff 54%,#5379ff 77%,#3940ff)"></i><i style="left:62.8px;top:99.1px;width:96.2px;background:linear-gradient(90deg,#54fff1,#2efffb 8%,#02ffff 13%,#1bfaff 19%,#3be7ff 36%,#55b6ff 56%,#5378ff 77%,#3b42ff)"></i><i style="left:57.2px;top:93.6px;width:95.1px;background:linear-gradient(90deg,#6dffe7,#39fff9 13%,#21fffd 17%,#01ffff 19%,#16fbff 24%,#36ebff 40%,#54bcff 59%,#568aff 75%,#424eff)"></i><i style="left:51.5px;top:88.1px;width:93.5px;background:linear-gradient(90deg,#84ffda,#49fff5 18%,#22fffd 24%,#04ffff 27%,#3ef 45%,#52c1ff 63%,#5792ff 78%,#485aff)"></i><i style="left:45.9px;top:82.6px;width:92.5px;background:linear-gradient(90deg,#98ffcc,#7fffdd 12%,#5dffee 23%,#29fffc 35%,#05ffff 38%,#35ecff 53%,#50c7ff 68%,#5899ff 83%,#4e6aff)"></i><i style="left:40.3px;top:77.1px;width:91.5px;background:linear-gradient(90deg,#a8ffbe,#8dffd4 18%,#6affe8 31%,#39fff9 44%,#07feff 50%,#2cf2ff 58%,#4ad4ff 70%,#57acff 84%,#547dff)"></i><i style="left:35px;top:71.6px;width:90.1px;background:linear-gradient(90deg,#b5ffb1,#9affca 23%,#6effe7 42%,#3ffff7 53%,#1dfffd 57%,#01ffff 58%,#26f5ff 63%,#43deff 73%,#54bbff 86%,#5793ff)"></i><i style="left:29.6px;top:66.1px;width:89.5px;background:linear-gradient(90deg,#c1ffa3,#a7ffbe 28%,#7fffdd 47%,#47fff5 62%,#24fffc 65%,#07ffff 67%,#28f4ff 72%,#3de5ff 78%,#57aaff)"></i><i style="left:23.4px;top:60.6px;width:90.2px;background:linear-gradient(90deg,#cdff92,#b4ffb2 33%,#90ffd2 52%,#6fffe6 62%,#50fff3 68%,#30fffb 72%,#06feff 75%,#20f8ff 77%,#36ebff 82%,#54bcff)"></i><i style="left:18px;top:55.1px;width:89.6px;background:linear-gradient(90deg,#d9ff81,#beffa7 38%,#9bffc9 58%,#7cffdf 68%,#59ffef 76%,#3efff8 79%,#09feff 83%,#2ef0ff 88%,#4bd2ff)"></i><i style="left:12.5px;top:49.6px;width:89px;background:linear-gradient(90deg,#e3ff6e,#c3ffa0 45%,#a7ffbf 62%,#87ffd8 73%,#61ffec 82%,#3dfff8 87%,#0cfdff 91%,#23f6ff 94%,#3ce6ff)"></i><i style="left:6.8px;top:44.1px;width:87.4px;background:linear-gradient(90deg,#ecff5a,#c9ff98 50%,#aeffb8 68%,#8cffd5 82%,#69ffe9 91%,#3efff8 97%,#19fffe)"></i><i style="left:6.8px;top:38.7px;width:79.6px;background:linear-gradient(90deg,#f0ff4e,#c2ffa2 64%,#9effc7 84%,#6fffe6)"></i><i style="left:6.8px;top:33.2px;width:72.3px;background:linear-gradient(90deg,#f4ff42,#d0ff8e 57%,#b0ffb6 83%,#8fffd3)"></i><i style="left:6.8px;top:27.7px;width:64.5px;background:linear-gradient(90deg,#f9ff33,#dcff7b 54%,#a8ffbe)"></i><i style="left:6.8px;top:22.2px;width:53px;background:linear-gradient(90deg,#fdff1d,#e9ff61 50%,#c2ffa2)"></i><i style="left:6.8px;top:16.7px;width:40.2px;background:linear-gradient(90deg,#fffc00,#ff0 9%,#f9ff32 34%,#daff7d)"></i><i style="left:6.8px;top:11.2px;width:29.2px;background:linear-gradient(90deg,#fff200,#ff0 36%,#fbff28 56%,#edff56)"></i><i style="left:6.8px;top:5.7px;width:19.2px;background:linear-gradient(90deg,#ffeb00,#fffe00 75%,#fcff23)"></i></div><svg xmlns="http://www.w3.org/2000/svg" width="2120" height="1683" viewBox="0 0 2120 1683"><defs><path id="s5" d="M0 22.5H.75V22.25H1.25V22H2V21.75H2.5V21.5H3V21.25H3.25V21H3.75V20.75H4V20.5H4.25V20.25H4.5V20H4.75V19.75H5V19.5H5.25V19.25H5.5V19H5.75V18.75H6V18.5H6.25V18.25H6.5V18H6.75V17.75H7V17.5H7.25V17.25H7.5V17H7.75V16.75H8V16.5H8.25V16.25H8.5V16H8.75V15.75H9V15.5H9.25V15.25H9.5V15H9.75V14.75H10V14.5H10.25V14.25H10.5V14H10.75V13.75H11V13.5H11.25V13.25H11.5V13H11.75V12.75H12V12.5H12.25V12.25H12.5V12H12.75V11.75H13V11.5H13.25V11.25H13.5V11H13.75V10.75H14V10.5H14.25V10.25H14.5V10H14.75V9.75H15V9.5H15.25V9.25H15.5V9H15.75V8.75H16V8.5H16.25V8.25H16.5V8H16.75V7.75H17V7.5H17.25V7.25H17.5V7H17.75V6.75H18V6.5H18.25V6.25H18.5V6H18.75V5.75H19V5.5H19.25V5.25H19.5V5H19.75V4.75H20V4.5H20.25V4.25H20.5V4H20.75V3.75H21V3.5H21.25V3.25H21.5V3H21.75V2.75H22V2.5H22.25V2.25H22.25V2H22.5V1.75H22.75V1.5H22.75V1.25H23V1H23V.75H23.25V.5H23.25V.25H23.5V0H19.5V.25H19.25V.5H19V.75H18.75V1H18.5V1.25H18.25V1.5H18V1.75H17.75V2H17.5V2.25H17.25V2.5H17V2.75H16.75V3H16.5V3.25H16.25V3.5H16V3.75H15.75V4H15.5V4.25H15.25V4.5H15V4.75H14.75V5H14.5V5.25H14.25V5.5H14V5.75H13.75V6H13.5V6.25H13.25V6.5H13V6.75H12.75V7H12.5V7.25H12.25V7.5H12V7.75H11.75V8H11.5V8.25H11.25V8.5H11V8.75H10.75V9H10.5V9.25H10.25V9.5H10V9.75H9.75V10H9.5V10.25H9.25V10.5H9V10.75H8.75V11H8.5V11.25H8.25V11.5H8V11.75H7.75V12H7.5V12.25H7.25V12.5H7V12.75H6.75V13H6.5V13.25H6.25V13.5H6V13.75H5.75V14H5.5V14.25H5.25V14.5H5V14.75H4.75V15H4.5V15.25H4.25V15.5H4V15.75H3.75V16H3.5V16.25H3.25V16.5H3V16.75H2.75V17H2.5V17.25H2.25V17.5H2V17.75H1.75V18H1.5V18.25H1.25V18.5H1V18.75H.75V19H.5V19.25H.25V19.5H0V19.75H0V20H0V20.25H0V20.5H0V20.75H0V21H0V21.25H0V21.5H0V21.75H0V22H0V22.25H0V22.5Z"/><path id="s9" d="M0 20.25H1V20H1.5V19.75H2V19.5H2.25V19.25H2.75V19H3.25V18.75H3.5V18.5H4V18.25H4.75V18H5.25V17.75H5.75V17.5H6V17.25H6.25V17H6.5V16.75H7V16.5H7.25V16.25H7.5V16H7.75V15.75H8V15.5H8.25V15.25H8.5V15H9V14.75H9.25V14.5H9.5V14.25H10V14H10.25V13.75H10.5V13.5H11V13.25H11.25V13H11.5V12.75H12V12.5H12.25V12.25H12.5V12H12.75V11.75H13V11.5H13.25V11.25H13.5V11H13.5V10.75H13.75V10.5H14V10.25H14V10H14.25V9.75H14.5V9.5H14.75V9.25H15V9H15.25V8.75H15.5V8.5H15.75V8.25H16V8H16.25V7.75H16.25V7.5H16.5V7.25H16.75V7H17V6.75H17V6.5H17.25V6.25H17.25V6H17.5V5.75H17.5V5.5H17.75V5.25H17.75V5H18V4.75H18V4.5H18.25V4.25H18.25V4H18.5V3.75H18.5V3.5H18.75V3.25H18.75V3H19V2.75H19V2.5H19V2.25H19.25V2H19.25V1.75H19.5V1.5H19.5V1.25H19.75V1H19.75V.75H20V.5H20V.25H20V0H15.5V.25H15.25V.5H15V.75H14.75V1H14.5V1.25H14.25V1.5H13.75V1.75H13.5V2H13.25V2.25H13V2.5H12.75V2.75H12.5V3H12.25V3.25H12V3.5H11.75V3.75H11.5V4H11.25V4.25H11V4.5H10.75V4.75H10.5V5H10.25V5.25H9.75V5.5H9.5V5.75H9.25V6H9V6.25H8.75V6.5H8.5V6.75H8.25V7H8V7.25H7.75V7.5H7.5V7.75H7.25V8H7V8.25H6.75V8.5H6.5V8.75H6.25V9H5.75V9.25H5.5V9.5H5.25V9.75H5V10H4.75V10.25H4.5V10.5H4.25V10.75H4V11H3.75V11.25H3.5V11.5H3.25V11.75H3V12H2.75V12.25H2.5V12.5H2.25V12.75H1.75V13H1.5V13.25H1.25V13.5H1V13.75H.75V14H.5V14.25H.25V14.5H0V14.75H0V15H0V15.25H0V15.5H0V15.75H0V16H0V16.25H0V16.5H0V16.75H0V17H0V17.25H0V17.5H0V17.75H0V18H0V18.25H0V18.5H0V18.75H0V19H0V19.25H0V19.5H0V19.75H0V20H0V20.25Z"/><path id="s13" d="M0 17.75H.5V17.5H1V17.25H1.5V17H1.75V16.75H2.25V16.5H2.75V16.25H3.25V16H4V15.75H4.5V15.5H5V15.25H5.5V15H5.75V14.75H6V14.5H6.5V14.25H6.75V14H7V13.75H7.5V13.5H7.75V13.25H8V13H8.25V12.75H8.5V12.5H8.75V12.25H9V12H9.25V11.75H9.5V11.5H9.75V11.25H10V11H10.5V10.75H10.75V10.5H11V10.25H11.25V10H11.5V9.75H12V9.5H12.25V9.25H12.5V9H12.75V8.75H13V8.5H13.25V8.25H13.25V8H13.5V7.75H13.5V7.5H13.75V7.25H14V7H14V6.75H14.25V6.5H14.25V6.25H14.5V6H14.5V5.75H14.75V5.5H14.75V5.25H15V5H15V4.75H15V4.5H15.25V4.25H15.25V4H15.25V3.75H15.5V3.5H15.5V3.25H15.5V3H15.5V2.75H15.5V2.5H15.5V2.25H15.5V2H15.5V1.75H15.5V1.5H15.25V1.25H15.25V1H15.25V.75H15V.5H14.75V.75H14.5V1H14.25V1.25H14V1.5H13.75V1.75H13.5V2H13.25V2.25H13V2.5H12.75V2.75H12.5V3H12.25V3.25H12V3.5H11.75V3.75H11.5V4H11.25V4.25H11V4.5H10.75V4.75H10.25V5H10V5.25H9.75V5.5H9.5V5.75H9.25V6H9V6.25H8.75V6.5H8.5V6.75H8.25V7H7.75V7.25H7.5V7.5H7.25V7.75H7V8H6.75V8.25H6.5V8.5H6.25V8.75H6.25V9H6V9.25H5.75V9.5H5.5V9.75H5.25V10H5V10.25H4.75V10.5H4.5V10.75H4.25V11H4V11.25H3.75V11.5H3.5V11.75H3.25V12H3V12.25H2.75V12.5H2.5V12.75H2.25V13H2V13.25H1.75V13.5H1.5V13.75H1.25V14H1V14.25H.75V14.5H.5V14.75H.25V15H0V15.25H0V15.5H0V15.75H0V16H0V16.25H0V16.5H0V16.75H0V17H0V17.25H0V17.5H0V17.75Z"/><filter id="bl" x="-3%" y="-3%" width="106%" height="106%" color-interpolation-filters="sRGB"><feGaussianBlur stdDeviation="0.6 2.2"/></filter><clipPath id="cA0"><use href="#s5" transform="matrix(11.4 0 0 -11.044 6.3 257.3)"/></clipPath><clipPath id="cA1"><use href="#s9" transform="matrix(11.4 0 0 -11.044 6.4 231.3)"/></clipPath><clipPath id="cA2"><use href="#s13" transform="matrix(11.4 0 0 -11.044 6.6 204.3)"/></clipPath><clipPath id="cB0"><use href="#s5" transform="matrix(11.37 0 0 -11.028 6.1 256.7)"/></clipPath><clipPath id="cB1"><use href="#s9" transform="matrix(11.37 0 0 -11.028 6.5 230.7)"/></clipPath><clipPath id="cB2"><use href="#s13" transform="matrix(11.37 0 0 -11.028 6.3 203.7)"/></clipPath><clipPath id="cC0"><use href="#s5" transform="matrix(11.38 0 0 -10.99 6.8 255.4)"/></clipPath><clipPath id="cC1"><use href="#s9" transform="matrix(11.38 0 0 -10.99 6.9 230.4)"/></clipPath><clipPath id="cC2"><use href="#s13" transform="matrix(11.38 0 0 -10.99 6 203.4)"/></clipPath><clipPath id="cD0"><use href="#s5" transform="matrix(11.4 0 0 -11.03 6.3 256.5)"/></clipPath><clipPath id="cD1"><use href="#s9" transform="matrix(11.4 0 0 -11.03 6.3 231.5)"/></clipPath><clipPath id="cD2"><use href="#s13" transform="matrix(11.4 0 0 -11.03 6.6 203.5)"/></clipPath><clipPath id="cE0"><use href="#s5" transform="matrix(11.37 0 0 -11.04 6.9 257.2)"/></clipPath><clipPath id="cE1"><use href="#s9" transform="matrix(11.37 0 0 -11.04 6.4 231.2)"/></clipPath><clipPath id="cE2"><use href="#s13" transform="matrix(11.37 0 0 -11.04 6.9 204.2)"/></clipPath><clipPath id="cF0"><use href="#s5" transform="matrix(11.38 0 0 -10.99 6.6 255.5)"/></clipPath><clipPath id="cF1"><use href="#s9" transform="matrix(11.38 0 0 -10.99 6.7 230.5)"/></clipPath><clipPath id="cF2"><use href="#s13" transform="matrix(11.38 0 0 -10.99 6.8 203.5)"/></clipPath></defs><path d="M267.3 337.6l3.5 .2 3.4 .4 3.4 .6 3.4 .5 1.2 .2M307.2 340.2l3.5 -.4 3.4 -.3 3.4 -.4M78.4 108.5l-2.6 1.5 -3.4 1.3 -3.4 1.5 -2.3 1.5 -2.3 1.7 -2.3 2.3 -1.6 2.4 -1.3 2.2 -1.3 2.2 -1.4 2.2 -.7 1.1M97.7 119.6l-2.5 2 -2.8 2.4M74.7 140.6l-2 2.2 -1.9 2.2 -.8 1.1M250.2 321.5l3.5 .9 3.4 1 3.4 1 3.4 1 2.9 .7 2.8 .5 3.4 .5 3.5 .3 3.4 .3 3.4 .1 3.4 -.2 3 -.4 2.7 -.4 3.2 -.7 2.5 -.7 3.4 -1.1 3.5 -1.3 1.1 -.4M112.3 132.9l-2.3 1.1 -2.6 1 -2.9 1.2 -2.5 .9 -3 1.3 -2.7 1.4 -2.2 1.8 -2.1 2.3 -1.6 2.2 -1.3 2.2 -1 3.3 -.5 3.3 -.2 3.3 -.2 3.1 -.2 2.5M229.7 301.4l3.4 .7 3.4 .8 3.5 .9 3.4 .8 3.4 .9 3.1 .7 1.5 .4M275.3 309.5l3.4 -.4 3.5 -1.2 3.4 -1.5 3.4 -1.4M129.4 149.6l-2.9 .9 -2.8 .8 -3.4 1.1 -2.3 1.3 -2 2.3 -.6 1.1M111.9 181.4l.1 3.3 0 3.4M203.5 276.4l3.4 1.1 3 1.1 2.7 1.1 2.9 1.1 2.7 1.1 1.3 .6M242.3 288.9l3.4 .4 3.4 .1 3.4 -.7 3.3 -1.2 2.4 -1.1 2.9 -1.2 2.6 -1.1 2.8 -1.1M155.6 175.7l-3.4 .3 -3.4 -.1 -3.4 .1 -2.8 1 -2.8 2.2 -2 2.2 -1.4 2.2 -.9 3.4 .2 3.3 .5 3.3 .7 3.3 1.2 3.3 1.6 3 1.4 2.5 1.3 2.2 1.4 2.2 1.4 2.3 1.6 2.2 1.7 2.2 1.9 2.2 1.8 2 2.1 2.4 2 2.2 2.2 2.2 2.4 2.2 2.6 2.2 2.4 2 2.3 1.8 2.2 1.8 2.3 1.7 2.3 1.6 2.3 1.4 2.3 1.3 2.2 1.3 2.3 1.2 2.3 1.3 2.3 1.2 2.3 1.1 2.2 1.1 1.2 .5M217.2 260l3.4 .5 3.4 -.2 3.4 -1 2.3 -1.2 2 -1.6 2.1 -2.2 1.6 -1.5" class="ct"/><text transform="translate(83.5 132) rotate(-43.1)" y="5.5" class="cl">20</text><text transform="translate(112.3 169.4) rotate(-82.5)" y="5.5" class="cl">24</text><text transform="translate(205.7 256.6) rotate(20.5)" y="5.5" class="cl">26</text><text transform="translate(230.6 286.9) rotate(15.8)" y="5.5" class="cl">24</text><text transform="translate(263.3 309.5) rotate(8.4)" y="5.5" class="cl">22</text><text transform="translate(294.4 341.4) rotate(2.2)" y="5.5" class="cl">18</text><path d="M54.5 349.3V73.2M54.5 349.3H49.9M54.5 294.1H49.9M54.5 238.9H49.9M54.5 183.6H49.9M54.5 128.4H49.9M54.5 73.2H49.9M55.3 350.7H340.3M55.3 350.7V355.3M112.3 350.7V355.3M169.3 350.7V355.3M226.3 350.7V355.3M283.3 350.7V355.3M340.3 350.7V355.3" class="ax"/><text x="55.3" y="367.5" class="tk">0</text><text x="43.9" y="349.3" class="tk" transform="rotate(-90 43.9 349.3)">0</text><text x="112.3" y="367.5" class="tk">5</text><text x="43.9" y="294.1" class="tk" transform="rotate(-90 43.9 294.1)">5</text><text x="169.3" y="367.5" class="tk">10</text><text x="43.9" y="238.9" class="tk" transform="rotate(-90 43.9 238.9)">10</text><text x="226.3" y="367.5" class="tk">15</text><text x="43.9" y="183.6" class="tk" transform="rotate(-90 43.9 183.6)">15</text><text x="283.3" y="367.5" class="tk">20</text><text x="43.9" y="128.4" class="tk" transform="rotate(-90 43.9 128.4)">20</text><text x="340.3" y="367.5" class="tk">25</text><text x="43.9" y="73.2" class="tk" transform="rotate(-90 43.9 73.2)">25</text><text x="197.8" y="79.9" class="sub">(Protein eaten = 5)</text><text x="197.8" y="389.5" class="lab">Fructose eaten</text><text x="19.3" y="211.2" class="lab" transform="rotate(-90 19.3 211.2)">Glucose eaten</text><path d="M425.8 131l-3.4 1 -3.5 .7 -3.4 .8 -3.4 .9 -3.4 1.2 -1.5 .6M448.6 144.6l-3.4 .7 -2.4 .8 -2.2 .7M418 153.8l-2.4 1.1 -2.4 2 -1.7 2.4 -1.3 2.3 -1.5 3.2 -1 3.4 -.6 3.3 -.4 3.3 -.1 3.3 .1 3.3 .3 3.3 .3 3.4M449.7 160.4l-3.4 -.1 -3.4 .8 -3.4 1.3 -2.3 1.1 -2.3 1.1 -2.2 1.4 -2.4 2 -1.9 2.4 -1.5 2.1 -1.4 2.3 -1.2 3.3 -.4 3.3 .1 3.3 .2 3.4 .4 3.3 .8 3.3 1 3.3 1.2 3.3 1.1 3.3 1.1 3.3 .5 1.7M560.3 327.5l2.5 .8 3.2 1.1 3.3 1.1 2.4 .9 3.4 1.1 3.4 1.2 3.5 1.2 3.4 1 3.4 .8 3.4 .6M616.2 336.2l3.4 -.8 3.4 -.8 2.8 -.8 2.9 -.9M486.2 167.1l-3.4 -.7 -3.4 -.7 -3.5 -.6M452 160.7l-2.3 -.3M475.9 177.8l-3.4 -.6 -3.4 -.1 -3.4 .1 -3.4 .2 -3.5 .5 -3.4 1.3 -2.3 1.3 -2.2 1.7 -2.3 1.8 -1.9 1.8 -1.5 2.3 -1.1 3.3 -.4 3.3 -.2 3.3 .1 3.3 .6 3.3 1 3.1 .8 2.4 1.1 3.4 1.2 3.3 1.4 3.3 1.2 2.3 2 3.2 1.6 2.2 1.6 2.2 1.6 2.1 1.7 2.3 1.7 2.2 1.8 2.3 .9 1.1M518.1 289.1l2.3 1.3 2.3 1.3 2.3 1.2 2.2 1.2 2.3 1.2 2.3 1.1 2.3 1.2 2.3 1.2 2.2 1.2 2.3 1.2 2.3 1.2 2.3 1.3 2.3 1.2 2.2 1.3 2.3 1.2 2.3 1.2 2.3 1.2 2.3 1.1 2.2 .9M585.1 318.4l2.6 .1 3.4 -.5 2.3 -1.1 2.2 -1.4 2.2 -1.5 2.4 -2.1 2 -2.4 1.3 -2.2 1.3 -2.5 1.1 -2.8 .7 -3.5 -.2 -3.3 -.2 -3.3 .3 -3.3 .1 -1.1M539.8 208.3l-3.4 -1.5 -2.6 -1.1 -2.5 -1.1 -2.9 -1.4 -2.3 -1.4 -2.3 -1.4 -2.3 -1.5 -2.2 -1.6 -2.3 -1.5 -2.3 -1.5 -2.3 -1.5 -2.3 -1.4 -2.2 -1.3 -2.3 -1.1 -2.4 -.9 -1 -.4M479.4 179l-3.5 -1.2M488.5 201.2l-3.4 0 -3.5 .6 -3.4 1.1 -3.4 1.7 -2 2.2 -1.3 3.3 -.5 3.4 .4 3.3 1 3.3 1.3 3.2 1 2.3 1.2 2.6 1.8 2.9 1.5 2.2 1.6 2.2 1.7 2.3 1.7 2.2 1.6 2.2 1.8 2.2 1.8 2.2 2.1 2.2 2.1 2.2 2.2 2.2 1.8 1.8 2.3 2.3 2.3 2.3 2.2 2.3 2.3 2.2 2.3 2 2.3 1.9 2.2 1.8 2.3 1.9 2.3 1.8 2.3 1.7 2.3 1.5 2.3 1.2 2.2 1 3.5 1.5 3.4 1.3 1.1 .4M559.2 288.8l3.4 .4 3.4 -.4 3.1 -1.3 2.6 -2.1 1.2 -2.4 .7 -3.3 0 -3.3 -.7 -3.3 -1.2 -3.2 -1 -2.3 -1.3 -2.7 -1.1 -2.3 -1.6 -2.8 -1.4 -2.2 -1.6 -2.1 -1.7 -2.3 -1.7 -2.1 -1.8 -2.3 -1.6 -2 -1.9 -2.4 -1.8 -2.2 -1.9 -2.2 -2.1 -2.2 -2.3 -2.3 -2.3 -2.2 -2.4 -2.2 -2.4 -2.2 -2.3 -2.1 -2.3 -2.2 -2.3 -2 -2.2 -2 -2.1 -1.6 -2.5 -1.8 -2.3 -1.5 -2.3 -1.5 -2.2 -1.6 -2.3 -1.5 -2.3 -1.5 -2.3 -1.5 -2.3 -1.4 -2.2 -1.2 -3.5 -1.2 -3 -.8 -2.7 -.5 -2.7 -.6 -3 -.5 -3.4 -.5 -1.1 -.2" class="ct"/><text transform="translate(429.5 151) rotate(-16.9)" y="5.5" class="cl">18</text><text transform="translate(464 163.2) rotate(10.3)" y="5.5" class="cl">20</text><text transform="translate(490.6 184.1) rotate(20.9)" y="5.5" class="cl">22</text><text transform="translate(546.7 286.1) rotate(16.1)" y="5.5" class="cl">24</text><text transform="translate(573.3 316.3) rotate(15.7)" y="5.5" class="cl">22</text><text transform="translate(604.2 338.6) rotate(-1.6)" y="5.5" class="cl">20</text><path d="M405.6 349.3V73.2M405.6 349.3H401M405.6 294.1H401M405.6 238.9H401M405.6 183.6H401M405.6 128.4H401M405.6 73.2H401M406.4 350.7H691.4M406.4 350.7V355.3M463.4 350.7V355.3M520.4 350.7V355.3M577.4 350.7V355.3M634.4 350.7V355.3M691.4 350.7V355.3" class="ax"/><text x="406.4" y="367.5" class="tk">0</text><text x="395" y="349.3" class="tk" transform="rotate(-90 395 349.3)">0</text><text x="463.4" y="367.5" class="tk">5</text><text x="395" y="294.1" class="tk" transform="rotate(-90 395 294.1)">5</text><text x="520.4" y="367.5" class="tk">10</text><text x="395" y="238.9" class="tk" transform="rotate(-90 395 238.9)">10</text><text x="577.4" y="367.5" class="tk">15</text><text x="395" y="183.6" class="tk" transform="rotate(-90 395 183.6)">15</text><text x="634.4" y="367.5" class="tk">20</text><text x="395" y="128.4" class="tk" transform="rotate(-90 395 128.4)">20</text><text x="691.4" y="367.5" class="tk">25</text><text x="395" y="73.2" class="tk" transform="rotate(-90 395 73.2)">25</text><text x="548.9" y="79.9" class="sub">(Protein eaten = 9)</text><text x="548.9" y="389.5" class="lab">Fructose eaten</text><text x="370.4" y="211.2" class="lab" transform="rotate(-90 370.4 211.2)">Glucose eaten</text><path d="M802.2 174.6l-3.4 -.6 -2.7 -.3 -3 -.1 -3.4 -.1 -2.3 0M763.6 174.8l-3.6 .3 -2.3 .1M791.9 185.8l-3.4 0 -2.8 0 -2.9 .2 -3.4 .5 -3.4 1 -3.4 1.4 -3.2 1.4 -2.8 1.1M846.7 203.5l-3.1 -1.1 -2.6 -1 -2.8 -1.2 -2.3 -1.1 -2.9 -1.5 -2.3 -1.1 -2.3 -1.1 -3.4 -1.4 -3.4 -1 -1.2 -.2M796.5 186.6l-3.4 -.7 -1.2 -.1M809 203.5l-3.4 -.4 -3.4 -.2 -3.4 .2 -3.4 .7 -2.8 .8 -2.9 1 -3.5 1.2 -2.2 .7M909.4 261.3l-2.3 -1.4 -2.3 -1.4 -2.3 -1.3 -2.3 -1.5 -2.2 -1.7 -2.3 -1.9 -2.3 -1.9 -2.3 -2.1 -2.3 -2 -1.9 -1.7 -2.4 -2.2 -2.5 -2.2 -2.3 -2.1 -2.3 -1.9 -2.2 -1.9 -2.3 -1.7 -2.3 -1.5 -2.3 -1.5 -2.3 -1.4 -2.2 -1.5 -2.3 -1.4 -2.3 -1.5 -2.1 -1.3 -2.5 -1.5 -2.2 -1.2 -2.3 -1.1 -2.3 -.9M825 207.2l-2.3 -1.1 -3.4 -1.2 -3.4 -.6 -3.4 -.4 -3.5 -.4M826.1 227.7l-3.4 -.7 -3.4 -.1 -3.4 .8 -2.9 1.2 -2.7 1.1 -2.4 .8 -1.1 .3M907.1 324.6l3.4 -1.3 3.4 -1.5 2.3 -2 1.8 -2.5 1.2 -3.3 .1 -3.4 -.2 -3.3 -.5 -3.3 -1 -3.3 -1.3 -3.3 -1.2 -2.7 -1.2 -2.5 -1.1 -2.4 -1.2 -2.3 -1.2 -2.3 -1.4 -2.2 -1.7 -2.2 -1.8 -2.2 -1.8 -2.1 -2 -2.3 -2 -2.2 -1.7 -2 -2.3 -2.4 -2.3 -2.2 -2.3 -1.9 -2.3 -1.7 -2.2 -1.7 -2.3 -1.7 -2.3 -1.6 -2.3 -1.6 -2.3 -1.7 -2.2 -1.6 -2.3 -1.5 -2.3 -1.5 -2.3 -1.3M847.8 235.1l-2.3 -1.4 -2.3 -1.1 -3.4 -1.2 -3.4 -1 -3.4 -.9 -3.4 -.9 -3.5 -.9" class="ct"/><text transform="translate(775.6 173.7) rotate(-3.1)" y="5.5" class="cl">18</text><text transform="translate(808 190.5) rotate(14.6)" y="5.5" class="cl">20</text><text transform="translate(836.1 213.6) rotate(24.2)" y="5.5" class="cl">22</text><text transform="translate(857.9 241.7) rotate(31.3)" y="5.5" class="cl">24</text><path d="M755.8 349.3V73.2M755.8 349.3H751.2M755.8 294.1H751.2M755.8 238.9H751.2M755.8 183.6H751.2M755.8 128.4H751.2M755.8 73.2H751.2M756.6 350.7H1041.6M756.6 350.7V355.3M813.6 350.7V355.3M870.6 350.7V355.3M927.6 350.7V355.3M984.6 350.7V355.3M1041.6 350.7V355.3" class="ax"/><text x="756.6" y="367.5" class="tk">0</text><text x="745.2" y="349.3" class="tk" transform="rotate(-90 745.2 349.3)">0</text><text x="813.6" y="367.5" class="tk">5</text><text x="745.2" y="294.1" class="tk" transform="rotate(-90 745.2 294.1)">5</text><text x="870.6" y="367.5" class="tk">10</text><text x="745.2" y="238.9" class="tk" transform="rotate(-90 745.2 238.9)">10</text><text x="927.6" y="367.5" class="tk">15</text><text x="745.2" y="183.6" class="tk" transform="rotate(-90 745.2 183.6)">15</text><text x="984.6" y="367.5" class="tk">20</text><text x="745.2" y="128.4" class="tk" transform="rotate(-90 745.2 128.4)">20</text><text x="1041.6" y="367.5" class="tk">25</text><text x="745.2" y="73.2" class="tk" transform="rotate(-90 745.2 73.2)">25</text><text x="899.1" y="79.9" class="sub">(Protein eaten = 13)</text><text x="899.1" y="389.5" class="lab">Fructose eaten</text><text x="720.6" y="211.2" class="lab" transform="rotate(-90 720.6 211.2)">Glucose eaten</text><path d="M1323.1 328.2l3.4 .8 3.4 1 2.5 .7 3.2 1.1 3.4 1.1 3.3 1.2 3.4 1.1 2.4 .7 3.4 1.1 3.4 .9 1.1 .2M1381.1 342.4l3.2 .5 2.4 .3M1145.7 110.1l-3.3 1.2 -3.5 .9 -3.4 1 -3.4 1.4 -2.3 1.3 -2.3 1.5 -2.5 1.6M1167.7 123.4l-1.5 .7M1142.3 131.9l-3.4 1.3 -2.3 1.7 -2.3 2.5 -2.1 2.6 -1.3 1.5M1294.6 301.1l3.5 .6 3.4 1 3.4 1.1 3.4 1.1 3.4 1.2 3.4 1.1 3.4 1 3.4 .9 3.4 .7M1349.2 312l3.4 -.2 3.4 -.5 3.5 -.6 1.1 -.1M1184.4 138.9l-3.5 .6 -3.4 .4 -3.4 .5 -3.4 .6 -3.4 .9 -2.9 1.4 -2.8 1.6 -2.3 1.4 -2.2 1.6 -2.2 2 -1.8 2.2 -1.5 2.2 -1.3 2.1 -1.5 2.3M1265.1 272.5l3.4 .6 3.4 .8 3.4 1 3.4 1 3.1 .8 2.6 .5 3.4 .5M1312.8 278.7l3.5 -.7 2.2 -1.1 2.2 -1.3 2.4 -1.3M1210.5 165.1l-3.4 .6M1182.1 169.5l-2.7 1.3 -1.8 2.2 -1.2 3.3 -.2 3.4 .1 3.3 -.1 3.3M1227.6 235.6l3.4 .8 3.4 1 3.4 1.2 3.4 .9 3.4 .6 1.2 .1M1269.6 240.9l3.4 -1.4 2.3 -2.5 1.2 -2.2 1.1 -2.8 .8 -1.6" class="ct"/><text transform="translate(1154.3 129) rotate(-17.8)" y="5.5" class="cl">12</text><text transform="translate(1194.5 167.6) rotate(-7.7)" y="5.5" class="cl">16</text><text transform="translate(1257.8 241.8) rotate(2.8)" y="5.5" class="cl">16</text><text transform="translate(1300.3 278.8) rotate(2.9)" y="5.5" class="cl">14</text><text transform="translate(1337.4 312.1) rotate(5.7)" y="5.5" class="cl">12</text><text transform="translate(1368.3 340.6) rotate(9.7)" y="5.5" class="cl">10</text><path d="M1123.3 351.7V76M1123.3 351.7H1118.7M1123.3 296.6H1118.7M1123.3 241.4H1118.7M1123.3 186.3H1118.7M1123.3 131.1H1118.7M1123.3 76H1118.7M1124.1 353.1H1408.3M1124.1 353.1V357.7M1180.9 353.1V357.7M1237.8 353.1V357.7M1294.6 353.1V357.7M1351.5 353.1V357.7M1408.3 353.1V357.7" class="ax"/><text x="1124.1" y="369.9" class="tk">0</text><text x="1112.7" y="351.7" class="tk" transform="rotate(-90 1112.7 351.7)">0</text><text x="1180.9" y="369.9" class="tk">5</text><text x="1112.7" y="296.6" class="tk" transform="rotate(-90 1112.7 296.6)">5</text><text x="1237.8" y="369.9" class="tk">10</text><text x="1112.7" y="241.4" class="tk" transform="rotate(-90 1112.7 241.4)">10</text><text x="1294.6" y="369.9" class="tk">15</text><text x="1112.7" y="186.3" class="tk" transform="rotate(-90 1112.7 186.3)">15</text><text x="1351.5" y="369.9" class="tk">20</text><text x="1112.7" y="131.1" class="tk" transform="rotate(-90 1112.7 131.1)">20</text><text x="1408.3" y="369.9" class="tk">25</text><text x="1112.7" y="76" class="tk" transform="rotate(-90 1112.7 76)">25</text><text x="1266.2" y="82.7" class="sub">(Protein eaten = 5)</text><text x="1266.2" y="391.9" class="lab">Fructose eaten</text><text x="1088.1" y="213.8" class="lab" transform="rotate(-90 1088.1 213.8)">Glucose eaten</text><path d="M1637.1 338l3.4 1.1 3.4 1.4 2.3 1.2 2.2 1.2 2.3 1.3 2.3 1.2 2.3 1.2 2.3 1.2 2.2 1.1 2.3 1.2 2.3 1.2M1499.5 137.6l-3.4 .7 -2.7 .6 -3 .6 -3.4 .7 -2.8 .9 -2.6 1.1 -2.6 1.3 -2.2 1.3 -1.2 .7M1529.1 153.1l-3.4 .8M1500.7 156.8l-3.5 .5 -3.3 1.4 -2.3 1.5 -2.3 1.7 -2.3 2.3 -1.5 2.2 -1.6 3.3 -1.4 3.3 -1 3.4 -.3 3.3 .1 3.3 .3 3.3 .4 3.3 .4 3.3 .5 3.3 .1 1.1M1599.6 304l3.2 1.4 2.4 1.1 2.3 1.1 2.3 1 2.3 1.1 2.3 1.1 2.2 1.1 2.3 1.1 2.3 1.1 2.2 1.1 2.3 1 2.3 1.1 2.9 1.3 2.7 1.1 3 1.1 2.8 1 3.3 1.2 2.3 .9 3.5 1.2 3.3 1.2 3.1 1.1 2.7 1 3.3 1.2 3.2 1.1 2.6 .8 2.2 .7M1692.8 340.3l3.4 1.4 3.4 1.5M1540.4 173l-3.4 -.5 -3.4 -.3 -3.4 0 -3.4 .3 -3.4 .4 -3.4 .5 -3 .7 -2.6 1.2 -2.4 1.6 -2 1.7 -2.2 2.2 -1.7 2.2 -1.4 3.3 -.5 3.3 -.1 3.3 0 3.3 .6 3.3 1 3.3 1.3 3.3 1.4 3.3 1.3 3 1.2 2.3 1.5 2.5 1.5 2.2 1.5 2 1.8 2.4 1.6 2.1 1.8 2.3 1.7 2 1.9 2.4 2 2.2 2.3 2.2 2.5 2.2 2.5 2.2 2.4 2.1 2.3 1.9 2.2 2 2.1 1.7 2.5 2.1 2.3 1.9 2 1.6 2.5 1.8 2.3 1.7 2.3 1.7 2.2 1.7 2.3 1.6 2.3 1.7 2.3 1.6 2.2 1.6 2.3 1.5 2.3 1.5 2.3 1.4 2.2 1.3 2.3 1.4 2.3 1.4 2.3 1.3 2.2 1.3 2.3 1.3 2.3 1.2 2.2 1 3.5 1.5 3.4 1.3 2.8 1.1 2.8 1.1 2.3 1 3.4 1.2 3.5 1.1 3.4 .9 3.4 .8 3.4 .6M1649.6 294.6l3.4 -1.3 2.3 -2.1 1.7 -2.4 1.3 -3.3 .6 -3.3 .2 -3.3 -.3 -3.3 -1 -3.3 -1.4 -3 -1.3 -2.5 -1.6 -2.2 -1.6 -2.1 -1.7 -2.3 -1.5 -3.3 -.3 -2.2M1569.5 183l-2.9 -1.5 -2.3 -1.2 -2.3 -1.1 -2.2 -1.1 -2.3 -1.1 -3.4 -1.3 -3.4 -.9 -3.3 -.7 -3.5 -.6 -3.5 -.5M1549.5 210.9l-3.4 .7 -.9 3.4 .9 3.2 1.4 2.3 1.7 2.2 1.9 2.2 1.9 2 2.2 2.2 2.3 1.9 2.3 1.9 2.2 1.8 2.3 1.7 2.3 1.5 2.3 1.2 2.7 1.2 2.6 1.1 2.6 1.1 3 1.1 2.7 .9 3.4 .2 3.4 -.9 2 -2.4 .3 -3.3 -.6 -3.3 -1.6 -3.3 -1.2 -2.2 -1.4 -2.2 -1.6 -2.2 -2 -2.2 -1.8 -1.9 -2.3 -2.1 -2.3 -1.5 -3.4 -1.4" class="ct"/><text transform="translate(1513.3 156.7) rotate(-6.4)" y="5.5" class="cl">12</text><text transform="translate(1561.5 212.8) rotate(11.4)" y="5.5" class="cl">16</text><text transform="translate(1637 295.5) rotate(4.8)" y="5.5" class="cl">14</text><text transform="translate(1680.8 335.7) rotate(18)" y="5.5" class="cl">12</text><path d="M1473.7 351.7V76M1473.7 351.7H1469.1M1473.7 296.6H1469.1M1473.7 241.4H1469.1M1473.7 186.3H1469.1M1473.7 131.1H1469.1M1473.7 76H1469.1M1474.5 353.1H1758.8M1474.5 353.1V357.7M1531.3 353.1V357.7M1588.2 353.1V357.7M1645 353.1V357.7M1701.9 353.1V357.7M1758.8 353.1V357.7" class="ax"/><text x="1474.5" y="369.9" class="tk">0</text><text x="1463.1" y="351.7" class="tk" transform="rotate(-90 1463.1 351.7)">0</text><text x="1531.3" y="369.9" class="tk">5</text><text x="1463.1" y="296.6" class="tk" transform="rotate(-90 1463.1 296.6)">5</text><text x="1588.2" y="369.9" class="tk">10</text><text x="1463.1" y="241.4" class="tk" transform="rotate(-90 1463.1 241.4)">10</text><text x="1645" y="369.9" class="tk">15</text><text x="1463.1" y="186.3" class="tk" transform="rotate(-90 1463.1 186.3)">15</text><text x="1701.9" y="369.9" class="tk">20</text><text x="1463.1" y="131.1" class="tk" transform="rotate(-90 1463.1 131.1)">20</text><text x="1758.8" y="369.9" class="tk">25</text><text x="1463.1" y="76" class="tk" transform="rotate(-90 1463.1 76)">25</text><text x="1616.6" y="82.7" class="sub">(Protein eaten = 9)</text><text x="1616.6" y="391.9" class="lab">Fructose eaten</text><text x="1438.5" y="213.8" class="lab" transform="rotate(-90 1438.5 213.8)">Glucose eaten</text><path d="M1843.6 164.9l-3.4 .9 -2.9 .6 -2.8 .6 -3.4 1 -3.4 1.4 -3.3 1.4M1877.7 181.2l-3.4 .6 -1.1 .2M1848.2 185.2l-3.4 .8 -2.3 1.1 -2.3 1.3 -2.3 1.6 -2.2 1.6 -2.3 1.6M1880 202.8l-3.4 -.1 -3.4 .5 -2.4 .7 -2.9 1.1 -2.7 1.7 -2 1.6 -2.3 2.2 -2.2 2.2 -2.6 2.6M1978.7 330.7l2.5 .7 3.4 1.2 3.4 1.3 3.4 1.1 3.4 .9 3.5 .4M1925.5 216.8l-3.4 -1.2 -3.4 -1.5 -2.3 -1.1 -2.3 -1.1 -3.2 -1.4 -2.5 -.8 -1.1 -.3M1882.3 203.3l-2.3 -.5M1923.2 251.3l-3.4 -.8 -3.4 .7 -1.6 2.4 .5 2.9 1.1 2.3 1.8 2.5 1.6 1.9 2.3 2.1 2.2 1.5 2.3 1.1 2.3 .9 3.4 .9 3.4 .6 1.7 2 1.2 3.3 1.7 3.2 1.9 2.3 2.6 2.1 2.3 1 3.4 .7 3.4 -.4 2.5 -1.2 2.1 -1.9 1.2 -2.5 0 -3.3 -1.2 -2.6 -1.8 -1.8 -2.8 -1.7 -3.4 -1.2 -3.4 -.5 -3.4 -.2 -3.4 -.1 -2 -1.8 -1.4 -3.3 -1.3 -2.2 -1.7 -2.2 -2.1 -2.2 -2.9 -2.1 -2.3 -1.1 -3.4 -1.3" class="ct"/><text transform="translate(1860.8 184.1) rotate(-7)" y="5.5" class="cl">12</text><text transform="translate(1894.6 207.1) rotate(13.7)" y="5.5" class="cl">14</text><path d="M1823.5 351.7V76M1823.5 351.7H1818.9M1823.5 296.6H1818.9M1823.5 241.4H1818.9M1823.5 186.3H1818.9M1823.5 131.1H1818.9M1823.5 76H1818.9M1824.3 353.1H2108.6M1824.3 353.1V357.7M1881.1 353.1V357.7M1938 353.1V357.7M1994.8 353.1V357.7M2051.7 353.1V357.7M2108.6 353.1V357.7" class="ax"/><text x="1824.3" y="369.9" class="tk">0</text><text x="1812.9" y="351.7" class="tk" transform="rotate(-90 1812.9 351.7)">0</text><text x="1881.1" y="369.9" class="tk">5</text><text x="1812.9" y="296.6" class="tk" transform="rotate(-90 1812.9 296.6)">5</text><text x="1938" y="369.9" class="tk">10</text><text x="1812.9" y="241.4" class="tk" transform="rotate(-90 1812.9 241.4)">10</text><text x="1994.8" y="369.9" class="tk">15</text><text x="1812.9" y="186.3" class="tk" transform="rotate(-90 1812.9 186.3)">15</text><text x="2051.7" y="369.9" class="tk">20</text><text x="1812.9" y="131.1" class="tk" transform="rotate(-90 1812.9 131.1)">20</text><text x="2108.6" y="369.9" class="tk">25</text><text x="1812.9" y="76" class="tk" transform="rotate(-90 1812.9 76)">25</text><text x="1966.4" y="82.7" class="sub">(Protein eaten = 13)</text><text x="1966.4" y="391.9" class="lab">Fructose eaten</text><text x="1788.3" y="213.8" class="lab" transform="rotate(-90 1788.3 213.8)">Glucose eaten</text><path d="M175.6 621.5l-.2 1.3M165.3 655l-1.1 2.9 -1 2.3 -1.3 2.4M58.4 561.9l2.2 .1M94.8 564.1l3.4 .5 3.4 .7 3.4 .7 3.2 .8 2.5 .6 3.4 .8 3.3 .8 3.5 .8 2.3 .6M233.2 676.7l-.7 .4M202 692.1l-2.4 1.1 -2.4 1.3 -1.3 .9M54.9 536.8l3.5 .2 3.4 .2 3.4 .2 3.4 .2 3.4 .3 2.9 .3 2.8 .3 3.4 .3 3.4 .1 3.4 0M311 773.2l-2.3 -1.3 -2.3 -1.4 -2.2 -1.4 -2.3 -1.4 -2.3 -1.5 -2.3 -1.4 -2.2 -1.5 -2.3 -1.4 -2.3 -1.4 -2.1 -1.4 -2.4 -1.5 -2.3 -1.3 -2.3 -1.4 -2.3 -1.4 -2.3 -1.3 -1.1 -.6M245.1 738.2l-3.5 -.7 -1.2 -.2" class="ct"/><text transform="translate(77.6 563.3) rotate(3.4)" y="5.5" class="cl">1.7</text><text transform="translate(171 639.5) rotate(-72.1)" y="5.5" class="cl">1.7</text><text transform="translate(217.7 685.5) rotate(-25.9)" y="5.5" class="cl">1.8</text><text transform="translate(261.3 743.8) rotate(23.8)" y="5.5" class="cl">1.9</text><path d="M53 773.4V498.6M53 773.4H48.4M53 718.4H48.4M53 663.5H48.4M53 608.5H48.4M53 553.6H48.4M53 498.6H48.4M53.8 774.8H338.3M53.8 774.8V779.4M110.7 774.8V779.4M167.6 774.8V779.4M224.5 774.8V779.4M281.4 774.8V779.4M338.3 774.8V779.4" class="ax"/><text x="53.8" y="791.6" class="tk">0</text><text x="42.4" y="773.4" class="tk" transform="rotate(-90 42.4 773.4)">0</text><text x="110.7" y="791.6" class="tk">5</text><text x="42.4" y="718.4" class="tk" transform="rotate(-90 42.4 718.4)">5</text><text x="167.6" y="791.6" class="tk">10</text><text x="42.4" y="663.5" class="tk" transform="rotate(-90 42.4 663.5)">10</text><text x="224.5" y="791.6" class="tk">15</text><text x="42.4" y="608.5" class="tk" transform="rotate(-90 42.4 608.5)">15</text><text x="281.4" y="791.6" class="tk">20</text><text x="42.4" y="553.6" class="tk" transform="rotate(-90 42.4 553.6)">20</text><text x="338.3" y="791.6" class="tk">25</text><text x="42.4" y="498.6" class="tk" transform="rotate(-90 42.4 498.6)">25</text><text x="196.1" y="505.3" class="sub">(Protein eaten = 5)</text><text x="196.1" y="813.6" class="lab">Fructose eaten</text><text x="17.8" y="636" class="lab" transform="rotate(-90 17.8 636)">Glucose eaten</text><path d="M602.1 708.6l-1.8 -2.2 -1.8 -2.2 -1.7 -2.2 -1.7 -2.2 -2.1 -2.2 -2.5 -2.1 -2.2 -1.3 -2.5 -1 -3.2 -1.1 -3.3 -1.1 -2.4 -.8 -3.4 -1.1 -3.5 -.9 -3.4 -.9 -3.4 -.5 -2.5 -.2 -3.2 -.3 -3.4 -.3 -3.4 -.3 -3.4 -.2 -3.4 -.2 -3.4 -.1 -1.2 0M506.3 685.2l-3.4 -.2 -3.4 -.1 -3.4 -.1 -3.4 -.1 -3.5 -.1 -3.4 -.1 -2.2 0M404.3 580l3.1 -1.1M438.6 567.9l2.1 -1.1M625.8 772.9l-2.1 -1.7 -2.4 -1.9 -2.3 -1.9 -2.2 -1.7 -2.4 -1.9 -2.2 -1.9 -2.2 -1.7 -2.4 -1.9 -2.3 -1.9 -2.2 -1.7 -2.3 -1.9 -2.3 -1.8 -2.3 -1.7 -2.3 -1.8 -2.1 -1.6 -2.4 -1.7 -2.3 -1.4 -2.3 -1.2 -2.2 -1.2 -2.3 -1.1 -2.3 -1.1 -2.3 -1.1 -2.2 -1.1 -2.3 -1.1 -2.3 -1.1 -2.3 -1.1 -2.2 -1.1 -2.6 -1.1 -2 -.7M526.8 721.6l-2.3 -.4" class="ct"/><text transform="translate(423.3 573.8) rotate(-19.1)" y="5.5" class="cl">1.7</text><text transform="translate(522.6 685.7) rotate(0)" y="5.5" class="cl">1.7</text><text transform="translate(543 725.2) rotate(13.8)" y="5.5" class="cl">1.8</text><path d="M403.1 773.4V498.6M403.1 773.4H398.5M403.1 718.4H398.5M403.1 663.5H398.5M403.1 608.5H398.5M403.1 553.6H398.5M403.1 498.6H398.5M403.9 774.8H688.4M403.9 774.8V779.4M460.8 774.8V779.4M517.7 774.8V779.4M574.6 774.8V779.4M631.5 774.8V779.4M688.4 774.8V779.4" class="ax"/><text x="403.9" y="791.6" class="tk">0</text><text x="392.5" y="773.4" class="tk" transform="rotate(-90 392.5 773.4)">0</text><text x="460.8" y="791.6" class="tk">5</text><text x="392.5" y="718.4" class="tk" transform="rotate(-90 392.5 718.4)">5</text><text x="517.7" y="791.6" class="tk">10</text><text x="392.5" y="663.5" class="tk" transform="rotate(-90 392.5 663.5)">10</text><text x="574.6" y="791.6" class="tk">15</text><text x="392.5" y="608.5" class="tk" transform="rotate(-90 392.5 608.5)">15</text><text x="631.5" y="791.6" class="tk">20</text><text x="392.5" y="553.6" class="tk" transform="rotate(-90 392.5 553.6)">20</text><text x="688.4" y="791.6" class="tk">25</text><text x="392.5" y="498.6" class="tk" transform="rotate(-90 392.5 498.6)">25</text><text x="546.1" y="505.3" class="sub">(Protein eaten = 9)</text><text x="546.1" y="813.6" class="lab">Fructose eaten</text><text x="367.9" y="636" class="lab" transform="rotate(-90 367.9 636)">Glucose eaten</text><path d="M901.4 677.8l-2.9 -.9 -3.4 -.9 -3.4 -.9 -1.1 -.3M862.1 658.8l-2.3 -1.7 -2.2 -1.9 -2.3 -2.1 -1.9 -1.7 -2.3 -2.2 -2.3 -2.2 -2.2 -2.2 -2.1 -2.2 -1.7 -2.1 -1.8 -2.3 -1.5 -2.2 -1.2 -2.2 -1.2 -3.3 -.6 -3.3 -.5 -3.3 -.1 -1.1M929.3 744.9l-2.3 -1.6 -2.3 -1.6 -2.3 -1.5 -2.3 -1.4 -2.2 -1.5 -2.3 -1.5 -2.3 -1.6 -2.2 -1.5 -2.3 -1.6 -2.3 -1.5 -2.3 -1.6 -2.3 -1.4 -2.2 -1.5 -2.3 -1.4 -2.3 -1.5 -2.3 -1.4 -2.2 -1.4 -2.3 -1.5 -2.3 -1.3 -2.4 -1.4M854.1 700.1l-2.2 -1.1 -2.3 -1.1 -3.4 -1.4 -1.2 -.4M767.7 619.6l.4 -3.4 .7 -3.1 .9 -3.5 1 -3.2 1.4 -3.3 1.2 -2.7 1.7 -2.8 1.7 -2.2 1.7 -2.2 1.4 -2.2" class="ct"/><text transform="translate(875.2 668.3) rotate(33.7)" y="5.5" class="cl">1.6</text><text transform="translate(868.9 708) rotate(26.6)" y="5.5" class="cl">1.7</text><path d="M753.2 773.4V498.6M753.2 773.4H748.6M753.2 718.4H748.6M753.2 663.5H748.6M753.2 608.5H748.6M753.2 553.6H748.6M753.2 498.6H748.6M754 774.8H1038.5M754 774.8V779.4M810.9 774.8V779.4M867.8 774.8V779.4M924.7 774.8V779.4M981.6 774.8V779.4M1038.5 774.8V779.4" class="ax"/><text x="754" y="791.6" class="tk">0</text><text x="742.6" y="773.4" class="tk" transform="rotate(-90 742.6 773.4)">0</text><text x="810.9" y="791.6" class="tk">5</text><text x="742.6" y="718.4" class="tk" transform="rotate(-90 742.6 718.4)">5</text><text x="867.8" y="791.6" class="tk">10</text><text x="742.6" y="663.5" class="tk" transform="rotate(-90 742.6 663.5)">10</text><text x="924.7" y="791.6" class="tk">15</text><text x="742.6" y="608.5" class="tk" transform="rotate(-90 742.6 608.5)">15</text><text x="981.6" y="791.6" class="tk">20</text><text x="742.6" y="553.6" class="tk" transform="rotate(-90 742.6 553.6)">20</text><text x="1038.5" y="791.6" class="tk">25</text><text x="742.6" y="498.6" class="tk" transform="rotate(-90 742.6 498.6)">25</text><text x="896.2" y="505.3" class="sub">(Protein eaten = 13)</text><text x="896.2" y="813.6" class="lab">Fructose eaten</text><text x="718" y="636" class="lab" transform="rotate(-90 718 636)">Glucose eaten</text><path d="M251.4 1183.3l3.4 1.1 3.4 1.1 3.4 1.3 3.5 1.2 3.4 1.3 3.4 1.2 3.4 1.2 3.4 1 3.5 .9 3.4 .9 3.4 .8 3.2 .9 2.5 .7 3.4 1.1M312.9 1201.3l3.5 .4 2.2 .3M91.4 976.7l-1.7 2.2 -2.1 2.2 -2.2 2.2 -2 2.2 -1.6 2.2 -1.4 2.2 -1.3 2.2 -1.2 2.2 -1.5 3.3 -1.2 3.3 -1 3.3 -1 3.3 -.8 3.4M206.9 1140.9l3.4 .7 3.5 1 3.4 1.2 3.4 1.3 3.4 1.2 3.4 1.3 3.3 1.1 2.4 .8 3.5 1.1 3.4 1.1 3.4 1.1 3.4 1.2 3.4 1.2 1.2 .4M126.5 1008.7l-1.7 3 -1.5 2.5 -1.3 2.2 -1.2 2.2 -1.2 3.3 -.4 3.3 -.3 3.3 0 3.3 .2 3.3 .7 3.3 1.2 3.3 1.3 3.3 1.4 3.4 1.1 2.3 2.1 3.2 1.6 2.2 1.8 2.2 1.7 2.2 1.8 2.2 1.9 2.2 1.7 1.9 2.3 2.2 2.2 2 2 1.6 2.6 2.2 2.3 1.9 2.3 1.9 2.1 1.7 2.4 1.9 2.2 1.5 2.4 1.5 2.3 1.3 2.2 1.4 2.3 1.3 2.3 1.3 2.3 1.3 2.3 1.2 2.2 1 3.5 1.3 3.4 1.2 3.4 1.2 3.4 1.1 3.4 1.1 3.5 1.2 3.4 1.1 3.4 1.2 3.4 1.1 3.4 1 1.2 .3M226.3 1109.3l3.4 .6 2.3 .5" class="ct"/><text transform="translate(218.8 1107.8) rotate(12.9)" y="5.5" class="cl">3</text><text transform="translate(267.2 1161.7) rotate(3.5)" y="5.5" class="cl">2.5</text><text transform="translate(305.5 1200.8) rotate(12.6)" y="5.5" class="cl">2</text><path d="M54.5 1210.5V934.8M54.5 1210.5H49.9M54.5 1155.3H49.9M54.5 1100.2H49.9M54.5 1045H49.9M54.5 989.9H49.9M54.5 934.8H49.9M55.3 1211.9H340.3M55.3 1211.9V1216.5M112.3 1211.9V1216.5M169.3 1211.9V1216.5M226.3 1211.9V1216.5M283.3 1211.9V1216.5M340.3 1211.9V1216.5" class="ax"/><text x="55.3" y="1228.7" class="tk">0</text><text x="43.9" y="1210.5" class="tk" transform="rotate(-90 43.9 1210.5)">0</text><text x="112.3" y="1228.7" class="tk">5</text><text x="43.9" y="1155.3" class="tk" transform="rotate(-90 43.9 1155.3)">5</text><text x="169.3" y="1228.7" class="tk">10</text><text x="43.9" y="1100.2" class="tk" transform="rotate(-90 43.9 1100.2)">10</text><text x="226.3" y="1228.7" class="tk">15</text><text x="43.9" y="1045" class="tk" transform="rotate(-90 43.9 1045)">15</text><text x="283.3" y="1228.7" class="tk">20</text><text x="43.9" y="989.9" class="tk" transform="rotate(-90 43.9 989.9)">20</text><text x="340.3" y="1228.7" class="tk">25</text><text x="43.9" y="934.8" class="tk" transform="rotate(-90 43.9 934.8)">25</text><text x="197.8" y="941.5" class="sub">(Protein eaten = 5)</text><text x="197.8" y="1250.7" class="lab">Fructose eaten</text><text x="19.3" y="1072.6" class="lab" transform="rotate(-90 19.3 1072.6)">Glucose eaten</text><path d="M547.7 1177.3l2.2 1.2 2.3 1.1 2.6 1.1 2.5 1.1 2.6 1.1 2.6 1.1 2.3 1 2.7 1.2 2.3 1.1 2.9 1.5 2.3 1.2 2.3 1.2 2.3 1.2 2.3 1.2 2.2 1.2 2.3 1.2 2.3 1.2 2.3 1.2 2.3 1.2 2.2 1.2 2.3 1 2.4 1 1 .3M615.7 1209.4l1.5 .9M413.7 987.7l-1.3 2.2 -1.5 2.2 -1.9 2.2 -1.9 2.2M446.4 1006.4l-1.5 2.3 -1.6 2.2 -1.6 2.2 -1.5 2.2 -1.4 2.2 -1.3 2.2 -1.2 3.3 -.8 3.3 -.6 3.3 -.5 3.3 -.1 3.3 .4 3.3 .7 3.3 .8 3.4 .8 3.3 1 3.3 1.4 3.3 1.7 3.3 1.3 2.2 1.3 2.2 1.3 2.2 1.3 2.2 1.5 2.2 1.7 2.2 1.9 2.2 2 2.2 1.9 2.2 2.1 2.2 2 2.3 2.1 2.2 1.8 1.8 2.3 2.1 2.3 2.1 1.9 1.7 2.6 2.2 2.3 2 2.3 2 2.3 1.9 2 1.8 2.5 2.1 2.3 1.7 2.3 1.7 2.3 1.6 2.2 1.6 2.3 1.6 2.3 1.6 2.3 1.6 2.3 1.6 2.2 1.6 2.3 1.6 2.2 1.6 2.4 1.6 2.3 1.5 2.1 1.3 2.4 1.3 2.3 1.3 2.3 1.3 2.3 1.2 2.2 1.2 2.3 1.3 2.3 1.2 2.3 1.2 2.3 1.3 2.2 1.2 2.3 1.2 2.3 1.2 2.3 1.2 2.3 1.1 2.2 1.1 2.3 1.2 2.3 1.2 2.3 1.3 2.3 1.3 2.2 1.4 2.3 1.3 2.3 1.4 2.3 1.4 2.3 1.4 2.2 1.4 2.2 1.5 1.7 1.1M605.8 1176.1l3.4 1.1 3.4 1.3 3.1 1.1 2.6 1 3.5 1.2 1.1 .4M497 1038.4l-1.4 2.2 -1.5 2.2 -1.3 2.2 -1 3.2 -.5 3.5 0 3.3 .5 3.2 1.1 3.2 1.2 2.4 1.2 2.2 1.2 2.2 1.4 2.2 1.5 2.2 1.5 2 2.1 2.4 2 2.2 2 2.2 1.9 2.1 2.2 2.4 2.4 2.1 2.2 1.8 2.2 1.6 2.4 1.6 2.3 1.5 2.3 1.6 2.2 1.5 2.2 1.5 2.4 1.6 2.3 1.4 2.3 1.3 2.2 1.1 2.3 1.1 2.3 1 2.3 1.1 2.3 1 2.2 1.1 2.3 1 2.3 1.1 2.3 1.1 2.3 1 2.2 1.1 2.3 1 3.4 1.5 1.2 .4M583 1122.9l3.4 1 3.4 1.3 2.3 1.1" class="ct"/><text transform="translate(575.4 1120.7) rotate(18.1)" y="5.5" class="cl">3</text><text transform="translate(590.2 1170.9) rotate(26)" y="5.5" class="cl">2.5</text><text transform="translate(609.3 1205.5) rotate(23.8)" y="5.5" class="cl">2</text><path d="M405.5 1210.5V934.8M405.5 1210.5H400.9M405.5 1155.3H400.9M405.5 1100.2H400.9M405.5 1045H400.9M405.5 989.9H400.9M405.5 934.8H400.9M406.3 1211.9H691.3M406.3 1211.9V1216.5M463.3 1211.9V1216.5M520.3 1211.9V1216.5M577.3 1211.9V1216.5M634.3 1211.9V1216.5M691.3 1211.9V1216.5" class="ax"/><text x="406.3" y="1228.7" class="tk">0</text><text x="394.9" y="1210.5" class="tk" transform="rotate(-90 394.9 1210.5)">0</text><text x="463.3" y="1228.7" class="tk">5</text><text x="394.9" y="1155.3" class="tk" transform="rotate(-90 394.9 1155.3)">5</text><text x="520.3" y="1228.7" class="tk">10</text><text x="394.9" y="1100.2" class="tk" transform="rotate(-90 394.9 1100.2)">10</text><text x="577.3" y="1228.7" class="tk">15</text><text x="394.9" y="1045" class="tk" transform="rotate(-90 394.9 1045)">15</text><text x="634.3" y="1228.7" class="tk">20</text><text x="394.9" y="989.9" class="tk" transform="rotate(-90 394.9 989.9)">20</text><text x="691.3" y="1228.7" class="tk">25</text><text x="394.9" y="934.8" class="tk" transform="rotate(-90 394.9 934.8)">25</text><text x="548.8" y="941.5" class="sub">(Protein eaten = 9)</text><text x="548.8" y="1250.7" class="lab">Fructose eaten</text><text x="370.3" y="1072.6" class="lab" transform="rotate(-90 370.3 1072.6)">Glucose eaten</text><path d="M768.4 1019.7l.3 3.3 -.1 2.2M765.7 1040.3l-.6 2.5 -.8 3.4 -.6 3.3M808.4 1039.5l-1.4 3.3 -1.4 3 -1 2.6 -.9 3.3 -.6 3.3 -.3 3.3 .1 3.3 .3 3.3 .6 3.3 .5 2.2M818 1100.2l1.3 2.2 1.2 2.2 1.2 2.2 .6 1.1M854.6 1138.8l2.3 1.3 2.3 1.3 2.3 1.5 2.3 1.6 2.2 1.7 2.3 1.7 2.3 1.6 2.1 1.4 2.5 1.7 2.2 1.5 2.3 1.5 2.3 1.5 2.3 1.5 2.3 1.5 2.9 1.9M918.5 1178.3l2.3 1.2 2.2 1.2 2.3 1.3 2.3 1.3 2.3 1.4 2.3 1.5M869.9 1085.9l1.8 2.1 2.1 2.3 1.9 2.2 1.7 2.2 1.3 2.2 1.5 2.2 1.8 1.9 1.6 1.4M894.5 1113.9l2.3 2.4 2.3 2.1 2 1.7 2.6 1.8 2.1 1.5 2.4 1.7 2.3 2.7 1.2 2.2 1.4 2.2 1.8 2.2 2.2 2.2 1.4 1.2" class="ct"/><text transform="translate(767.7 1032.9) rotate(-78.4)" y="5.5" class="cl">2</text><text transform="translate(809.5 1086.1) rotate(64.8)" y="5.5" class="cl">2.5</text><text transform="translate(889.2 1108.2) rotate(47.6)" y="5.5" class="cl">3</text><text transform="translate(903.1 1170.9) rotate(29.5)" y="5.5" class="cl">2.5</text><path d="M755.8 1210.5V934.8M755.8 1210.5H751.2M755.8 1155.3H751.2M755.8 1100.2H751.2M755.8 1045H751.2M755.8 989.9H751.2M755.8 934.8H751.2M756.6 1211.9H1041.6M756.6 1211.9V1216.5M813.6 1211.9V1216.5M870.6 1211.9V1216.5M927.6 1211.9V1216.5M984.6 1211.9V1216.5M1041.6 1211.9V1216.5" class="ax"/><text x="756.6" y="1228.7" class="tk">0</text><text x="745.2" y="1210.5" class="tk" transform="rotate(-90 745.2 1210.5)">0</text><text x="813.6" y="1228.7" class="tk">5</text><text x="745.2" y="1155.3" class="tk" transform="rotate(-90 745.2 1155.3)">5</text><text x="870.6" y="1228.7" class="tk">10</text><text x="745.2" y="1100.2" class="tk" transform="rotate(-90 745.2 1100.2)">10</text><text x="927.6" y="1228.7" class="tk">15</text><text x="745.2" y="1045" class="tk" transform="rotate(-90 745.2 1045)">15</text><text x="984.6" y="1228.7" class="tk">20</text><text x="745.2" y="989.9" class="tk" transform="rotate(-90 745.2 989.9)">20</text><text x="1041.6" y="1228.7" class="tk">25</text><text x="745.2" y="934.8" class="tk" transform="rotate(-90 745.2 934.8)">25</text><text x="899.1" y="941.5" class="sub">(Protein eaten = 13)</text><text x="899.1" y="1250.7" class="lab">Fructose eaten</text><text x="720.6" y="1072.6" class="lab" transform="rotate(-90 720.6 1072.6)">Glucose eaten</text><path d="M1208.7 1038.7l1.4 3.3 1.3 2.9 1.6 2.6 1.3 2.2 .9 3.3 -2.6 1.5 -2.2 -1.5 -1.4 -2.2 -1.7 -3.3 -1.5 -2.4M1164.8 1013.6l-2.2 -1.9 -2.3 -2.3 -2.1 -2.8 -1.3 -2.1 -1.4 -2.3 -1.3 -2.2 -1.3 -2.2 -1.2 -2.2 -1.6 -3.1 -1.2 -2.2 -1.1 -2.3 -1.3 -2.3 -1.2 -2.2 -1.4 -2.2 -1.6 -2.3 -1.7 -2.2 -1.9 -2.2 -1.7 -2.2 -1.5 -2.2 -.6 -1.1M1269.8 1085l1.5 3.3 1.2 2.3 1.2 2.2 1.2 2.2 1.4 2.5 1.1 2.4 1.1 2.7 1.2 2.9 1 2.7 1 3.3 .6 3.3 .3 3.4 .2 3.3 0 3.3 -.5 3.3 -1.4 3.3 -2 2.2 -2.4 1.1 -2.5 .5 -3.4 -.1 -3.4 -.3 -1.2 .1M1309.7 1123.7l1.4 3.3 1.5 3 1.4 2.5 1.7 3.3 1.5 3.3 1.1 3 .9 2.5 1.1 3.4 1.1 3.3 1 3.3 .8 3.3 .4 3.3 .3 3.3 .1 2.6 0 2.9 -.4 3.4 -.7 2.6 -1.2 2.5 -2 2.6 -2 2.2 -.9 1.1M1340.2 1153.5l.4 2.2M1349.5 1206.5l.4 3.3 .3 3.3M1367.9 1180l1.2 3.3 1.4 3.3 1.3 2.9 1 2.6 1.2 3.3 1.1 3.3 1 3.4 1 3.3 .9 3.3 .8 3.3 .2 1.1" class="ct"/><text transform="translate(1184.9 1029.7) rotate(31.4)" y="5.5" class="cl">21000</text><text transform="translate(1345.3 1180.7) rotate(80)" y="5.5" class="cl">24000</text><path d="M1123.1 1214.2V938.2M1123.1 1214.2H1118.5M1123.1 1159H1118.5M1123.1 1103.8H1118.5M1123.1 1048.6H1118.5M1123.1 993.4H1118.5M1123.1 938.2H1118.5M1123.9 1215.6H1408.2M1123.9 1215.6V1220.2M1180.8 1215.6V1220.2M1237.6 1215.6V1220.2M1294.5 1215.6V1220.2M1351.3 1215.6V1220.2M1408.2 1215.6V1220.2" class="ax"/><text x="1123.9" y="1232.4" class="tk">0</text><text x="1112.5" y="1214.2" class="tk" transform="rotate(-90 1112.5 1214.2)">0</text><text x="1180.8" y="1232.4" class="tk">5</text><text x="1112.5" y="1159" class="tk" transform="rotate(-90 1112.5 1159)">5</text><text x="1237.6" y="1232.4" class="tk">10</text><text x="1112.5" y="1103.8" class="tk" transform="rotate(-90 1112.5 1103.8)">10</text><text x="1294.5" y="1232.4" class="tk">15</text><text x="1112.5" y="1048.6" class="tk" transform="rotate(-90 1112.5 1048.6)">15</text><text x="1351.3" y="1232.4" class="tk">20</text><text x="1112.5" y="993.4" class="tk" transform="rotate(-90 1112.5 993.4)">20</text><text x="1408.2" y="1232.4" class="tk">25</text><text x="1112.5" y="938.2" class="tk" transform="rotate(-90 1112.5 938.2)">25</text><text x="1266" y="944.9" class="sub">(Protein eaten = 5)</text><text x="1266" y="1254.4" class="lab">Fructose eaten</text><text x="1087.9" y="1076.2" class="lab" transform="rotate(-90 1087.9 1076.2)">Glucose eaten</text><path d="M1510.8 1022.1l1.2 1.1M1547.2 1060.2l2.2 2.5 2.1 2.5 1.6 2.2 1.6 2.2 1.2 2.2 .9 3.3 -1.7 2.6 -3.4 .2 -2.4 -.6 -3 -1.1 -2.5 -1.3 -2.3 -1.5 -2.3 -1.5 -2.3 -1.6 -2.5 -1.8M1508.2 1028.7l.1 -3.3 1.1 -3.3 1.4 0M1573.3 1048.4l1.5 2.4 1.4 2.2 1.4 2.2 1.4 2.2 1.4 2.2 1.4 2.2 1.3 2.3 1.4 2.2 1.4 2.2 1.4 2.2 1.4 2.2 1.4 2.2 1.4 2.1 1.5 2.3 1.5 2.2 1.5 2.2 1.4 2.2 1.5 2.2 1.4 2.3 1.4 2.1 1.5 2.3 1.5 2.2 1.4 2.2 1.5 2.2 1.5 2.2 1.4 2.2 1.5 2.2 1.5 2.2 1.4 2.2 1.5 2.2 1.4 2.2 1.3 2.3 1.4 2.2 1.3 2.2 1.4 2.2 1.3 2.2 1.3 2.2 1.3 2.2 1.2 2.2 1.7 3.3 1.3 2.6 1.1 2.4 1.2 2.3 1.1 2.4 1.1 2.5 1.2 3 .7 2.5 .6 3.3 -.2 2.9 -1.1 2.5 -3.4 .2 -1.2 -.4M1585.8 1145.9l-2.2 -1.4 -2.3 -2 -1.5 -2.3 -1.2 -2.2 -1.7 -3.3 -1.3 -2.2 -1.9 -2.2 -2.3 -2.2 -2.3 -2.2 -1.9 -2.2 -1.7 -2.2 -1.6 -2.2 -1.6 -2.3 -1.5 -2.1 -1.6 -2.3 -1.5 -2.2 -1.7 -2.2 -1.6 -2.2 -1.5 -2.1 -1.9 -2.3 -1.9 -2.2 -1.8 -2.2 -2 -2.2 -1.9 -2.2 -1.9 -2.2 -1.9 -2.3 -2 -2.2 -1.8 -1.9 -2.3 -2.5 -2 -2.2 -2.3 -2.2 -2.4 -2.2 -2.4 -2.2 -2.2 -2.1 -2.3 -2 -2.3 -2.1 -2.3 -2.1 -2.2 -2.1 -2.3 -2.2 -1.8 -1.8 -2.4 -2.2 -2.3 -2.2 -2.4 -2.2 -2.4 -2.2 -2.4 -2.1 -2.2 -2 -2.3 -2 -2.3 -2 -2 -1.8 -2.5 -2.2 -2.3 -2 -2.3 -1.9 -1.9 -1.7 -2.6 -2.2 -1.3 -1.1M1616.5 1081.3l1.2 2.5 1 2.3 1.2 2.7 1.2 2.4 1.4 2.7 1.3 2.2 .7 1.2M1652.7 1140.2l1.6 2.2 1.5 2.2 1.6 2.3 1.7 2.2 1.7 2.2 1.8 2.2 1.7 2.1 1.7 2.3 1.6 2.2 1.3 2.2 1.2 2.2 1.7 3.3 1.6 3.1 1.1 2.4 1.1 2.6 1 3 .9 3.3 .7 3.3 .6 3.3 .6 3.3 .4 3.3 .2 3.3 .2 3.1 .1 3.6 .1 3.3 0 3.3 -.1 1.1M1485.6 1063l-1.9 -3.4 -1.7 -2.2 -1.7 -2.2 -1.7 -2.2 -1.9 -1.8 -2.2 -1.5" class="ct"/><text transform="translate(1528.6 1043.4) rotate(40.1)" y="5.5" class="cl">23000</text><text transform="translate(1608.8 1156) rotate(19.9)" y="5.5" class="cl">24000</text><text transform="translate(1638.4 1119.4) rotate(56.6)" y="5.5" class="cl">25000</text><path d="M1473.6 1214.2V938.2M1473.6 1214.2H1469M1473.6 1159H1469M1473.6 1103.8H1469M1473.6 1048.6H1469M1473.6 993.4H1469M1473.6 938.2H1469M1474.4 1215.6H1758.7M1474.4 1215.6V1220.2M1531.2 1215.6V1220.2M1588.1 1215.6V1220.2M1645 1215.6V1220.2M1701.8 1215.6V1220.2M1758.7 1215.6V1220.2" class="ax"/><text x="1474.4" y="1232.4" class="tk">0</text><text x="1463" y="1214.2" class="tk" transform="rotate(-90 1463 1214.2)">0</text><text x="1531.2" y="1232.4" class="tk">5</text><text x="1463" y="1159" class="tk" transform="rotate(-90 1463 1159)">5</text><text x="1588.1" y="1232.4" class="tk">10</text><text x="1463" y="1103.8" class="tk" transform="rotate(-90 1463 1103.8)">10</text><text x="1645" y="1232.4" class="tk">15</text><text x="1463" y="1048.6" class="tk" transform="rotate(-90 1463 1048.6)">15</text><text x="1701.8" y="1232.4" class="tk">20</text><text x="1463" y="993.4" class="tk" transform="rotate(-90 1463 993.4)">20</text><text x="1758.7" y="1232.4" class="tk">25</text><text x="1463" y="938.2" class="tk" transform="rotate(-90 1463 938.2)">25</text><text x="1616.5" y="944.9" class="sub">(Protein eaten = 9)</text><text x="1616.5" y="1254.4" class="lab">Fructose eaten</text><text x="1438.4" y="1076.2" class="lab" transform="rotate(-90 1438.4 1076.2)">Glucose eaten</text><path d="M1900.3 1057.4l1.9 1.8 2.3 2.2 2.3 2.2 2.2 2.2 2.3 2.3 2.3 2.2 2.3 2.3 2.2 2.5 1.9 2.2 1.5 2 1.8 2.4 1.7 2.2 1.6 2.2 1.6 2.2 1.6 2.3 1.5 2.2 1.6 2.2 1.6 2.2 1.7 2.2 1.7 2.2 1.8 2.2 1.8 2.2 1.6 2 2.1 2.4 1.7 2.2 1.8 2.2 1.8 2.2 1.7 2.3 1.7 2.2 1.6 2.2 1.4 2.2 1.3 2.2 1.2 2.2 1.2 2.2 1.7 3.3 1.3 2.5 1.2 2.3 1.1 2.3 1.1 2.7 .9 2.4 .4 1.1M1984.6 1197.6l.3 1.1" class="ct"/><text transform="translate(1976.7 1173.8) rotate(71.3)" y="5.5" class="cl">25000</text><path d="M1824.1 1214.2V938.2M1824.1 1214.2H1819.5M1824.1 1159H1819.5M1824.1 1103.8H1819.5M1824.1 1048.6H1819.5M1824.1 993.4H1819.5M1824.1 938.2H1819.5M1824.9 1215.6H2109.2M1824.9 1215.6V1220.2M1881.8 1215.6V1220.2M1938.6 1215.6V1220.2M1995.5 1215.6V1220.2M2052.3 1215.6V1220.2M2109.2 1215.6V1220.2" class="ax"/><text x="1824.9" y="1232.4" class="tk">0</text><text x="1813.5" y="1214.2" class="tk" transform="rotate(-90 1813.5 1214.2)">0</text><text x="1881.8" y="1232.4" class="tk">5</text><text x="1813.5" y="1159" class="tk" transform="rotate(-90 1813.5 1159)">5</text><text x="1938.6" y="1232.4" class="tk">10</text><text x="1813.5" y="1103.8" class="tk" transform="rotate(-90 1813.5 1103.8)">10</text><text x="1995.5" y="1232.4" class="tk">15</text><text x="1813.5" y="1048.6" class="tk" transform="rotate(-90 1813.5 1048.6)">15</text><text x="2052.3" y="1232.4" class="tk">20</text><text x="1813.5" y="993.4" class="tk" transform="rotate(-90 1813.5 993.4)">20</text><text x="2109.2" y="1232.4" class="tk">25</text><text x="1813.5" y="938.2" class="tk" transform="rotate(-90 1813.5 938.2)">25</text><text x="1967" y="944.9" class="sub">(Protein eaten = 13)</text><text x="1967" y="1254.4" class="lab">Fructose eaten</text><text x="1788.9" y="1076.2" class="lab" transform="rotate(-90 1788.9 1076.2)">Glucose eaten</text><path d="M311.8 1640.8l-2.3 -1.9 -2.3 -1.8 -2.2 -1.8 -2.3 -1.8 -2.3 -1.8 -2.3 -1.8 -1.9 -1.6 -2.6 -2.1 -2.3 -1.8 -2.3 -1.9 -2.2 -1.8 -2.3 -1.8 -2.1 -1.6 -2.5 -1.8 -2.2 -1.5 -2.3 -1.6 -2.3 -1.5 -2.3 -1.5 -2.3 -1.5 -2.2 -1.4 -2.3 -1.5 -2.3 -1.5 -2.3 -1.5 -2.2 -1.5 -2.3 -1.6 -2.1 -1.4 -2.5 -1.6 -2.2 -1.5 -2 -1.3M210.5 1571.3l-2.3 -1.3 -2.2 -1.3 -2.3 -1.1 -3.4 -1.4 -1.2 -.5M152 1519.5l1.6 -2.7 2.3 -1.3 1 -2.6 -.1 -3.3 -.7 -3.3 -1.1 -3.3 -1.2 -3.3 -1.3 -3.3 -1.2 -2.7 -1.1 -2.4 -1.4 -2.6 -1.2 -2.2 -1.3 -2.2 -1.3 -2.2 -1.2 -2.2 -1.2 -2.2 -1.2 -2.1 -1.2 -2.2" class="ct"/><text transform="translate(130.5 1454.6) rotate(61.9)" y="5.5" class="cl">0.87</text><text transform="translate(228.6 1582.3) rotate(31.5)" y="5.5" class="cl">0.87</text><path d="M53.8 1641.5V1366.8M53.8 1641.5H49.2M53.8 1586.5H49.2M53.8 1531.6H49.2M53.8 1476.7H49.2M53.8 1421.7H49.2M53.8 1366.8H49.2M54.6 1642.9H339.1M54.6 1642.9V1647.5M111.5 1642.9V1647.5M168.4 1642.9V1647.5M225.3 1642.9V1647.5M282.2 1642.9V1647.5M339.1 1642.9V1647.5" class="ax"/><text x="54.6" y="1659.7" class="tk">0</text><text x="43.2" y="1641.5" class="tk" transform="rotate(-90 43.2 1641.5)">0</text><text x="111.5" y="1659.7" class="tk">5</text><text x="43.2" y="1586.5" class="tk" transform="rotate(-90 43.2 1586.5)">5</text><text x="168.4" y="1659.7" class="tk">10</text><text x="43.2" y="1531.6" class="tk" transform="rotate(-90 43.2 1531.6)">10</text><text x="225.3" y="1659.7" class="tk">15</text><text x="43.2" y="1476.7" class="tk" transform="rotate(-90 43.2 1476.7)">15</text><text x="282.2" y="1659.7" class="tk">20</text><text x="43.2" y="1421.7" class="tk" transform="rotate(-90 43.2 1421.7)">20</text><text x="339.1" y="1659.7" class="tk">25</text><text x="43.2" y="1366.8" class="tk" transform="rotate(-90 43.2 1366.8)">25</text><text x="196.8" y="1373.5" class="sub">(Protein eaten = 5)</text><text x="196.8" y="1681.7" class="lab">Fructose eaten</text><text x="18.6" y="1504.1" class="lab" transform="rotate(-90 18.6 1504.1)">Glucose eaten</text><path d="M585.6 1606.4l-1.2 -2.3 -1.5 -3.3 -1.2 -3.3 -1.1 -3.3 -1.1 -3.3 -1.1 -3.3 -1 -3.2 -.9 -2.5 -1 -3 -1.2 -3.3 -1.2 -2.6 -1.1 -2.2 -1.6 -2.9 -1.2 -2.2 -1.2 -2.2 -1.2 -2.2 -1.2 -2.2 -1.2 -2.2 -1.3 -2.2 -1.2 -2.2 -1.3 -2.2 -1.4 -2.2 -1.4 -2.2 -1.4 -2.2 -1.5 -2.2 -1.4 -2.2 -1.5 -2.2 -1.4 -2.2 -1.5 -2.2 -1.4 -2.2 -1.5 -2.2 -1.4 -2.2 -1.5 -2.2 -1.5 -2.2 -1.5 -2.2 -1.6 -2.2 -1.6 -2.2 -1.5 -2 -1.7 -2.4 -1.5 -2.2 -1.4 -2.1 -1.6 -2.3 -1.6 -2.2 -1.7 -2.2 -1.7 -2.2 -1.8 -2.2 -1.7 -2.2 -1.7 -2.2 -1.5 -2.2 -1.6 -3.3M410.4 1485.3l3.4 1.1 2.8 1.2 2.9 1.6 2.3 1.2 2.2 1.1 2.3 1.2 3.4 1.5 3.8 1.1M475.3 1502.5l2.1 -1.7 1.3 -2.5 .8 -3 .2 -3.3 0 -3.3 -.1 -3.3 -.2 -3.3 -.4 -3.3 -.7 -3.2 -.8 -2.4 -1 -3.1 -1.2 -3.3 -1.2 -3.3 -1.1 -3.2 -1.2 -3.1 -.9 -2.5 -1 -3.3 -.5 -3.3M405.8 1443.2l3.5 -.4 3.4 -.6 3.4 -1.5 2.3 -1.7 2.1 -1.9 1.5 -2.2 1.3 -3.3 1 -3.3 .9 -3.3" class="ct"/><text transform="translate(453.6 1500.9) rotate(11.7)" y="5.5" class="cl">0.86</text><text transform="translate(597.3 1623.5) rotate(68.4)" y="5.5" class="cl">0.85</text><path d="M403.9 1641.5V1366.8M403.9 1641.5H399.3M403.9 1586.5H399.3M403.9 1531.6H399.3M403.9 1476.7H399.3M403.9 1421.7H399.3M403.9 1366.8H399.3M404.7 1642.9H689.2M404.7 1642.9V1647.5M461.6 1642.9V1647.5M518.5 1642.9V1647.5M575.4 1642.9V1647.5M632.3 1642.9V1647.5M689.2 1642.9V1647.5" class="ax"/><text x="404.7" y="1659.7" class="tk">0</text><text x="393.3" y="1641.5" class="tk" transform="rotate(-90 393.3 1641.5)">0</text><text x="461.6" y="1659.7" class="tk">5</text><text x="393.3" y="1586.5" class="tk" transform="rotate(-90 393.3 1586.5)">5</text><text x="518.5" y="1659.7" class="tk">10</text><text x="393.3" y="1531.6" class="tk" transform="rotate(-90 393.3 1531.6)">10</text><text x="575.4" y="1659.7" class="tk">15</text><text x="393.3" y="1476.7" class="tk" transform="rotate(-90 393.3 1476.7)">15</text><text x="632.3" y="1659.7" class="tk">20</text><text x="393.3" y="1421.7" class="tk" transform="rotate(-90 393.3 1421.7)">20</text><text x="689.2" y="1659.7" class="tk">25</text><text x="393.3" y="1366.8" class="tk" transform="rotate(-90 393.3 1366.8)">25</text><text x="547" y="1373.5" class="sub">(Protein eaten = 9)</text><text x="547" y="1681.7" class="lab">Fructose eaten</text><text x="368.7" y="1504.1" class="lab" transform="rotate(-90 368.7 1504.1)">Glucose eaten</text><path d="M894.7 1607.4l1 -3.3 1.2 -3.3 1 -3.3 .6 -3.3 .3 -3.3 .2 -3.3 -.1 -3.2 -.4 -3.3 -.6 -3.3 -.7 -3.3 -.9 -3.3M878.1 1532.7l-.4 -3.3 -.1 -3.3M833.7 1552.5l.1 -3.3 .3 -2.2M841.8 1505.2l.5 -3.3 .6 -3.3 .7 -3.4M784.4 1502l2.7 -1.2 3 -1 3.3 -1.2 2.4 -1.2 2.2 -1.7 2.3 -2 2.2 -2.8 1.2 -2.2 1.2 -2.9 .6 -2.6 .2 -3.3 -.1 -3.3 0 -3.2 .3 -3.3M755.6 1459.1l2.6 -1.6 2.3 -1.4 2.3 -1.7 2.1 -1.9 1.3 -1.5" class="ct"/><text transform="translate(838.7 1526.2) rotate(-81)" y="5.5" class="cl">0.84</text><text transform="translate(887.8 1551.4) rotate(63.1)" y="5.5" class="cl">0.83</text><path d="M754 1641.5V1366.8M754 1641.5H749.4M754 1586.5H749.4M754 1531.6H749.4M754 1476.7H749.4M754 1421.7H749.4M754 1366.8H749.4M754.8 1642.9H1039.3M754.8 1642.9V1647.5M811.7 1642.9V1647.5M868.6 1642.9V1647.5M925.5 1642.9V1647.5M982.4 1642.9V1647.5M1039.3 1642.9V1647.5" class="ax"/><text x="754.8" y="1659.7" class="tk">0</text><text x="743.4" y="1641.5" class="tk" transform="rotate(-90 743.4 1641.5)">0</text><text x="811.7" y="1659.7" class="tk">5</text><text x="743.4" y="1586.5" class="tk" transform="rotate(-90 743.4 1586.5)">5</text><text x="868.6" y="1659.7" class="tk">10</text><text x="743.4" y="1531.6" class="tk" transform="rotate(-90 743.4 1531.6)">10</text><text x="925.5" y="1659.7" class="tk">15</text><text x="743.4" y="1476.7" class="tk" transform="rotate(-90 743.4 1476.7)">15</text><text x="982.4" y="1659.7" class="tk">20</text><text x="743.4" y="1421.7" class="tk" transform="rotate(-90 743.4 1421.7)">20</text><text x="1039.3" y="1659.7" class="tk">25</text><text x="743.4" y="1366.8" class="tk" transform="rotate(-90 743.4 1366.8)">25</text><text x="897" y="1373.5" class="sub">(Protein eaten = 13)</text><text x="897" y="1681.7" class="lab">Fructose eaten</text><text x="718.8" y="1504.1" class="lab" transform="rotate(-90 718.8 1504.1)">Glucose eaten</text><text x="15.4" y="28.6" class="ti">A. Gonadal white fat pad weight <tspan class="it">(mg/g)</tspan></text><text x="1088.9" y="30.2" class="ti">B. Inguinal white fat pad weight <tspan class="it">(mg/g)</tspan></text><text x="14" y="456" class="ti">C. Visceral:Subcutaneous fat</text><text x="19.9" y="892" class="ti">D. Interscapular brown fat pad weight <tspan class="it">(mg/g)</tspan></text><text x="1092" y="898.5" class="ti">E. Physical activity (Week 12-14) <tspan class="it">(Beam breaks)</tspan></text><text x="25.9" y="1323.2" class="ti">F. Respiratory Quotient (Week 12-14)</text></svg></body></html>
